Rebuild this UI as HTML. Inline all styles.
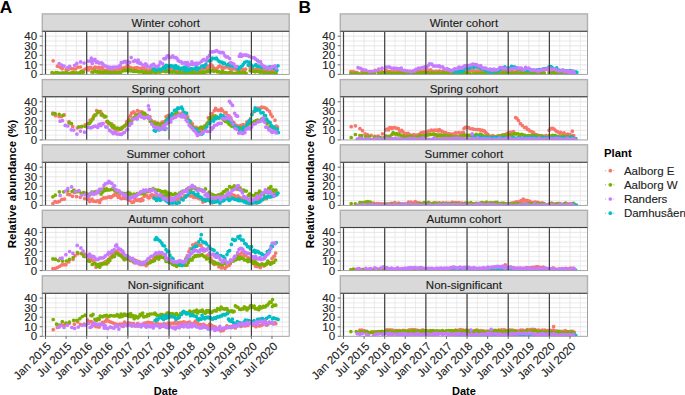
<!DOCTYPE html>
<html><head><meta charset="utf-8"><style>html,body{margin:0;padding:0;background:#fff;overflow:hidden}</style></head>
<body><svg width="685" height="395" viewBox="0 0 685 395" style="display:block">
<rect width="685" height="395" fill="#fff"/>
<line x1="45.50" y1="31.30" x2="45.50" y2="74.40" stroke="#e3e3e3" stroke-width="0.9"/><line x1="55.80" y1="31.30" x2="55.80" y2="74.40" stroke="#e3e3e3" stroke-width="0.7"/><line x1="66.09" y1="31.30" x2="66.09" y2="74.40" stroke="#e3e3e3" stroke-width="0.9"/><line x1="76.38" y1="31.30" x2="76.38" y2="74.40" stroke="#e3e3e3" stroke-width="0.7"/><line x1="86.68" y1="31.30" x2="86.68" y2="74.40" stroke="#e3e3e3" stroke-width="0.9"/><line x1="96.97" y1="31.30" x2="96.97" y2="74.40" stroke="#e3e3e3" stroke-width="0.7"/><line x1="107.27" y1="31.30" x2="107.27" y2="74.40" stroke="#e3e3e3" stroke-width="0.9"/><line x1="117.56" y1="31.30" x2="117.56" y2="74.40" stroke="#e3e3e3" stroke-width="0.7"/><line x1="127.86" y1="31.30" x2="127.86" y2="74.40" stroke="#e3e3e3" stroke-width="0.9"/><line x1="138.16" y1="31.30" x2="138.16" y2="74.40" stroke="#e3e3e3" stroke-width="0.7"/><line x1="148.45" y1="31.30" x2="148.45" y2="74.40" stroke="#e3e3e3" stroke-width="0.9"/><line x1="158.75" y1="31.30" x2="158.75" y2="74.40" stroke="#e3e3e3" stroke-width="0.7"/><line x1="169.04" y1="31.30" x2="169.04" y2="74.40" stroke="#e3e3e3" stroke-width="0.9"/><line x1="179.34" y1="31.30" x2="179.34" y2="74.40" stroke="#e3e3e3" stroke-width="0.7"/><line x1="189.63" y1="31.30" x2="189.63" y2="74.40" stroke="#e3e3e3" stroke-width="0.9"/><line x1="199.93" y1="31.30" x2="199.93" y2="74.40" stroke="#e3e3e3" stroke-width="0.7"/><line x1="210.22" y1="31.30" x2="210.22" y2="74.40" stroke="#e3e3e3" stroke-width="0.9"/><line x1="220.51" y1="31.30" x2="220.51" y2="74.40" stroke="#e3e3e3" stroke-width="0.7"/><line x1="230.81" y1="31.30" x2="230.81" y2="74.40" stroke="#e3e3e3" stroke-width="0.9"/><line x1="241.10" y1="31.30" x2="241.10" y2="74.40" stroke="#e3e3e3" stroke-width="0.7"/><line x1="251.40" y1="31.30" x2="251.40" y2="74.40" stroke="#e3e3e3" stroke-width="0.9"/><line x1="261.69" y1="31.30" x2="261.69" y2="74.40" stroke="#e3e3e3" stroke-width="0.7"/><line x1="271.99" y1="31.30" x2="271.99" y2="74.40" stroke="#e3e3e3" stroke-width="0.9"/><line x1="282.28" y1="31.30" x2="282.28" y2="74.40" stroke="#e3e3e3" stroke-width="0.7"/><line x1="42.30" y1="69.62" x2="289.20" y2="69.62" stroke="#e3e3e3" stroke-width="0.7"/><line x1="42.30" y1="64.85" x2="289.20" y2="64.85" stroke="#e3e3e3" stroke-width="0.9"/><line x1="42.30" y1="60.08" x2="289.20" y2="60.08" stroke="#e3e3e3" stroke-width="0.7"/><line x1="42.30" y1="55.30" x2="289.20" y2="55.30" stroke="#e3e3e3" stroke-width="0.9"/><line x1="42.30" y1="50.53" x2="289.20" y2="50.53" stroke="#e3e3e3" stroke-width="0.7"/><line x1="42.30" y1="45.75" x2="289.20" y2="45.75" stroke="#e3e3e3" stroke-width="0.9"/><line x1="42.30" y1="40.98" x2="289.20" y2="40.98" stroke="#e3e3e3" stroke-width="0.7"/><line x1="42.30" y1="36.20" x2="289.20" y2="36.20" stroke="#e3e3e3" stroke-width="0.9"/><line x1="42.30" y1="31.43" x2="289.20" y2="31.43" stroke="#e3e3e3" stroke-width="0.7"/>
<clipPath id="cp00"><rect x="42.30" y="31.30" width="246.90" height="43.10"/></clipPath><g clip-path="url(#cp00)"><path d="M53.2 60.8h0M57.4 66.2h0M60.1 67.1h0M62.2 68.7h0M66.1 69.6h0M68.2 69.5h0M71.4 68.6h0M73.3 68.9h0M75.6 69.0h0M77.7 67.1h0M80.4 67.0h0M83.1 70.4h0M85.3 69.0h0M87.4 67.6h0M88.4 69.9h0M89.7 67.5h0M90.9 67.4h0M91.9 68.7h0M93.9 68.3h0M95.0 67.1h0M96.1 67.5h0M97.4 67.8h0M98.6 67.3h0M99.9 69.2h0M101.4 67.3h0M102.4 67.2h0M103.4 69.8h0M104.6 70.7h0M106.6 70.0h0M108.0 69.2h0M109.2 71.4h0M110.5 68.3h0M112.0 70.6h0M113.3 71.5h0M114.5 70.6h0M116.0 70.3h0M117.1 69.1h0M119.0 68.9h0M120.0 69.3h0M121.0 68.9h0M122.1 68.0h0M123.2 68.4h0M124.7 67.5h0M126.1 68.4h0M127.2 65.6h0M128.3 65.9h0M129.9 68.9h0M131.0 67.5h0M132.2 68.3h0M133.6 68.8h0M134.7 67.9h0M136.0 69.5h0M137.2 67.7h0M138.4 68.1h0M141.1 68.3h0M142.5 69.1h0M143.6 68.0h0M144.6 68.9h0M145.6 69.0h0M146.7 69.9h0M148.0 70.3h0M149.0 70.4h0M150.0 70.3h0M151.3 69.5h0M152.4 69.6h0M153.5 69.8h0M155.7 70.5h0M156.9 69.6h0M157.9 70.0h0M159.0 69.8h0M160.0 71.8h0M161.0 71.0h0M162.7 69.4h0M163.7 66.9h0M165.0 69.1h0M166.0 68.0h0M167.1 67.7h0M168.4 68.6h0M169.6 68.4h0M170.7 67.4h0M172.0 70.3h0M174.6 68.4h0M175.9 69.0h0M177.0 70.1h0M178.0 69.9h0M179.1 69.4h0M180.4 70.5h0M181.9 69.4h0M183.3 69.5h0M184.4 70.7h0M185.5 70.7h0M186.8 71.9h0M188.9 69.6h0M189.9 69.1h0M191.2 72.0h0M192.5 69.5h0M193.7 71.1h0M194.8 71.9h0M196.2 71.2h0M198.2 69.8h0M199.5 70.0h0M200.5 70.0h0M201.9 69.5h0M203.3 68.5h0M205.3 67.4h0M206.3 68.6h0M207.3 68.4h0M208.5 66.0h0M209.7 67.1h0M210.8 64.1h0M212.4 65.9h0M213.4 67.7h0M214.6 68.5h0M216.1 68.7h0M217.3 68.0h0M218.7 66.5h0M219.9 65.9h0M221.5 67.1h0M222.5 69.3h0M223.6 67.7h0M224.8 67.7h0M225.9 66.8h0M227.1 66.6h0M228.8 68.0h0M229.9 68.4h0M231.1 70.6h0M232.3 69.2h0M233.5 67.1h0M234.7 68.3h0M236.0 69.4h0M237.2 67.1h0M238.5 69.8h0M239.9 70.2h0M241.1 69.2h0M243.4 69.6h0M244.6 69.5h0M245.6 69.1h0M250.2 67.7h0M251.5 68.3h0M252.9 69.0h0M254.2 69.6h0M256.1 69.3h0M257.5 68.8h0M258.7 66.1h0M260.0 69.7h0M261.0 68.6h0M263.0 70.4h0M264.1 69.9h0M265.3 69.8h0M266.5 70.9h0M267.8 70.2h0M269.0 72.8h0M270.6 71.4h0M271.6 70.3h0M273.0 70.8h0M274.0 71.3h0M275.4 71.4h0" fill="none" stroke="#F8766D" stroke-width="3.7" stroke-linecap="round"/>
<path d="M52.0 72.5h0M53.1 73.1h0M54.5 73.4h0M55.9 72.7h0M57.3 72.6h0M60.1 73.1h0M61.2 73.7h0M62.6 72.8h0M63.7 73.1h0M65.2 72.8h0M66.5 72.6h0M68.0 73.4h0M69.2 73.3h0M70.3 73.3h0M71.4 72.9h0M72.6 72.9h0M73.8 72.5h0M75.0 73.5h0M76.3 72.9h0M77.3 73.1h0M78.5 73.4h0M79.8 72.7h0M81.0 71.6h0M82.1 72.8h0M83.5 72.1h0M91.8 72.0h0M92.9 72.2h0M94.1 71.6h0M95.3 70.9h0M96.6 71.9h0M97.8 71.5h0M98.9 72.4h0M99.9 72.2h0M101.2 72.2h0M102.2 72.5h0M103.6 72.7h0M104.7 71.7h0M105.7 72.1h0M106.8 72.8h0M108.0 72.2h0M109.4 73.5h0M110.6 72.4h0M111.7 73.5h0M112.8 72.8h0M114.0 72.4h0M115.2 72.6h0M116.2 72.9h0M117.3 72.8h0M118.3 72.7h0M119.2 72.4h0M120.5 72.8h0M123.0 70.8h0M124.6 70.0h0M125.7 70.6h0M127.0 70.2h0M128.1 70.8h0M129.3 69.7h0M130.6 70.8h0M131.9 70.7h0M133.3 71.4h0M134.5 70.6h0M135.9 71.3h0M137.1 71.1h0M138.1 71.6h0M139.5 72.0h0M140.7 71.4h0M142.0 71.5h0M143.2 72.8h0M144.6 72.1h0M145.8 72.1h0M147.1 72.1h0M148.2 72.7h0M149.5 72.6h0M150.6 72.5h0M151.8 71.2h0M152.9 72.1h0M154.2 71.6h0M155.5 72.4h0M156.6 72.2h0M159.0 71.8h0M159.9 71.8h0M161.0 71.4h0M162.3 71.0h0M163.4 71.0h0M164.6 71.3h0M165.6 71.5h0M166.0 71.6h0M167.4 71.5h0M168.4 70.9h0M169.8 72.0h0M171.0 71.8h0M172.4 72.2h0M173.5 71.7h0M174.7 71.8h0M176.1 72.5h0M178.2 72.8h0M179.5 72.4h0M180.7 73.3h0M181.7 73.0h0M182.9 72.6h0M184.0 73.0h0M185.1 73.1h0M186.5 73.7h0M188.7 73.1h0M190.1 72.9h0M191.2 72.1h0M192.4 71.8h0M193.6 74.1h0M194.8 72.8h0M195.7 73.2h0M196.8 73.3h0M198.2 72.8h0M199.7 72.6h0M200.8 72.7h0M202.2 73.1h0M203.5 71.8h0M204.9 72.6h0M206.2 71.7h0M207.2 71.7h0M208.9 70.6h0M210.0 71.7h0M211.0 70.6h0M212.4 70.1h0M213.8 71.3h0M216.2 70.8h0M217.3 71.8h0M218.3 71.7h0M219.7 72.1h0M221.4 73.4h0M222.5 71.4h0M223.6 72.4h0M224.7 72.6h0M225.7 72.6h0M226.9 73.0h0M228.3 72.8h0M229.5 72.5h0M230.7 72.7h0M232.3 73.3h0M233.7 73.4h0M234.9 73.3h0M236.3 73.0h0M237.4 73.2h0M238.6 71.8h0M239.9 73.1h0M241.3 72.8h0M242.6 72.7h0M244.0 72.0h0M245.0 72.7h0M246.1 73.3h0M250.2 70.7h0M251.6 70.5h0M252.7 71.1h0M253.9 71.2h0M255.2 71.8h0M256.4 71.0h0M257.7 71.3h0M259.0 71.5h0M260.1 72.3h0M261.2 71.5h0M262.2 71.9h0M263.5 72.7h0M264.5 72.7h0M265.8 72.6h0M266.9 72.6h0M268.5 73.2h0M269.7 73.3h0M271.0 72.6h0M272.2 72.9h0M273.7 73.3h0M274.9 73.0h0M276.1 73.2h0" fill="none" stroke="#7CAE00" stroke-width="3.7" stroke-linecap="round"/>
<path d="M153.3 68.9h0M154.5 68.8h0M155.9 70.2h0M157.0 69.5h0M158.1 68.7h0M159.4 69.0h0M160.9 69.8h0M161.9 68.8h0M163.3 67.5h0M164.3 67.7h0M165.5 68.9h0M166.0 65.3h0M167.2 65.7h0M168.4 66.3h0M169.6 66.3h0M170.8 65.7h0M171.8 66.6h0M172.8 66.1h0M174.4 68.2h0M175.7 65.6h0M177.1 68.1h0M178.2 67.2h0M180.0 69.3h0M181.1 68.4h0M182.3 68.0h0M183.2 69.0h0M184.3 67.2h0M185.3 70.8h0M187.0 67.7h0M188.3 70.2h0M189.5 69.7h0M190.6 68.9h0M192.0 68.8h0M194.1 69.1h0M195.3 68.6h0M196.3 66.3h0M197.2 69.7h0M198.3 68.3h0M199.6 68.0h0M201.8 66.0h0M203.1 65.9h0M204.2 67.2h0M205.9 64.4h0M207.1 60.8h0M209.5 60.8h0M210.9 60.4h0M212.4 58.2h0M213.6 58.5h0M215.0 58.7h0M216.4 58.0h0M217.9 60.0h0M219.1 61.6h0M220.4 61.9h0M222.3 62.4h0M223.3 63.7h0M224.4 63.2h0M227.1 65.0h0M228.1 64.6h0M229.1 63.6h0M230.4 65.7h0M231.6 65.0h0M232.9 65.5h0M234.3 66.7h0M235.9 66.9h0M237.1 66.6h0M238.2 69.1h0M239.5 67.9h0M240.7 66.9h0M242.3 65.8h0M243.3 64.3h0M244.7 62.4h0M246.8 61.5h0M248.2 65.2h0M249.2 62.2h0M251.2 65.1h0M252.4 66.8h0M254.9 65.6h0M256.0 64.5h0M257.4 66.3h0M259.6 66.4h0M260.6 66.4h0M261.7 67.5h0M262.8 66.2h0M264.7 66.9h0M265.8 67.7h0M266.9 67.5h0M268.0 68.6h0M269.0 67.1h0M270.3 66.9h0M271.3 67.6h0M272.4 67.6h0M273.5 66.8h0M274.6 68.5h0M275.7 67.6h0M276.9 70.3h0M278.0 65.8h0" fill="none" stroke="#00BFC4" stroke-width="3.7" stroke-linecap="round"/>
<path d="M59.2 63.5h0M61.7 65.2h0M64.1 66.2h0M67.7 67.7h0M69.7 66.3h0M74.6 65.3h0M76.9 63.3h0M80.6 61.9h0M84.1 63.0h0M88.1 61.1h0M90.3 61.1h0M91.3 58.0h0M92.3 63.3h0M93.5 60.2h0M95.0 59.4h0M96.3 62.3h0M97.6 61.8h0M99.3 63.1h0M100.6 63.0h0M101.7 62.9h0M102.9 63.9h0M104.0 65.3h0M105.3 66.1h0M106.7 66.3h0M107.7 67.3h0M108.9 67.2h0M110.2 67.4h0M111.5 68.8h0M112.6 67.3h0M113.8 67.1h0M115.7 67.0h0M117.0 67.4h0M119.2 66.1h0M120.2 65.4h0M121.2 62.7h0M122.9 62.5h0M123.8 61.8h0M125.1 61.4h0M126.5 62.4h0M127.6 61.3h0M129.9 62.3h0M131.2 57.5h0M133.6 61.3h0M135.0 60.4h0M137.2 62.1h0M138.2 60.1h0M139.3 63.2h0M140.8 63.2h0M142.2 64.8h0M144.4 65.5h0M145.5 63.9h0M146.5 64.9h0M147.5 66.3h0M150.2 67.3h0M151.2 65.4h0M152.4 64.8h0M153.7 64.0h0M155.5 66.4h0M156.9 66.9h0M159.0 65.2h0M160.3 62.1h0M162.6 63.6h0M163.9 58.6h0M165.2 58.7h0M166.0 58.1h0M167.1 56.0h0M168.3 55.5h0M169.6 57.4h0M170.6 57.4h0M172.7 55.9h0M174.1 57.4h0M176.1 57.7h0M177.1 58.6h0M178.2 60.7h0M179.9 61.5h0M181.2 61.8h0M182.3 63.2h0M183.4 63.0h0M185.1 62.6h0M186.4 64.5h0M187.5 62.5h0M188.6 65.5h0M190.7 64.3h0M191.9 61.8h0M193.2 64.6h0M194.3 63.8h0M196.1 63.0h0M197.2 64.6h0M198.2 63.4h0M199.4 63.0h0M201.6 61.5h0M202.8 60.1h0M203.9 59.4h0M206.0 60.9h0M207.4 57.6h0M209.5 55.3h0M210.7 51.8h0M212.4 51.9h0M213.5 51.6h0M215.1 51.4h0M216.5 50.5h0M218.7 51.8h0M220.0 52.6h0M222.3 52.4h0M223.4 52.9h0M224.9 55.7h0M226.2 57.0h0M227.6 56.8h0M229.6 58.5h0M230.6 62.7h0M232.4 63.3h0M233.9 64.0h0M235.3 66.7h0M236.4 66.5h0M239.3 56.2h0M240.4 54.0h0M241.6 56.2h0M243.0 55.1h0M244.0 55.1h0M245.7 54.8h0M246.7 55.4h0M248.0 55.5h0M249.4 56.4h0M250.7 56.8h0M252.1 57.7h0M254.3 57.8h0M255.7 59.2h0M257.5 60.4h0M258.9 61.8h0M260.5 61.6h0M261.6 64.4h0M263.9 66.4h0M265.0 66.7h0M266.1 67.8h0M267.8 67.6h0M269.2 68.9h0M271.5 67.4h0M272.6 66.7h0M275.0 65.8h0M276.3 68.3h0" fill="none" stroke="#C77CFF" stroke-width="3.7" stroke-linecap="round"/></g>
<line x1="45.50" y1="31.30" x2="45.50" y2="74.40" stroke="#404040" stroke-width="1.2"/>
<line x1="86.68" y1="31.30" x2="86.68" y2="74.40" stroke="#404040" stroke-width="1.2"/>
<line x1="127.86" y1="31.30" x2="127.86" y2="74.40" stroke="#404040" stroke-width="1.2"/>
<line x1="169.04" y1="31.30" x2="169.04" y2="74.40" stroke="#404040" stroke-width="1.2"/>
<line x1="210.22" y1="31.30" x2="210.22" y2="74.40" stroke="#404040" stroke-width="1.2"/>
<line x1="251.40" y1="31.30" x2="251.40" y2="74.40" stroke="#404040" stroke-width="1.2"/>
<rect x="42.30" y="31.30" width="246.90" height="43.10" fill="none" stroke="#999" stroke-width="0.9"/>
<rect x="42.30" y="13.90" width="246.90" height="17.40" fill="#d9d9d9" stroke="#b0b0b0" stroke-width="1.4"/>
<line x1="42.30" y1="31.30" x2="289.20" y2="31.30" stroke="#444" stroke-width="1"/>
<text x="165.75" y="27.00" text-anchor="middle" font-size="11.5" fill="#1a1a1a" stroke="#1a1a1a" stroke-width="0.12" style="font-family:'Liberation Sans',sans-serif">Winter cohort</text>
<line x1="39.70" y1="74.40" x2="42.30" y2="74.40" stroke="#444" stroke-width="0.8"/>
<text x="37.10" y="78.40" text-anchor="end" font-size="11.5" fill="#222" stroke="#222" stroke-width="0.12" style="font-family:'Liberation Sans',sans-serif">0</text>
<line x1="39.70" y1="64.85" x2="42.30" y2="64.85" stroke="#444" stroke-width="0.8"/>
<text x="37.10" y="68.85" text-anchor="end" font-size="11.5" fill="#222" stroke="#222" stroke-width="0.12" style="font-family:'Liberation Sans',sans-serif">10</text>
<line x1="39.70" y1="55.30" x2="42.30" y2="55.30" stroke="#444" stroke-width="0.8"/>
<text x="37.10" y="59.30" text-anchor="end" font-size="11.5" fill="#222" stroke="#222" stroke-width="0.12" style="font-family:'Liberation Sans',sans-serif">20</text>
<line x1="39.70" y1="45.75" x2="42.30" y2="45.75" stroke="#444" stroke-width="0.8"/>
<text x="37.10" y="49.75" text-anchor="end" font-size="11.5" fill="#222" stroke="#222" stroke-width="0.12" style="font-family:'Liberation Sans',sans-serif">30</text>
<line x1="39.70" y1="36.20" x2="42.30" y2="36.20" stroke="#444" stroke-width="0.8"/>
<text x="37.10" y="40.20" text-anchor="end" font-size="11.5" fill="#222" stroke="#222" stroke-width="0.12" style="font-family:'Liberation Sans',sans-serif">40</text>
<line x1="45.50" y1="96.70" x2="45.50" y2="139.95" stroke="#e3e3e3" stroke-width="0.9"/><line x1="55.80" y1="96.70" x2="55.80" y2="139.95" stroke="#e3e3e3" stroke-width="0.7"/><line x1="66.09" y1="96.70" x2="66.09" y2="139.95" stroke="#e3e3e3" stroke-width="0.9"/><line x1="76.38" y1="96.70" x2="76.38" y2="139.95" stroke="#e3e3e3" stroke-width="0.7"/><line x1="86.68" y1="96.70" x2="86.68" y2="139.95" stroke="#e3e3e3" stroke-width="0.9"/><line x1="96.97" y1="96.70" x2="96.97" y2="139.95" stroke="#e3e3e3" stroke-width="0.7"/><line x1="107.27" y1="96.70" x2="107.27" y2="139.95" stroke="#e3e3e3" stroke-width="0.9"/><line x1="117.56" y1="96.70" x2="117.56" y2="139.95" stroke="#e3e3e3" stroke-width="0.7"/><line x1="127.86" y1="96.70" x2="127.86" y2="139.95" stroke="#e3e3e3" stroke-width="0.9"/><line x1="138.16" y1="96.70" x2="138.16" y2="139.95" stroke="#e3e3e3" stroke-width="0.7"/><line x1="148.45" y1="96.70" x2="148.45" y2="139.95" stroke="#e3e3e3" stroke-width="0.9"/><line x1="158.75" y1="96.70" x2="158.75" y2="139.95" stroke="#e3e3e3" stroke-width="0.7"/><line x1="169.04" y1="96.70" x2="169.04" y2="139.95" stroke="#e3e3e3" stroke-width="0.9"/><line x1="179.34" y1="96.70" x2="179.34" y2="139.95" stroke="#e3e3e3" stroke-width="0.7"/><line x1="189.63" y1="96.70" x2="189.63" y2="139.95" stroke="#e3e3e3" stroke-width="0.9"/><line x1="199.93" y1="96.70" x2="199.93" y2="139.95" stroke="#e3e3e3" stroke-width="0.7"/><line x1="210.22" y1="96.70" x2="210.22" y2="139.95" stroke="#e3e3e3" stroke-width="0.9"/><line x1="220.51" y1="96.70" x2="220.51" y2="139.95" stroke="#e3e3e3" stroke-width="0.7"/><line x1="230.81" y1="96.70" x2="230.81" y2="139.95" stroke="#e3e3e3" stroke-width="0.9"/><line x1="241.10" y1="96.70" x2="241.10" y2="139.95" stroke="#e3e3e3" stroke-width="0.7"/><line x1="251.40" y1="96.70" x2="251.40" y2="139.95" stroke="#e3e3e3" stroke-width="0.9"/><line x1="261.69" y1="96.70" x2="261.69" y2="139.95" stroke="#e3e3e3" stroke-width="0.7"/><line x1="271.99" y1="96.70" x2="271.99" y2="139.95" stroke="#e3e3e3" stroke-width="0.9"/><line x1="282.28" y1="96.70" x2="282.28" y2="139.95" stroke="#e3e3e3" stroke-width="0.7"/><line x1="42.30" y1="135.17" x2="289.20" y2="135.17" stroke="#e3e3e3" stroke-width="0.7"/><line x1="42.30" y1="130.40" x2="289.20" y2="130.40" stroke="#e3e3e3" stroke-width="0.9"/><line x1="42.30" y1="125.62" x2="289.20" y2="125.62" stroke="#e3e3e3" stroke-width="0.7"/><line x1="42.30" y1="120.85" x2="289.20" y2="120.85" stroke="#e3e3e3" stroke-width="0.9"/><line x1="42.30" y1="116.07" x2="289.20" y2="116.07" stroke="#e3e3e3" stroke-width="0.7"/><line x1="42.30" y1="111.30" x2="289.20" y2="111.30" stroke="#e3e3e3" stroke-width="0.9"/><line x1="42.30" y1="106.52" x2="289.20" y2="106.52" stroke="#e3e3e3" stroke-width="0.7"/><line x1="42.30" y1="101.75" x2="289.20" y2="101.75" stroke="#e3e3e3" stroke-width="0.9"/><line x1="42.30" y1="96.97" x2="289.20" y2="96.97" stroke="#e3e3e3" stroke-width="0.7"/>
<clipPath id="cp01"><rect x="42.30" y="96.70" width="246.90" height="43.25"/></clipPath><g clip-path="url(#cp01)"><path d="M52.9 113.1h0M55.5 115.7h0M59.2 116.6h0M61.3 116.7h0M64.2 114.9h0M69.0 121.6h0M72.7 126.4h0M77.3 128.0h0M81.4 126.9h0M85.2 124.8h0M88.0 123.3h0M90.2 120.2h0M91.6 120.2h0M93.2 117.7h0M94.3 115.2h0M96.6 110.6h0M97.7 112.7h0M99.3 112.0h0M100.6 111.4h0M101.7 113.7h0M103.0 115.8h0M104.3 117.1h0M106.6 121.7h0M108.3 123.6h0M109.4 123.3h0M110.5 124.1h0M111.8 123.8h0M112.9 125.9h0M113.9 128.3h0M115.5 129.7h0M116.5 128.4h0M117.9 130.1h0M119.4 129.6h0M120.7 128.1h0M122.7 128.0h0M123.7 126.7h0M124.9 126.2h0M126.6 121.8h0M127.7 120.8h0M128.8 118.0h0M130.3 115.8h0M131.5 113.2h0M133.6 111.8h0M134.9 113.2h0M137.5 110.5h0M138.8 111.3h0M141.0 112.0h0M142.0 111.8h0M143.3 114.8h0M144.5 113.4h0M145.7 115.3h0M147.4 117.2h0M148.6 118.1h0M149.9 116.7h0M150.9 120.3h0M152.1 122.0h0M153.6 123.6h0M154.6 121.8h0M155.9 123.3h0M157.3 124.9h0M158.5 123.5h0M160.7 123.7h0M162.1 122.2h0M163.1 123.2h0M164.4 121.7h0M165.5 122.4h0M166.0 116.7h0M167.3 116.2h0M168.4 115.4h0M171.0 115.3h0M172.2 114.6h0M174.3 115.5h0M175.3 113.8h0M176.6 111.4h0M178.1 113.2h0M179.2 115.1h0M181.8 113.3h0M182.9 112.4h0M185.1 115.5h0M186.5 115.6h0M187.6 116.9h0M188.8 120.0h0M189.7 121.0h0M190.8 122.2h0M192.5 123.9h0M193.8 127.0h0M194.9 129.3h0M196.3 127.4h0M197.7 129.1h0M199.8 128.5h0M200.8 131.3h0M202.1 128.7h0M203.2 127.7h0M204.5 126.1h0M205.7 125.4h0M206.9 123.7h0M208.3 117.8h0M210.8 113.9h0M212.2 113.7h0M214.3 110.7h0M215.6 108.4h0M217.8 110.3h0M218.8 110.2h0M219.8 110.4h0M221.3 108.8h0M222.6 110.7h0M224.9 112.9h0M226.1 112.5h0M227.4 115.3h0M229.0 115.9h0M230.0 117.0h0M230.9 118.1h0M232.5 121.9h0M233.9 122.5h0M236.0 125.1h0M237.3 125.7h0M239.5 127.0h0M240.7 125.4h0M241.9 125.9h0M243.2 124.5h0M244.4 125.0h0M246.8 122.1h0M248.0 121.4h0M250.5 118.7h0M251.9 114.0h0M254.1 111.7h0M255.4 109.8h0M257.9 108.1h0M259.1 109.0h0M260.1 108.3h0M261.5 107.1h0M262.9 107.4h0M264.3 107.5h0M266.0 108.3h0M267.2 109.6h0M269.5 111.3h0M270.8 114.2h0M272.3 116.6h0M275.0 120.2h0M276.3 126.0h0M277.5 127.2h0" fill="none" stroke="#F8766D" stroke-width="3.7" stroke-linecap="round"/>
<path d="M52.9 114.0h0M55.1 113.5h0M59.2 114.3h0M63.0 115.4h0M69.1 122.9h0M71.5 123.6h0M78.7 126.9h0M82.0 126.3h0M85.5 126.4h0M88.7 123.8h0M89.7 123.3h0M90.7 121.8h0M92.9 119.0h0M93.8 116.5h0M95.8 114.9h0M97.6 112.1h0M98.9 111.5h0M101.3 114.9h0M102.7 114.9h0M104.9 116.3h0M105.9 116.7h0M107.6 121.4h0M108.8 122.8h0M110.1 123.7h0M111.4 125.7h0M112.6 127.2h0M113.9 125.9h0M115.2 128.2h0M117.6 128.1h0M118.5 128.7h0M121.1 129.2h0M122.4 127.3h0M124.8 125.5h0M126.0 124.5h0M128.2 122.6h0M129.6 120.8h0M131.8 120.6h0M133.0 118.2h0M134.8 117.0h0M136.1 115.6h0M137.5 114.8h0M138.9 114.8h0M141.0 114.8h0M142.0 112.9h0M143.8 113.3h0M145.2 114.0h0M147.3 115.5h0M148.4 118.1h0M150.1 121.3h0M151.1 120.4h0M153.8 123.0h0M155.1 124.8h0M157.3 123.1h0M158.3 125.1h0M159.4 125.9h0M160.9 126.3h0M162.0 123.9h0M163.0 124.0h0M164.4 124.3h0M165.8 123.2h0M166.0 120.3h0M167.2 119.0h0M168.2 120.2h0M169.2 120.7h0M170.4 118.0h0M172.5 117.1h0M173.9 114.9h0M175.3 116.2h0M176.3 112.0h0M177.9 114.4h0M178.9 114.8h0M180.1 115.4h0M182.8 115.2h0M183.8 116.0h0M184.8 117.1h0M187.0 118.8h0M188.4 121.7h0M190.7 124.6h0M192.1 126.7h0M194.2 128.8h0M195.3 128.6h0M196.7 130.6h0M199.0 128.3h0M200.3 127.6h0M201.3 127.1h0M203.5 129.5h0M204.6 126.4h0M207.1 124.1h0M208.2 122.0h0M209.3 119.0h0M210.3 117.7h0M211.6 118.6h0M212.7 116.6h0M213.7 116.6h0M215.3 115.9h0M216.7 117.2h0M219.0 118.1h0M220.4 117.1h0M221.5 117.5h0M223.3 119.3h0M224.4 120.4h0M225.4 121.5h0M227.1 121.6h0M228.2 122.9h0M229.3 124.2h0M230.5 125.1h0M231.6 126.1h0M234.0 126.9h0M235.4 127.5h0M237.7 127.9h0M238.7 129.1h0M239.8 127.3h0M241.6 131.4h0M242.6 128.3h0M243.6 130.6h0M244.9 127.6h0M246.3 126.0h0M247.4 125.0h0M248.7 124.0h0M249.7 121.1h0M250.8 123.2h0M252.1 122.5h0M253.4 122.9h0M254.5 121.4h0M255.7 120.8h0M257.6 120.2h0M258.9 120.5h0M261.4 119.1h0M262.7 119.9h0M263.8 120.0h0M265.8 121.1h0M267.1 123.6h0M268.1 122.9h0M270.4 126.3h0M271.4 126.0h0M272.8 127.2h0M274.0 129.3h0M275.0 128.7h0M276.2 130.9h0" fill="none" stroke="#7CAE00" stroke-width="3.7" stroke-linecap="round"/>
<path d="M154.2 130.3h0M155.5 131.1h0M156.7 128.5h0M159.0 130.0h0M160.4 129.3h0M162.7 127.9h0M163.9 128.8h0M164.9 129.4h0M165.9 128.4h0M166.0 122.2h0M167.1 120.6h0M168.1 118.8h0M169.4 117.1h0M170.9 115.4h0M172.1 113.5h0M174.5 110.4h0M175.5 110.7h0M176.7 109.5h0M177.9 107.9h0M179.1 108.3h0M181.5 107.2h0M182.6 109.0h0M183.9 112.0h0M185.5 113.0h0M186.7 113.3h0M188.8 120.7h0M189.9 121.1h0M192.7 127.8h0M194.1 129.8h0M196.2 129.3h0M197.6 132.7h0M198.8 132.5h0M200.0 132.9h0M201.6 134.3h0M202.8 133.3h0M205.3 130.2h0M206.8 126.8h0M209.0 123.6h0M210.0 123.2h0M212.3 120.5h0M213.6 121.1h0M214.6 118.1h0M216.0 118.7h0M217.2 117.1h0M218.4 117.7h0M219.7 117.3h0M220.8 114.9h0M221.8 116.1h0M223.1 115.8h0M224.2 117.3h0M225.3 117.7h0M227.0 119.1h0M228.2 119.6h0M229.6 120.6h0M230.9 121.1h0M232.2 122.8h0M233.3 123.9h0M234.6 126.3h0M235.9 127.7h0M237.1 127.3h0M238.3 127.8h0M239.7 131.7h0M240.8 130.9h0M241.9 130.2h0M243.2 127.0h0M244.2 128.4h0M245.3 128.6h0M246.8 124.9h0M247.9 123.2h0M249.3 120.9h0M250.5 119.3h0M251.8 114.8h0M254.2 111.2h0M255.2 107.9h0M256.6 110.3h0M257.8 109.6h0M259.6 110.1h0M260.9 112.8h0M263.1 112.6h0M264.4 115.6h0M265.5 115.6h0M266.7 119.2h0M268.0 121.1h0M270.2 122.5h0M271.3 125.6h0M272.6 127.4h0M274.2 127.2h0M275.6 131.2h0M277.5 129.0h0M278.4 132.6h0" fill="none" stroke="#00BFC4" stroke-width="3.7" stroke-linecap="round"/>
<path d="M60.1 121.2h0M62.5 120.6h0M65.2 125.4h0M67.8 126.0h0M71.3 129.8h0M73.7 130.1h0M76.9 134.1h0M80.4 131.1h0M84.5 132.2h0M87.7 127.4h0M90.2 127.8h0M91.4 127.7h0M92.5 127.0h0M94.0 126.4h0M95.4 126.2h0M97.7 127.3h0M98.8 124.6h0M99.9 124.1h0M101.0 125.6h0M102.0 123.6h0M103.2 123.7h0M105.7 126.8h0M107.1 127.1h0M109.4 130.2h0M110.7 131.1h0M112.1 132.2h0M113.3 133.6h0M114.4 132.3h0M115.6 132.3h0M116.8 134.0h0M119.0 134.2h0M120.0 134.2h0M121.4 134.5h0M123.0 133.1h0M124.3 132.5h0M126.6 130.0h0M127.7 129.4h0M129.4 125.4h0M130.6 123.7h0M131.7 123.3h0M133.1 119.1h0M134.7 118.6h0M136.1 118.0h0M137.2 119.1h0M138.3 116.5h0M140.3 114.7h0M141.3 116.9h0M142.9 117.2h0M144.2 118.2h0M146.5 117.0h0M147.7 117.0h0M148.7 116.7h0M149.8 119.2h0M151.8 124.1h0M153.8 126.7h0M154.9 127.0h0M156.0 128.2h0M157.0 127.4h0M158.1 127.3h0M159.4 129.1h0M160.7 128.7h0M161.9 128.9h0M162.9 126.1h0M164.6 125.3h0M165.7 128.6h0M148.4 105.9h0M149.2 109.5h0M166.0 124.0h0M167.2 122.9h0M168.2 122.8h0M169.5 120.3h0M170.8 121.9h0M171.8 118.7h0M173.2 118.1h0M174.4 117.2h0M175.8 117.1h0M178.1 115.3h0M179.3 115.2h0M180.3 115.9h0M181.8 117.0h0M182.8 114.6h0M184.0 115.4h0M185.1 117.3h0M186.1 120.0h0M187.4 121.4h0M189.1 125.1h0M190.4 126.6h0M192.3 128.4h0M193.6 129.9h0M194.8 131.1h0M196.3 132.9h0M197.4 135.5h0M198.6 134.5h0M200.8 134.2h0M202.1 133.0h0M203.1 132.0h0M205.1 130.8h0M206.2 131.0h0M207.5 131.3h0M209.8 131.4h0M210.9 127.7h0M212.1 129.1h0M213.5 127.3h0M214.5 125.3h0M217.0 124.8h0M218.0 123.7h0M219.4 123.3h0M221.3 123.3h0M222.6 118.6h0M225.0 119.0h0M226.0 118.5h0M227.4 116.4h0M228.9 118.7h0M230.0 118.0h0M231.6 120.3h0M233.0 124.0h0M235.2 128.4h0M236.6 129.3h0M238.7 133.1h0M239.9 132.8h0M241.2 132.4h0M242.3 133.5h0M243.4 133.3h0M244.9 132.4h0M246.0 129.2h0M247.4 129.0h0M248.5 127.6h0M250.5 128.9h0M251.6 126.9h0M253.9 124.1h0M255.2 123.7h0M257.9 122.0h0M258.9 121.4h0M259.9 121.4h0M261.2 120.3h0M262.4 120.7h0M263.4 118.2h0M264.8 122.3h0M265.8 127.1h0M267.5 127.2h0M268.8 129.9h0M269.8 129.8h0M271.3 131.3h0M272.2 132.5h0M273.6 131.2h0M275.0 131.4h0M276.1 132.9h0M229.4 101.3h0M230.7 103.0h0M232.6 105.4h0M234.7 113.3h0M236.1 115.7h0M237.6 116.2h0" fill="none" stroke="#C77CFF" stroke-width="3.7" stroke-linecap="round"/></g>
<line x1="45.50" y1="96.70" x2="45.50" y2="139.95" stroke="#404040" stroke-width="1.2"/>
<line x1="86.68" y1="96.70" x2="86.68" y2="139.95" stroke="#404040" stroke-width="1.2"/>
<line x1="127.86" y1="96.70" x2="127.86" y2="139.95" stroke="#404040" stroke-width="1.2"/>
<line x1="169.04" y1="96.70" x2="169.04" y2="139.95" stroke="#404040" stroke-width="1.2"/>
<line x1="210.22" y1="96.70" x2="210.22" y2="139.95" stroke="#404040" stroke-width="1.2"/>
<line x1="251.40" y1="96.70" x2="251.40" y2="139.95" stroke="#404040" stroke-width="1.2"/>
<rect x="42.30" y="96.70" width="246.90" height="43.25" fill="none" stroke="#999" stroke-width="0.9"/>
<rect x="42.30" y="79.60" width="246.90" height="17.10" fill="#d9d9d9" stroke="#b0b0b0" stroke-width="1.4"/>
<line x1="42.30" y1="96.70" x2="289.20" y2="96.70" stroke="#444" stroke-width="1"/>
<text x="165.75" y="92.70" text-anchor="middle" font-size="11.5" fill="#1a1a1a" stroke="#1a1a1a" stroke-width="0.12" style="font-family:'Liberation Sans',sans-serif">Spring cohort</text>
<line x1="39.70" y1="139.95" x2="42.30" y2="139.95" stroke="#444" stroke-width="0.8"/>
<text x="37.10" y="143.95" text-anchor="end" font-size="11.5" fill="#222" stroke="#222" stroke-width="0.12" style="font-family:'Liberation Sans',sans-serif">0</text>
<line x1="39.70" y1="130.40" x2="42.30" y2="130.40" stroke="#444" stroke-width="0.8"/>
<text x="37.10" y="134.40" text-anchor="end" font-size="11.5" fill="#222" stroke="#222" stroke-width="0.12" style="font-family:'Liberation Sans',sans-serif">10</text>
<line x1="39.70" y1="120.85" x2="42.30" y2="120.85" stroke="#444" stroke-width="0.8"/>
<text x="37.10" y="124.85" text-anchor="end" font-size="11.5" fill="#222" stroke="#222" stroke-width="0.12" style="font-family:'Liberation Sans',sans-serif">20</text>
<line x1="39.70" y1="111.30" x2="42.30" y2="111.30" stroke="#444" stroke-width="0.8"/>
<text x="37.10" y="115.30" text-anchor="end" font-size="11.5" fill="#222" stroke="#222" stroke-width="0.12" style="font-family:'Liberation Sans',sans-serif">30</text>
<line x1="39.70" y1="101.75" x2="42.30" y2="101.75" stroke="#444" stroke-width="0.8"/>
<text x="37.10" y="105.75" text-anchor="end" font-size="11.5" fill="#222" stroke="#222" stroke-width="0.12" style="font-family:'Liberation Sans',sans-serif">40</text>
<line x1="45.50" y1="162.30" x2="45.50" y2="205.40" stroke="#e3e3e3" stroke-width="0.9"/><line x1="55.80" y1="162.30" x2="55.80" y2="205.40" stroke="#e3e3e3" stroke-width="0.7"/><line x1="66.09" y1="162.30" x2="66.09" y2="205.40" stroke="#e3e3e3" stroke-width="0.9"/><line x1="76.38" y1="162.30" x2="76.38" y2="205.40" stroke="#e3e3e3" stroke-width="0.7"/><line x1="86.68" y1="162.30" x2="86.68" y2="205.40" stroke="#e3e3e3" stroke-width="0.9"/><line x1="96.97" y1="162.30" x2="96.97" y2="205.40" stroke="#e3e3e3" stroke-width="0.7"/><line x1="107.27" y1="162.30" x2="107.27" y2="205.40" stroke="#e3e3e3" stroke-width="0.9"/><line x1="117.56" y1="162.30" x2="117.56" y2="205.40" stroke="#e3e3e3" stroke-width="0.7"/><line x1="127.86" y1="162.30" x2="127.86" y2="205.40" stroke="#e3e3e3" stroke-width="0.9"/><line x1="138.16" y1="162.30" x2="138.16" y2="205.40" stroke="#e3e3e3" stroke-width="0.7"/><line x1="148.45" y1="162.30" x2="148.45" y2="205.40" stroke="#e3e3e3" stroke-width="0.9"/><line x1="158.75" y1="162.30" x2="158.75" y2="205.40" stroke="#e3e3e3" stroke-width="0.7"/><line x1="169.04" y1="162.30" x2="169.04" y2="205.40" stroke="#e3e3e3" stroke-width="0.9"/><line x1="179.34" y1="162.30" x2="179.34" y2="205.40" stroke="#e3e3e3" stroke-width="0.7"/><line x1="189.63" y1="162.30" x2="189.63" y2="205.40" stroke="#e3e3e3" stroke-width="0.9"/><line x1="199.93" y1="162.30" x2="199.93" y2="205.40" stroke="#e3e3e3" stroke-width="0.7"/><line x1="210.22" y1="162.30" x2="210.22" y2="205.40" stroke="#e3e3e3" stroke-width="0.9"/><line x1="220.51" y1="162.30" x2="220.51" y2="205.40" stroke="#e3e3e3" stroke-width="0.7"/><line x1="230.81" y1="162.30" x2="230.81" y2="205.40" stroke="#e3e3e3" stroke-width="0.9"/><line x1="241.10" y1="162.30" x2="241.10" y2="205.40" stroke="#e3e3e3" stroke-width="0.7"/><line x1="251.40" y1="162.30" x2="251.40" y2="205.40" stroke="#e3e3e3" stroke-width="0.9"/><line x1="261.69" y1="162.30" x2="261.69" y2="205.40" stroke="#e3e3e3" stroke-width="0.7"/><line x1="271.99" y1="162.30" x2="271.99" y2="205.40" stroke="#e3e3e3" stroke-width="0.9"/><line x1="282.28" y1="162.30" x2="282.28" y2="205.40" stroke="#e3e3e3" stroke-width="0.7"/><line x1="42.30" y1="200.62" x2="289.20" y2="200.62" stroke="#e3e3e3" stroke-width="0.7"/><line x1="42.30" y1="195.85" x2="289.20" y2="195.85" stroke="#e3e3e3" stroke-width="0.9"/><line x1="42.30" y1="191.08" x2="289.20" y2="191.08" stroke="#e3e3e3" stroke-width="0.7"/><line x1="42.30" y1="186.30" x2="289.20" y2="186.30" stroke="#e3e3e3" stroke-width="0.9"/><line x1="42.30" y1="181.53" x2="289.20" y2="181.53" stroke="#e3e3e3" stroke-width="0.7"/><line x1="42.30" y1="176.75" x2="289.20" y2="176.75" stroke="#e3e3e3" stroke-width="0.9"/><line x1="42.30" y1="171.98" x2="289.20" y2="171.98" stroke="#e3e3e3" stroke-width="0.7"/><line x1="42.30" y1="167.20" x2="289.20" y2="167.20" stroke="#e3e3e3" stroke-width="0.9"/><line x1="42.30" y1="162.43" x2="289.20" y2="162.43" stroke="#e3e3e3" stroke-width="0.7"/>
<clipPath id="cp02"><rect x="42.30" y="162.30" width="246.90" height="43.10"/></clipPath><g clip-path="url(#cp02)"><path d="M52.9 203.5h0M55.0 201.6h0M57.2 202.2h0M59.4 201.4h0M61.9 199.4h0M64.4 199.1h0M67.8 194.3h0M69.8 194.7h0M72.5 196.3h0M74.5 192.6h0M76.5 196.6h0M80.2 197.3h0M84.5 198.6h0M88.6 199.4h0M89.8 201.6h0M92.0 199.2h0M93.4 201.2h0M94.7 201.1h0M95.9 201.5h0M97.4 200.8h0M98.5 200.8h0M99.7 202.4h0M101.1 199.6h0M103.2 198.1h0M104.1 197.9h0M105.4 198.0h0M106.7 197.7h0M108.4 197.2h0M109.5 196.7h0M110.9 197.5h0M112.2 196.6h0M113.6 195.4h0M114.8 194.7h0M116.0 193.8h0M117.2 195.4h0M118.3 197.2h0M119.3 196.1h0M120.9 198.5h0M122.0 198.5h0M123.2 197.4h0M124.4 198.2h0M126.5 198.6h0M127.6 199.0h0M128.6 197.6h0M129.9 200.5h0M132.0 202.4h0M133.3 202.2h0M134.3 200.8h0M135.4 199.5h0M137.4 200.4h0M138.7 199.6h0M139.7 200.1h0M140.6 200.9h0M141.7 198.8h0M142.9 200.1h0M144.3 196.3h0M146.6 195.6h0M148.0 197.6h0M149.1 198.0h0M150.4 195.5h0M151.8 194.5h0M153.1 197.7h0M154.0 195.6h0M155.3 197.0h0M157.1 196.7h0M158.5 195.8h0M159.5 195.5h0M160.7 196.9h0M162.4 195.3h0M163.5 196.7h0M164.7 196.1h0M165.8 196.4h0M166.0 198.1h0M167.4 197.4h0M168.6 197.9h0M170.0 197.1h0M171.0 198.6h0M172.8 199.6h0M174.2 199.8h0M175.5 199.4h0M176.8 198.5h0M178.2 199.5h0M179.4 199.3h0M180.4 197.0h0M181.5 198.0h0M183.3 198.9h0M184.3 195.8h0M185.6 197.0h0M186.7 195.7h0M188.8 195.5h0M189.8 192.6h0M190.8 196.1h0M192.6 195.9h0M193.8 197.4h0M194.9 196.1h0M196.4 197.4h0M197.4 196.8h0M198.8 198.5h0M200.1 198.8h0M201.5 199.1h0M202.8 202.1h0M204.1 199.1h0M205.2 201.2h0M207.1 199.4h0M208.2 199.9h0M209.2 200.4h0M210.3 199.3h0M212.4 202.8h0M213.5 200.0h0M214.5 200.5h0M215.5 200.1h0M216.6 198.2h0M217.8 198.8h0M218.9 198.6h0M220.0 197.7h0M221.4 196.2h0M223.5 196.4h0M224.6 196.2h0M225.8 196.9h0M227.1 195.5h0M228.9 196.2h0M230.3 195.4h0M231.4 194.7h0M232.4 194.8h0M234.3 195.3h0M235.3 196.7h0M236.6 197.2h0M237.9 195.9h0M239.3 197.3h0M240.7 198.1h0M243.2 199.8h0M244.4 200.3h0M245.8 198.8h0M246.8 198.9h0M248.8 200.3h0M250.1 200.2h0M251.2 202.0h0M252.2 201.5h0M254.0 199.7h0M255.1 200.9h0M256.3 203.0h0M257.5 200.8h0M259.3 199.0h0M260.4 198.8h0M261.4 199.9h0M262.8 199.7h0M265.1 197.5h0M266.3 198.7h0M267.6 197.0h0M268.7 196.2h0M270.3 196.4h0M271.6 194.8h0M272.7 196.4h0M273.9 192.9h0M275.8 195.1h0M276.8 193.8h0" fill="none" stroke="#F8766D" stroke-width="3.7" stroke-linecap="round"/>
<path d="M52.9 196.8h0M55.3 195.2h0M59.4 191.8h0M63.8 191.8h0M67.8 191.0h0M72.1 191.5h0M74.0 190.0h0M77.1 191.7h0M79.0 191.4h0M81.2 193.4h0M83.6 192.5h0M86.2 193.1h0M88.3 194.4h0M89.6 195.0h0M90.7 193.8h0M91.9 192.1h0M93.3 192.3h0M94.7 192.0h0M95.8 191.7h0M97.5 191.9h0M98.8 192.2h0M100.1 190.3h0M101.1 194.1h0M102.8 191.9h0M103.9 188.8h0M105.2 190.4h0M106.6 188.9h0M107.9 189.9h0M109.2 190.0h0M111.1 189.5h0M112.5 189.1h0M114.8 190.9h0M116.2 190.6h0M117.7 191.6h0M119.5 192.6h0M120.4 193.2h0M121.7 193.0h0M123.6 193.6h0M124.7 193.6h0M126.1 193.9h0M128.1 192.6h0M129.1 195.1h0M130.1 193.3h0M131.3 195.0h0M132.3 196.1h0M133.9 194.0h0M135.0 196.5h0M137.2 193.6h0M138.4 194.1h0M139.5 193.5h0M140.5 192.1h0M141.9 193.7h0M142.9 192.2h0M144.3 193.5h0M146.2 190.7h0M147.3 191.7h0M148.5 191.1h0M149.7 189.7h0M151.9 189.7h0M153.2 188.6h0M155.7 189.8h0M157.0 190.5h0M158.2 190.2h0M160.2 190.8h0M161.3 192.3h0M162.4 191.9h0M163.8 191.9h0M164.9 191.3h0M165.9 191.5h0M166.0 194.5h0M167.0 195.5h0M168.4 193.0h0M169.4 194.2h0M170.7 193.7h0M172.5 194.6h0M173.9 194.7h0M175.2 193.5h0M176.7 194.9h0M178.1 194.5h0M179.4 193.0h0M181.7 191.8h0M182.8 191.4h0M184.1 191.1h0M185.2 191.2h0M186.6 189.4h0M187.8 190.8h0M189.0 190.2h0M190.7 189.9h0M192.0 186.9h0M193.0 187.9h0M194.5 187.0h0M195.9 189.0h0M197.3 189.2h0M199.0 189.1h0M200.4 190.0h0M201.5 190.2h0M203.3 190.9h0M204.5 190.0h0M205.5 188.9h0M207.0 194.6h0M208.2 193.7h0M209.2 192.2h0M211.5 194.0h0M212.6 194.8h0M213.7 195.0h0M214.8 195.5h0M215.9 195.9h0M217.0 196.4h0M218.1 194.9h0M219.1 196.4h0M220.8 194.0h0M222.1 193.9h0M223.4 191.9h0M225.1 191.1h0M226.4 189.5h0M227.6 189.8h0M229.6 186.5h0M231.0 187.5h0M232.0 187.6h0M234.3 185.8h0M235.4 188.2h0M236.5 187.9h0M237.8 189.2h0M238.8 187.4h0M240.0 187.9h0M241.4 189.9h0M242.6 191.1h0M243.8 190.1h0M245.2 191.0h0M246.3 191.1h0M248.4 195.4h0M249.7 193.8h0M251.0 194.8h0M252.0 195.5h0M253.9 195.6h0M254.9 195.1h0M255.9 193.6h0M257.2 194.4h0M258.2 193.4h0M259.5 191.2h0M260.8 192.3h0M262.2 194.4h0M263.4 194.4h0M265.2 192.4h0M266.3 192.4h0M268.7 188.4h0M269.9 187.9h0M270.9 186.7h0M272.4 190.5h0M273.4 189.8h0M274.8 191.0h0M276.0 190.2h0" fill="none" stroke="#7CAE00" stroke-width="3.7" stroke-linecap="round"/>
<path d="M154.2 198.1h0M155.6 198.9h0M156.6 200.4h0M157.6 199.2h0M159.1 198.7h0M160.2 200.3h0M161.3 199.6h0M162.8 198.5h0M164.1 196.9h0M165.2 199.7h0M166.0 200.8h0M167.0 199.8h0M168.0 202.1h0M169.3 203.2h0M170.4 202.9h0M172.7 203.1h0M173.9 201.7h0M175.2 202.7h0M176.6 203.6h0M178.3 202.6h0M179.3 202.6h0M181.9 199.1h0M183.0 200.0h0M185.4 197.0h0M186.7 195.8h0M187.7 195.0h0M189.9 192.6h0M191.0 192.5h0M193.4 192.7h0M194.7 194.3h0M197.0 195.7h0M198.0 193.8h0M199.1 196.5h0M200.3 197.2h0M201.6 197.8h0M202.8 199.6h0M203.9 200.1h0M205.5 200.6h0M206.6 199.4h0M207.7 200.2h0M209.1 199.5h0M210.6 201.9h0M211.9 200.2h0M212.9 201.9h0M214.2 202.2h0M215.9 201.9h0M217.2 201.4h0M218.6 200.0h0M219.9 203.2h0M221.4 200.2h0M222.7 200.9h0M223.8 200.6h0M224.8 199.3h0M226.7 198.1h0M228.0 199.0h0M229.2 200.5h0M230.2 199.4h0M232.2 198.2h0M233.3 198.6h0M234.6 199.3h0M236.0 199.5h0M238.0 200.4h0M239.0 199.2h0M240.0 200.7h0M241.2 200.5h0M243.0 200.9h0M244.3 201.9h0M245.5 201.7h0M246.6 202.9h0M248.5 202.9h0M249.7 204.9h0M251.1 205.4h0M252.3 203.3h0M254.1 202.7h0M255.4 202.1h0M256.5 202.6h0M257.6 202.6h0M259.4 202.1h0M260.7 201.0h0M261.7 199.3h0M263.0 199.2h0M264.8 197.1h0M265.8 197.2h0M267.1 197.6h0M268.2 196.0h0M270.4 196.9h0M271.8 196.3h0M272.9 195.6h0M274.0 195.8h0M275.9 195.0h0M276.9 194.4h0M278.0 193.0h0" fill="none" stroke="#00BFC4" stroke-width="3.7" stroke-linecap="round"/>
<path d="M60.1 195.4h0M65.4 191.0h0M67.8 188.6h0M71.6 186.9h0M75.2 191.6h0M78.9 190.7h0M82.0 195.1h0M85.6 194.7h0M88.7 196.4h0M90.0 193.8h0M92.1 192.3h0M93.5 194.3h0M95.6 193.7h0M97.0 191.3h0M98.0 192.7h0M99.5 189.4h0M100.6 189.3h0M101.6 189.1h0M104.0 185.6h0M105.2 183.9h0M107.6 183.0h0M109.0 181.3h0M110.9 182.9h0M112.0 183.4h0M113.3 187.0h0M114.7 185.8h0M115.7 189.5h0M116.8 190.2h0M119.2 190.8h0M120.3 192.9h0M122.9 194.2h0M124.0 195.4h0M125.3 194.4h0M127.2 197.0h0M128.5 198.6h0M129.5 197.5h0M130.6 198.1h0M132.1 196.7h0M133.3 197.5h0M134.5 195.8h0M136.4 196.0h0M137.8 194.3h0M138.8 193.6h0M140.3 192.5h0M141.4 191.9h0M143.5 190.2h0M144.7 191.6h0M145.8 190.0h0M147.5 190.5h0M148.7 190.2h0M149.9 191.3h0M151.9 190.3h0M153.0 189.2h0M155.4 191.9h0M156.6 193.5h0M159.1 195.4h0M160.4 194.8h0M162.8 198.0h0M164.1 198.6h0M165.1 198.1h0M166.0 199.0h0M167.4 199.9h0M168.6 200.2h0M169.6 198.0h0M170.9 200.4h0M172.8 198.7h0M173.9 200.0h0M175.3 197.4h0M176.6 196.7h0M178.3 196.7h0M179.4 194.7h0M180.4 193.8h0M181.6 193.4h0M182.6 191.2h0M183.7 192.0h0M185.1 190.8h0M186.2 190.4h0M187.4 191.6h0M188.4 187.8h0M190.0 187.4h0M191.2 187.0h0M192.2 185.4h0M193.7 187.1h0M194.8 187.3h0M197.2 190.4h0M198.5 189.5h0M199.5 189.3h0M201.6 190.1h0M202.9 191.6h0M204.0 191.2h0M205.1 195.0h0M206.4 194.0h0M207.4 196.4h0M209.8 194.6h0M210.9 198.4h0M211.9 198.2h0M213.4 198.0h0M214.6 197.9h0M215.7 197.5h0M218.1 197.1h0M219.4 197.0h0M220.6 199.6h0M222.4 197.0h0M223.7 196.7h0M225.1 197.1h0M226.9 194.3h0M228.0 192.7h0M229.1 194.7h0M230.7 193.0h0M232.0 190.7h0M234.1 189.3h0M235.4 188.9h0M237.0 186.1h0M238.3 185.7h0M239.7 189.7h0M241.1 190.5h0M242.4 192.7h0M243.7 196.4h0M245.1 197.0h0M246.4 197.8h0M248.5 199.0h0M249.7 200.3h0M250.9 198.4h0M252.2 200.6h0M253.9 199.5h0M255.1 198.8h0M256.1 198.6h0M257.3 195.8h0M258.3 196.6h0M259.3 196.7h0M260.5 197.0h0M261.6 194.1h0M263.0 193.1h0M264.4 192.5h0M265.3 189.9h0M266.5 190.3h0M267.5 191.8h0M268.8 192.3h0M270.4 191.7h0M271.6 193.6h0M274.1 196.0h0" fill="none" stroke="#C77CFF" stroke-width="3.7" stroke-linecap="round"/></g>
<line x1="45.50" y1="162.30" x2="45.50" y2="205.40" stroke="#404040" stroke-width="1.2"/>
<line x1="86.68" y1="162.30" x2="86.68" y2="205.40" stroke="#404040" stroke-width="1.2"/>
<line x1="127.86" y1="162.30" x2="127.86" y2="205.40" stroke="#404040" stroke-width="1.2"/>
<line x1="169.04" y1="162.30" x2="169.04" y2="205.40" stroke="#404040" stroke-width="1.2"/>
<line x1="210.22" y1="162.30" x2="210.22" y2="205.40" stroke="#404040" stroke-width="1.2"/>
<line x1="251.40" y1="162.30" x2="251.40" y2="205.40" stroke="#404040" stroke-width="1.2"/>
<rect x="42.30" y="162.30" width="246.90" height="43.10" fill="none" stroke="#999" stroke-width="0.9"/>
<rect x="42.30" y="144.80" width="246.90" height="17.50" fill="#d9d9d9" stroke="#b0b0b0" stroke-width="1.4"/>
<line x1="42.30" y1="162.30" x2="289.20" y2="162.30" stroke="#444" stroke-width="1"/>
<text x="165.75" y="157.90" text-anchor="middle" font-size="11.5" fill="#1a1a1a" stroke="#1a1a1a" stroke-width="0.12" style="font-family:'Liberation Sans',sans-serif">Summer cohort</text>
<line x1="39.70" y1="205.40" x2="42.30" y2="205.40" stroke="#444" stroke-width="0.8"/>
<text x="37.10" y="209.40" text-anchor="end" font-size="11.5" fill="#222" stroke="#222" stroke-width="0.12" style="font-family:'Liberation Sans',sans-serif">0</text>
<line x1="39.70" y1="195.85" x2="42.30" y2="195.85" stroke="#444" stroke-width="0.8"/>
<text x="37.10" y="199.85" text-anchor="end" font-size="11.5" fill="#222" stroke="#222" stroke-width="0.12" style="font-family:'Liberation Sans',sans-serif">10</text>
<line x1="39.70" y1="186.30" x2="42.30" y2="186.30" stroke="#444" stroke-width="0.8"/>
<text x="37.10" y="190.30" text-anchor="end" font-size="11.5" fill="#222" stroke="#222" stroke-width="0.12" style="font-family:'Liberation Sans',sans-serif">20</text>
<line x1="39.70" y1="176.75" x2="42.30" y2="176.75" stroke="#444" stroke-width="0.8"/>
<text x="37.10" y="180.75" text-anchor="end" font-size="11.5" fill="#222" stroke="#222" stroke-width="0.12" style="font-family:'Liberation Sans',sans-serif">30</text>
<line x1="39.70" y1="167.20" x2="42.30" y2="167.20" stroke="#444" stroke-width="0.8"/>
<text x="37.10" y="171.20" text-anchor="end" font-size="11.5" fill="#222" stroke="#222" stroke-width="0.12" style="font-family:'Liberation Sans',sans-serif">40</text>
<line x1="45.50" y1="227.50" x2="45.50" y2="270.60" stroke="#e3e3e3" stroke-width="0.9"/><line x1="55.80" y1="227.50" x2="55.80" y2="270.60" stroke="#e3e3e3" stroke-width="0.7"/><line x1="66.09" y1="227.50" x2="66.09" y2="270.60" stroke="#e3e3e3" stroke-width="0.9"/><line x1="76.38" y1="227.50" x2="76.38" y2="270.60" stroke="#e3e3e3" stroke-width="0.7"/><line x1="86.68" y1="227.50" x2="86.68" y2="270.60" stroke="#e3e3e3" stroke-width="0.9"/><line x1="96.97" y1="227.50" x2="96.97" y2="270.60" stroke="#e3e3e3" stroke-width="0.7"/><line x1="107.27" y1="227.50" x2="107.27" y2="270.60" stroke="#e3e3e3" stroke-width="0.9"/><line x1="117.56" y1="227.50" x2="117.56" y2="270.60" stroke="#e3e3e3" stroke-width="0.7"/><line x1="127.86" y1="227.50" x2="127.86" y2="270.60" stroke="#e3e3e3" stroke-width="0.9"/><line x1="138.16" y1="227.50" x2="138.16" y2="270.60" stroke="#e3e3e3" stroke-width="0.7"/><line x1="148.45" y1="227.50" x2="148.45" y2="270.60" stroke="#e3e3e3" stroke-width="0.9"/><line x1="158.75" y1="227.50" x2="158.75" y2="270.60" stroke="#e3e3e3" stroke-width="0.7"/><line x1="169.04" y1="227.50" x2="169.04" y2="270.60" stroke="#e3e3e3" stroke-width="0.9"/><line x1="179.34" y1="227.50" x2="179.34" y2="270.60" stroke="#e3e3e3" stroke-width="0.7"/><line x1="189.63" y1="227.50" x2="189.63" y2="270.60" stroke="#e3e3e3" stroke-width="0.9"/><line x1="199.93" y1="227.50" x2="199.93" y2="270.60" stroke="#e3e3e3" stroke-width="0.7"/><line x1="210.22" y1="227.50" x2="210.22" y2="270.60" stroke="#e3e3e3" stroke-width="0.9"/><line x1="220.51" y1="227.50" x2="220.51" y2="270.60" stroke="#e3e3e3" stroke-width="0.7"/><line x1="230.81" y1="227.50" x2="230.81" y2="270.60" stroke="#e3e3e3" stroke-width="0.9"/><line x1="241.10" y1="227.50" x2="241.10" y2="270.60" stroke="#e3e3e3" stroke-width="0.7"/><line x1="251.40" y1="227.50" x2="251.40" y2="270.60" stroke="#e3e3e3" stroke-width="0.9"/><line x1="261.69" y1="227.50" x2="261.69" y2="270.60" stroke="#e3e3e3" stroke-width="0.7"/><line x1="271.99" y1="227.50" x2="271.99" y2="270.60" stroke="#e3e3e3" stroke-width="0.9"/><line x1="282.28" y1="227.50" x2="282.28" y2="270.60" stroke="#e3e3e3" stroke-width="0.7"/><line x1="42.30" y1="265.83" x2="289.20" y2="265.83" stroke="#e3e3e3" stroke-width="0.7"/><line x1="42.30" y1="261.05" x2="289.20" y2="261.05" stroke="#e3e3e3" stroke-width="0.9"/><line x1="42.30" y1="256.28" x2="289.20" y2="256.28" stroke="#e3e3e3" stroke-width="0.7"/><line x1="42.30" y1="251.50" x2="289.20" y2="251.50" stroke="#e3e3e3" stroke-width="0.9"/><line x1="42.30" y1="246.73" x2="289.20" y2="246.73" stroke="#e3e3e3" stroke-width="0.7"/><line x1="42.30" y1="241.95" x2="289.20" y2="241.95" stroke="#e3e3e3" stroke-width="0.9"/><line x1="42.30" y1="237.18" x2="289.20" y2="237.18" stroke="#e3e3e3" stroke-width="0.7"/><line x1="42.30" y1="232.40" x2="289.20" y2="232.40" stroke="#e3e3e3" stroke-width="0.9"/><line x1="42.30" y1="227.63" x2="289.20" y2="227.63" stroke="#e3e3e3" stroke-width="0.7"/>
<clipPath id="cp03"><rect x="42.30" y="227.50" width="246.90" height="43.10"/></clipPath><g clip-path="url(#cp03)"><path d="M52.9 268.5h0M55.0 268.5h0M57.3 267.6h0M59.6 266.3h0M61.9 264.8h0M63.9 264.6h0M65.9 264.7h0M68.8 262.0h0M73.0 259.5h0M75.1 255.7h0M78.0 253.7h0M81.8 253.6h0M84.8 254.0h0M89.0 259.2h0M91.1 259.9h0M92.1 259.9h0M93.2 260.6h0M94.6 262.8h0M96.0 267.2h0M97.3 265.9h0M98.6 265.2h0M99.8 266.6h0M101.1 263.7h0M102.5 263.5h0M103.7 262.9h0M105.5 261.6h0M106.9 260.9h0M108.2 262.6h0M110.3 257.2h0M111.4 257.8h0M112.5 254.2h0M113.4 255.3h0M114.5 255.0h0M115.8 252.1h0M117.6 250.9h0M118.8 253.4h0M121.2 254.6h0M122.4 254.7h0M124.9 256.0h0M126.0 258.2h0M127.0 258.5h0M128.3 256.9h0M129.6 257.9h0M130.7 260.6h0M132.8 260.9h0M133.9 260.2h0M135.0 260.1h0M137.4 262.2h0M138.8 263.4h0M140.1 264.5h0M141.7 264.3h0M142.9 264.5h0M144.1 262.2h0M146.2 265.7h0M147.5 264.1h0M148.5 262.7h0M150.8 260.7h0M152.1 260.7h0M153.5 257.7h0M155.3 258.7h0M156.3 256.6h0M157.7 255.4h0M159.8 254.6h0M161.0 256.9h0M163.8 257.3h0M164.7 257.2h0M166.0 259.5h0M167.2 259.1h0M168.5 259.2h0M169.5 260.2h0M170.8 261.5h0M171.8 263.0h0M173.1 264.3h0M174.5 263.2h0M176.1 262.9h0M177.2 262.9h0M178.2 264.9h0M179.4 263.6h0M180.4 263.8h0M181.5 261.3h0M182.6 261.9h0M183.7 263.2h0M185.5 259.2h0M186.5 257.5h0M187.5 255.7h0M188.9 251.7h0M190.1 248.9h0M192.7 244.9h0M194.0 246.5h0M195.9 243.4h0M197.2 245.3h0M199.6 244.9h0M201.0 245.4h0M202.1 248.2h0M203.3 248.9h0M204.5 251.0h0M207.1 255.4h0M208.5 254.8h0M210.8 258.3h0M211.9 260.6h0M212.9 261.3h0M214.2 264.5h0M215.5 264.1h0M217.9 263.6h0M218.9 266.8h0M220.2 266.4h0M221.5 268.0h0M222.7 267.4h0M225.1 268.3h0M226.5 266.6h0M229.0 265.5h0M230.1 263.9h0M232.1 260.9h0M233.6 260.8h0M234.6 256.5h0M236.1 257.3h0M237.4 255.7h0M238.4 255.7h0M239.5 254.3h0M240.7 256.4h0M242.0 252.4h0M243.1 252.9h0M244.1 254.9h0M245.3 255.6h0M246.7 254.0h0M248.0 257.7h0M249.0 258.5h0M250.4 258.8h0M251.5 259.9h0M252.8 260.3h0M254.3 262.1h0M255.3 266.1h0M256.7 266.4h0M258.0 264.3h0M259.3 266.5h0M260.3 267.6h0M261.6 264.2h0M263.0 264.4h0M264.0 265.9h0M265.3 264.5h0M266.5 264.3h0M268.7 263.0h0M269.8 262.5h0M272.0 258.6h0M273.4 256.8h0M274.6 256.0h0M275.7 253.0h0" fill="none" stroke="#F8766D" stroke-width="3.7" stroke-linecap="round"/>
<path d="M52.9 258.9h0M55.4 259.2h0M58.5 260.6h0M62.5 261.1h0M66.4 261.0h0M69.4 259.4h0M73.2 257.6h0M77.4 252.6h0M81.4 253.6h0M83.8 256.3h0M85.7 256.4h0M88.7 260.9h0M89.7 261.3h0M92.3 264.4h0M93.7 263.6h0M95.1 263.5h0M96.5 265.2h0M97.5 266.2h0M98.5 264.4h0M99.7 267.1h0M100.9 263.8h0M102.0 264.5h0M103.3 263.5h0M104.7 263.7h0M106.4 263.9h0M107.6 261.7h0M108.6 259.3h0M109.8 260.5h0M112.0 256.9h0M113.0 255.9h0M114.4 256.6h0M115.7 252.8h0M117.6 253.9h0M118.9 255.0h0M120.8 255.7h0M122.0 256.8h0M123.0 257.9h0M124.3 259.7h0M125.5 258.5h0M126.9 258.8h0M128.0 258.1h0M130.1 260.1h0M131.5 259.9h0M132.9 260.3h0M133.9 262.3h0M135.7 261.5h0M136.9 261.0h0M138.1 262.4h0M139.1 261.7h0M140.7 262.8h0M142.0 262.6h0M143.2 264.0h0M145.3 262.9h0M146.7 263.1h0M147.8 263.2h0M150.2 262.6h0M151.2 261.3h0M152.4 261.4h0M154.5 260.6h0M155.9 257.4h0M157.3 257.0h0M158.8 259.1h0M160.2 256.9h0M161.3 256.9h0M163.8 257.8h0M165.0 256.7h0M166.0 261.3h0M167.3 261.3h0M168.4 261.5h0M169.4 262.3h0M170.8 262.6h0M172.9 264.4h0M174.2 264.9h0M175.5 265.3h0M176.6 266.3h0M178.0 263.7h0M179.0 265.2h0M180.3 264.9h0M181.6 265.2h0M183.3 264.1h0M184.6 265.1h0M185.8 265.1h0M187.0 265.2h0M188.2 262.4h0M189.3 260.4h0M190.9 259.5h0M192.1 260.0h0M193.3 257.4h0M195.1 255.7h0M196.2 256.3h0M197.4 255.3h0M198.5 255.8h0M199.8 255.6h0M201.0 255.0h0M202.0 254.5h0M204.1 256.4h0M205.2 257.0h0M206.6 258.9h0M208.9 258.4h0M210.2 261.7h0M211.5 261.7h0M213.2 263.2h0M214.6 262.0h0M216.0 263.2h0M217.9 263.7h0M219.2 264.0h0M220.2 264.4h0M222.5 264.5h0M223.6 263.6h0M224.9 263.5h0M227.1 262.7h0M228.6 262.9h0M230.5 262.5h0M231.6 260.5h0M232.6 261.0h0M233.6 260.7h0M235.2 260.0h0M236.3 259.4h0M237.4 256.7h0M239.5 259.1h0M240.4 257.6h0M241.5 258.1h0M243.1 258.2h0M244.4 259.9h0M246.7 260.2h0M248.0 261.6h0M249.1 259.6h0M250.5 261.1h0M251.6 261.7h0M252.8 263.3h0M254.0 263.5h0M255.1 261.4h0M256.1 262.9h0M257.4 263.9h0M259.6 265.0h0M260.9 265.0h0M262.0 264.2h0M263.3 264.8h0M265.1 265.1h0M266.4 263.5h0M267.8 261.1h0M268.9 262.6h0M270.4 264.2h0M271.4 263.5h0M272.5 262.4h0M273.9 262.3h0M275.6 260.0h0" fill="none" stroke="#7CAE00" stroke-width="3.7" stroke-linecap="round"/>
<path d="M155.1 239.6h0M156.3 237.7h0M157.6 239.2h0M158.9 240.0h0M160.1 241.1h0M161.9 243.2h0M163.0 245.5h0M164.6 246.0h0M166.0 249.5h0M167.4 251.7h0M168.8 251.7h0M169.9 255.2h0M172.0 258.1h0M173.1 258.9h0M175.2 262.6h0M176.6 262.6h0M177.7 263.4h0M180.1 264.0h0M181.1 263.3h0M182.1 265.6h0M183.3 263.4h0M184.6 262.1h0M185.7 260.6h0M187.0 259.0h0M188.1 255.9h0M189.1 256.6h0M190.8 253.3h0M192.0 248.8h0M193.5 247.8h0M195.4 246.2h0M196.7 246.2h0M198.7 241.9h0M200.6 239.2h0M202.7 241.8h0M203.8 242.6h0M205.3 242.3h0M206.5 243.9h0M209.0 246.4h0M210.2 248.4h0M212.6 249.6h0M214.1 250.3h0M216.0 254.8h0M217.1 253.3h0M218.2 255.4h0M219.6 256.4h0M220.8 255.6h0M223.4 256.5h0M224.8 258.4h0M227.0 254.6h0M228.1 251.6h0M229.6 250.6h0M231.4 244.4h0M232.7 239.3h0M234.4 240.5h0M235.4 239.9h0M237.9 236.8h0M238.9 238.1h0M240.0 236.0h0M241.6 239.9h0M243.2 240.2h0M244.8 243.4h0M246.2 244.2h0M247.5 246.6h0M248.6 246.8h0M250.4 248.8h0M251.5 246.7h0M252.8 251.2h0M254.2 250.4h0M255.3 252.6h0M256.3 251.2h0M257.9 251.4h0M259.0 252.7h0M261.4 253.7h0M262.5 254.7h0M265.0 255.3h0M266.0 255.1h0M267.3 251.7h0M268.4 252.1h0M269.6 250.2h0M271.2 246.0h0M272.5 246.5h0M275.1 243.6h0M276.3 242.6h0M201.3 234.7h0" fill="none" stroke="#00BFC4" stroke-width="3.7" stroke-linecap="round"/>
<path d="M60.1 258.6h0M62.1 258.1h0M65.9 254.7h0M69.6 251.5h0M72.9 253.3h0M77.2 245.4h0M80.9 247.9h0M83.1 251.2h0M86.6 255.8h0M88.0 255.9h0M89.6 254.1h0M90.8 256.8h0M91.8 256.1h0M93.9 256.6h0M95.0 258.0h0M96.2 259.4h0M98.2 259.3h0M99.5 258.2h0M100.8 257.9h0M102.8 258.0h0M104.0 257.3h0M105.3 255.9h0M107.6 254.4h0M108.7 252.4h0M110.0 253.1h0M112.0 250.9h0M113.0 251.7h0M114.2 249.5h0M115.6 245.8h0M116.7 244.9h0M118.2 248.2h0M119.4 249.3h0M120.6 249.3h0M121.7 251.1h0M122.8 251.1h0M123.8 253.7h0M125.5 255.5h0M126.9 255.5h0M129.0 257.4h0M130.1 258.6h0M131.1 259.1h0M132.7 258.4h0M133.9 260.4h0M135.0 263.0h0M136.1 263.0h0M137.5 261.5h0M138.8 261.9h0M140.2 264.1h0M141.8 262.5h0M143.1 263.8h0M144.4 262.9h0M146.6 260.9h0M147.9 258.8h0M149.0 258.3h0M150.9 256.5h0M151.9 256.1h0M154.7 254.3h0M155.9 252.9h0M158.1 253.3h0M159.3 252.3h0M161.8 252.6h0M163.0 253.9h0M165.5 254.7h0M166.0 257.7h0M167.1 259.5h0M168.5 258.8h0M171.0 260.7h0M172.0 261.1h0M173.1 261.3h0M174.1 262.1h0M176.0 261.8h0M177.1 262.4h0M178.5 261.2h0M179.9 260.9h0M181.9 261.7h0M183.1 262.4h0M185.2 261.4h0M186.3 259.8h0M187.5 255.9h0M188.7 256.5h0M189.7 255.4h0M191.0 253.8h0M192.0 253.0h0M193.5 251.4h0M194.6 249.9h0M196.1 250.7h0M197.8 251.3h0M199.3 251.9h0M200.3 249.9h0M202.3 248.6h0M203.3 250.8h0M204.5 249.4h0M206.3 250.0h0M207.5 248.9h0M209.7 252.8h0M210.8 254.9h0M213.4 254.1h0M214.4 255.9h0M215.7 257.1h0M216.7 257.3h0M217.6 255.7h0M219.0 256.9h0M220.2 259.7h0M222.4 262.4h0M223.8 259.9h0M225.0 260.6h0M227.1 262.5h0M228.5 262.4h0M230.6 259.8h0M231.8 261.0h0M234.0 258.1h0M235.4 256.0h0M237.6 252.7h0M239.0 249.4h0M240.5 248.5h0M241.9 248.6h0M243.0 249.7h0M244.4 251.9h0M245.4 252.5h0M246.8 253.0h0M248.1 253.3h0M250.3 253.9h0M251.3 256.1h0M252.6 256.5h0M254.3 258.2h0M255.7 256.5h0M257.1 258.7h0M258.6 258.9h0M260.0 257.5h0M261.2 259.4h0M263.2 258.8h0M264.2 258.6h0M265.5 256.7h0M266.8 254.5h0M268.2 253.8h0M269.5 252.0h0M270.9 248.2h0M272.2 243.3h0M273.5 243.0h0M275.1 243.2h0" fill="none" stroke="#C77CFF" stroke-width="3.7" stroke-linecap="round"/></g>
<line x1="45.50" y1="227.50" x2="45.50" y2="270.60" stroke="#404040" stroke-width="1.2"/>
<line x1="86.68" y1="227.50" x2="86.68" y2="270.60" stroke="#404040" stroke-width="1.2"/>
<line x1="127.86" y1="227.50" x2="127.86" y2="270.60" stroke="#404040" stroke-width="1.2"/>
<line x1="169.04" y1="227.50" x2="169.04" y2="270.60" stroke="#404040" stroke-width="1.2"/>
<line x1="210.22" y1="227.50" x2="210.22" y2="270.60" stroke="#404040" stroke-width="1.2"/>
<line x1="251.40" y1="227.50" x2="251.40" y2="270.60" stroke="#404040" stroke-width="1.2"/>
<rect x="42.30" y="227.50" width="246.90" height="43.10" fill="none" stroke="#999" stroke-width="0.9"/>
<rect x="42.30" y="210.30" width="246.90" height="17.20" fill="#d9d9d9" stroke="#b0b0b0" stroke-width="1.4"/>
<line x1="42.30" y1="227.50" x2="289.20" y2="227.50" stroke="#444" stroke-width="1"/>
<text x="165.75" y="223.40" text-anchor="middle" font-size="11.5" fill="#1a1a1a" stroke="#1a1a1a" stroke-width="0.12" style="font-family:'Liberation Sans',sans-serif">Autumn cohort</text>
<line x1="39.70" y1="270.60" x2="42.30" y2="270.60" stroke="#444" stroke-width="0.8"/>
<text x="37.10" y="274.60" text-anchor="end" font-size="11.5" fill="#222" stroke="#222" stroke-width="0.12" style="font-family:'Liberation Sans',sans-serif">0</text>
<line x1="39.70" y1="261.05" x2="42.30" y2="261.05" stroke="#444" stroke-width="0.8"/>
<text x="37.10" y="265.05" text-anchor="end" font-size="11.5" fill="#222" stroke="#222" stroke-width="0.12" style="font-family:'Liberation Sans',sans-serif">10</text>
<line x1="39.70" y1="251.50" x2="42.30" y2="251.50" stroke="#444" stroke-width="0.8"/>
<text x="37.10" y="255.50" text-anchor="end" font-size="11.5" fill="#222" stroke="#222" stroke-width="0.12" style="font-family:'Liberation Sans',sans-serif">20</text>
<line x1="39.70" y1="241.95" x2="42.30" y2="241.95" stroke="#444" stroke-width="0.8"/>
<text x="37.10" y="245.95" text-anchor="end" font-size="11.5" fill="#222" stroke="#222" stroke-width="0.12" style="font-family:'Liberation Sans',sans-serif">30</text>
<line x1="39.70" y1="232.40" x2="42.30" y2="232.40" stroke="#444" stroke-width="0.8"/>
<text x="37.10" y="236.40" text-anchor="end" font-size="11.5" fill="#222" stroke="#222" stroke-width="0.12" style="font-family:'Liberation Sans',sans-serif">40</text>
<line x1="45.50" y1="293.30" x2="45.50" y2="336.30" stroke="#e3e3e3" stroke-width="0.9"/><line x1="55.80" y1="293.30" x2="55.80" y2="336.30" stroke="#e3e3e3" stroke-width="0.7"/><line x1="66.09" y1="293.30" x2="66.09" y2="336.30" stroke="#e3e3e3" stroke-width="0.9"/><line x1="76.38" y1="293.30" x2="76.38" y2="336.30" stroke="#e3e3e3" stroke-width="0.7"/><line x1="86.68" y1="293.30" x2="86.68" y2="336.30" stroke="#e3e3e3" stroke-width="0.9"/><line x1="96.97" y1="293.30" x2="96.97" y2="336.30" stroke="#e3e3e3" stroke-width="0.7"/><line x1="107.27" y1="293.30" x2="107.27" y2="336.30" stroke="#e3e3e3" stroke-width="0.9"/><line x1="117.56" y1="293.30" x2="117.56" y2="336.30" stroke="#e3e3e3" stroke-width="0.7"/><line x1="127.86" y1="293.30" x2="127.86" y2="336.30" stroke="#e3e3e3" stroke-width="0.9"/><line x1="138.16" y1="293.30" x2="138.16" y2="336.30" stroke="#e3e3e3" stroke-width="0.7"/><line x1="148.45" y1="293.30" x2="148.45" y2="336.30" stroke="#e3e3e3" stroke-width="0.9"/><line x1="158.75" y1="293.30" x2="158.75" y2="336.30" stroke="#e3e3e3" stroke-width="0.7"/><line x1="169.04" y1="293.30" x2="169.04" y2="336.30" stroke="#e3e3e3" stroke-width="0.9"/><line x1="179.34" y1="293.30" x2="179.34" y2="336.30" stroke="#e3e3e3" stroke-width="0.7"/><line x1="189.63" y1="293.30" x2="189.63" y2="336.30" stroke="#e3e3e3" stroke-width="0.9"/><line x1="199.93" y1="293.30" x2="199.93" y2="336.30" stroke="#e3e3e3" stroke-width="0.7"/><line x1="210.22" y1="293.30" x2="210.22" y2="336.30" stroke="#e3e3e3" stroke-width="0.9"/><line x1="220.51" y1="293.30" x2="220.51" y2="336.30" stroke="#e3e3e3" stroke-width="0.7"/><line x1="230.81" y1="293.30" x2="230.81" y2="336.30" stroke="#e3e3e3" stroke-width="0.9"/><line x1="241.10" y1="293.30" x2="241.10" y2="336.30" stroke="#e3e3e3" stroke-width="0.7"/><line x1="251.40" y1="293.30" x2="251.40" y2="336.30" stroke="#e3e3e3" stroke-width="0.9"/><line x1="261.69" y1="293.30" x2="261.69" y2="336.30" stroke="#e3e3e3" stroke-width="0.7"/><line x1="271.99" y1="293.30" x2="271.99" y2="336.30" stroke="#e3e3e3" stroke-width="0.9"/><line x1="282.28" y1="293.30" x2="282.28" y2="336.30" stroke="#e3e3e3" stroke-width="0.7"/><line x1="42.30" y1="331.53" x2="289.20" y2="331.53" stroke="#e3e3e3" stroke-width="0.7"/><line x1="42.30" y1="326.75" x2="289.20" y2="326.75" stroke="#e3e3e3" stroke-width="0.9"/><line x1="42.30" y1="321.98" x2="289.20" y2="321.98" stroke="#e3e3e3" stroke-width="0.7"/><line x1="42.30" y1="317.20" x2="289.20" y2="317.20" stroke="#e3e3e3" stroke-width="0.9"/><line x1="42.30" y1="312.43" x2="289.20" y2="312.43" stroke="#e3e3e3" stroke-width="0.7"/><line x1="42.30" y1="307.65" x2="289.20" y2="307.65" stroke="#e3e3e3" stroke-width="0.9"/><line x1="42.30" y1="302.88" x2="289.20" y2="302.88" stroke="#e3e3e3" stroke-width="0.7"/><line x1="42.30" y1="298.10" x2="289.20" y2="298.10" stroke="#e3e3e3" stroke-width="0.9"/><line x1="42.30" y1="293.32" x2="289.20" y2="293.32" stroke="#e3e3e3" stroke-width="0.7"/>
<clipPath id="cp04"><rect x="42.30" y="293.30" width="246.90" height="43.00"/></clipPath><g clip-path="url(#cp04)"><path d="M53.2 329.7h0M57.4 327.3h0M59.3 327.0h0M61.3 324.8h0M64.6 324.9h0M66.9 324.5h0M69.4 323.2h0M74.3 324.2h0M77.8 322.0h0M80.5 324.7h0M84.3 324.2h0M87.5 320.1h0M88.9 321.8h0M90.1 321.5h0M91.3 321.6h0M92.3 324.2h0M93.8 325.6h0M94.9 324.3h0M96.2 326.6h0M97.7 324.6h0M99.1 327.1h0M101.2 324.6h0M102.4 322.4h0M103.5 322.4h0M105.5 321.4h0M106.8 319.3h0M109.2 321.4h0M110.6 322.1h0M112.0 322.5h0M113.7 323.3h0M115.2 323.8h0M117.6 324.7h0M118.9 324.6h0M119.9 324.1h0M122.0 324.2h0M123.3 326.5h0M124.6 322.0h0M126.2 324.1h0M127.7 323.5h0M128.8 323.0h0M130.3 323.3h0M131.5 323.6h0M133.6 323.7h0M134.9 325.9h0M136.0 325.6h0M137.4 323.6h0M139.1 324.4h0M140.4 326.1h0M141.8 325.1h0M142.8 324.2h0M144.5 323.1h0M145.8 326.6h0M147.2 322.3h0M148.5 322.5h0M150.0 322.5h0M151.2 323.8h0M152.2 322.9h0M153.2 324.3h0M155.3 324.9h0M156.5 322.8h0M157.6 323.4h0M158.9 324.5h0M160.7 324.3h0M162.1 324.5h0M163.1 326.3h0M164.1 323.5h0M165.3 324.7h0M166.0 325.5h0M167.1 324.2h0M168.2 323.1h0M169.4 325.5h0M170.5 323.4h0M172.4 323.3h0M173.7 323.7h0M174.9 322.7h0M176.3 324.0h0M177.9 322.5h0M179.3 323.7h0M180.6 322.4h0M181.6 323.3h0M182.6 323.9h0M183.6 321.9h0M185.1 322.3h0M186.1 323.2h0M187.4 323.1h0M188.5 322.3h0M189.7 322.2h0M190.7 324.2h0M192.3 323.9h0M193.4 324.8h0M194.4 322.7h0M195.5 321.0h0M196.6 323.7h0M197.7 323.5h0M199.8 324.5h0M201.0 324.7h0M202.4 324.8h0M203.6 324.3h0M204.8 325.0h0M207.2 326.2h0M208.3 326.6h0M209.5 324.3h0M210.5 324.6h0M211.8 325.4h0M214.3 326.6h0M215.6 327.1h0M217.0 328.7h0M217.9 329.3h0M219.8 328.5h0M220.9 331.0h0M223.2 330.5h0M224.2 328.8h0M225.2 328.2h0M226.8 325.9h0M228.2 327.3h0M229.3 326.5h0M230.6 326.9h0M232.5 326.2h0M234.0 325.1h0M235.3 327.9h0M236.7 323.5h0M238.0 324.2h0M239.6 325.7h0M240.8 326.3h0M242.0 324.2h0M243.2 325.7h0M244.3 324.6h0M245.5 325.8h0M246.9 324.9h0M248.0 325.3h0M249.4 323.5h0M250.6 322.1h0M252.5 323.8h0M253.6 325.5h0M256.0 326.7h0M257.3 324.9h0M258.4 324.9h0M259.5 325.9h0M261.5 325.2h0M262.5 324.4h0M263.9 324.0h0M265.1 323.4h0M266.7 325.2h0M267.6 324.4h0M269.1 322.2h0M270.5 323.0h0M272.1 323.0h0M273.4 323.8h0M274.7 322.6h0M275.8 323.7h0" fill="none" stroke="#F8766D" stroke-width="3.7" stroke-linecap="round"/>
<path d="M53.2 319.5h0M56.5 324.2h0M59.0 325.0h0M62.3 321.7h0M65.9 323.2h0M69.4 322.0h0M73.6 320.3h0M76.8 320.4h0M79.9 318.7h0M82.3 316.5h0M85.1 315.2h0M90.9 315.5h0M92.0 315.7h0M93.0 314.4h0M94.9 319.3h0M96.5 320.3h0M97.7 318.6h0M99.2 319.3h0M100.2 316.0h0M101.5 316.6h0M102.9 316.7h0M104.1 315.8h0M105.1 315.8h0M106.5 315.4h0M107.9 316.5h0M108.9 316.6h0M110.1 315.7h0M111.3 315.5h0M113.9 315.9h0M115.0 316.0h0M117.2 314.7h0M118.3 315.9h0M119.7 316.9h0M121.1 314.0h0M122.1 316.5h0M123.2 315.2h0M124.5 314.1h0M125.6 315.2h0M126.7 315.2h0M128.2 314.5h0M129.3 316.4h0M130.6 313.6h0M131.9 316.5h0M133.1 315.7h0M134.2 318.7h0M135.5 316.1h0M136.7 317.3h0M137.8 317.8h0M139.0 316.7h0M140.2 314.4h0M141.3 315.0h0M142.7 313.2h0M143.8 316.9h0M145.0 316.6h0M146.4 316.4h0M147.5 314.7h0M148.7 315.5h0M149.9 314.0h0M151.0 314.0h0M153.7 313.8h0M154.9 313.0h0M156.0 314.4h0M157.1 315.4h0M158.4 315.6h0M159.4 316.1h0M160.8 314.5h0M162.0 314.7h0M163.2 315.2h0M164.5 315.5h0M165.8 315.4h0M166.0 314.6h0M167.2 313.2h0M168.5 312.8h0M169.7 313.6h0M170.8 316.0h0M172.4 313.7h0M173.7 316.2h0M175.1 314.3h0M176.4 313.5h0M178.2 315.6h0M179.4 315.6h0M180.6 313.7h0M182.0 312.9h0M183.3 311.9h0M184.7 312.6h0M185.9 312.6h0M186.9 313.4h0M188.8 312.4h0M189.9 311.2h0M191.3 313.5h0M192.6 312.2h0M194.2 311.1h0M195.7 312.0h0M196.7 310.1h0M197.7 312.9h0M200.0 311.1h0M201.0 311.2h0M202.3 310.2h0M203.5 311.9h0M205.3 313.2h0M206.7 310.6h0M207.8 311.9h0M208.9 310.7h0M210.6 312.7h0M211.9 312.2h0M213.2 311.0h0M214.5 310.5h0M216.2 310.9h0M217.5 308.7h0M219.9 309.7h0M221.1 307.1h0M223.4 308.8h0M224.6 309.2h0M225.6 308.8h0M226.9 308.6h0M228.0 310.7h0M229.2 311.8h0M230.7 311.1h0M231.9 310.9h0M233.0 312.0h0M234.1 311.4h0M235.4 305.9h0M236.9 306.9h0M237.9 307.3h0M239.6 309.2h0M240.6 309.5h0M242.0 308.8h0M243.3 308.9h0M244.3 306.8h0M245.5 307.7h0M247.0 309.9h0M248.1 308.0h0M249.0 308.0h0M250.3 305.9h0M251.7 305.8h0M252.7 307.2h0M254.2 306.1h0M255.2 308.7h0M256.4 308.9h0M257.8 308.3h0M258.8 309.7h0M259.8 306.7h0M261.1 307.8h0M262.3 307.6h0M263.4 306.3h0M265.1 306.9h0M266.4 305.7h0M267.4 305.1h0M268.4 303.8h0M269.8 302.2h0M271.1 302.5h0M272.5 299.6h0M273.9 305.1h0M275.8 305.2h0M272.4 306.5h0" fill="none" stroke="#7CAE00" stroke-width="3.7" stroke-linecap="round"/>
<path d="M155.1 320.6h0M156.5 319.4h0M157.7 319.7h0M159.0 318.1h0M160.2 317.0h0M161.4 317.4h0M162.5 318.6h0M163.6 319.4h0M164.6 315.5h0M165.8 316.0h0M166.0 318.2h0M167.0 316.7h0M168.1 317.5h0M169.2 316.1h0M170.5 316.7h0M171.4 316.1h0M172.5 316.7h0M173.6 317.0h0M174.8 317.2h0M176.0 319.4h0M178.2 318.1h0M179.2 317.4h0M181.5 314.4h0M182.5 312.6h0M183.6 311.3h0M185.3 312.5h0M186.4 314.0h0M187.6 313.5h0M189.1 313.5h0M190.5 315.7h0M192.7 314.9h0M193.6 315.7h0M194.8 316.0h0M196.3 316.4h0M197.4 318.6h0M198.5 320.1h0M200.0 318.6h0M201.1 319.2h0M202.1 315.3h0M203.4 317.8h0M204.7 318.8h0M205.8 317.3h0M207.1 317.7h0M208.1 317.1h0M209.3 317.9h0M210.4 317.6h0M211.4 318.3h0M212.5 319.2h0M214.2 317.9h0M215.6 318.4h0M216.6 317.3h0M217.8 316.6h0M219.1 317.0h0M220.1 316.1h0M221.5 315.9h0M222.7 314.8h0M223.8 314.5h0M225.0 315.0h0M226.1 314.0h0M227.5 313.4h0M228.5 319.2h0M229.5 320.6h0M230.7 321.2h0M232.3 319.2h0M233.4 322.5h0M236.2 324.3h0M237.3 321.7h0M239.7 322.7h0M240.9 324.8h0M243.3 322.8h0M244.3 321.8h0M245.4 320.2h0M247.0 320.3h0M248.0 320.6h0M249.1 320.6h0M250.6 321.9h0M252.0 321.8h0M254.1 320.5h0M255.4 322.3h0M257.7 319.3h0M258.7 319.4h0M260.1 320.8h0M261.3 318.5h0M262.7 318.6h0M265.2 319.7h0M266.5 318.4h0M268.6 317.0h0M269.7 316.3h0M272.4 318.8h0M273.6 317.9h0M275.7 318.6h0M276.8 319.0h0M278.1 319.4h0" fill="none" stroke="#00BFC4" stroke-width="3.7" stroke-linecap="round"/>
<path d="M58.3 326.8h0M60.9 325.3h0M64.0 327.4h0M67.4 325.2h0M71.8 327.5h0M74.6 328.3h0M78.3 327.1h0M82.5 325.2h0M85.7 325.2h0M88.5 323.5h0M90.1 327.5h0M91.5 326.7h0M92.8 325.1h0M94.1 322.9h0M95.7 324.1h0M96.8 324.3h0M98.1 325.3h0M99.5 324.2h0M100.9 324.4h0M103.0 324.7h0M104.1 328.1h0M105.1 325.6h0M106.6 328.1h0M107.9 328.6h0M110.2 326.8h0M111.5 327.5h0M113.9 328.2h0M115.0 326.9h0M116.0 325.7h0M117.4 326.1h0M118.9 329.1h0M121.2 325.9h0M122.6 325.3h0M124.5 325.1h0M125.6 325.0h0M126.8 325.6h0M128.4 324.4h0M129.7 324.9h0M131.9 326.1h0M133.1 324.8h0M135.8 326.0h0M136.8 326.0h0M137.8 326.2h0M138.8 324.3h0M141.2 326.8h0M142.5 324.6h0M143.5 325.0h0M144.6 325.4h0M146.4 327.1h0M147.5 324.9h0M148.6 326.1h0M149.9 326.7h0M151.9 325.0h0M153.2 327.9h0M154.2 326.0h0M155.6 325.7h0M157.4 325.4h0M158.8 326.2h0M159.9 327.6h0M161.0 326.5h0M162.7 325.1h0M164.1 324.6h0M165.3 325.8h0M166.0 327.3h0M167.0 326.2h0M168.3 327.8h0M169.7 326.9h0M171.0 327.0h0M172.7 327.8h0M173.8 327.4h0M175.2 328.9h0M176.2 327.7h0M178.2 326.9h0M179.3 327.7h0M180.6 325.2h0M181.7 326.2h0M183.7 326.8h0M184.8 324.0h0M186.0 325.7h0M187.3 327.0h0M189.0 326.8h0M189.9 324.2h0M191.0 324.3h0M192.0 326.8h0M194.3 324.5h0M195.3 325.9h0M196.4 326.8h0M197.5 326.9h0M199.8 327.9h0M201.0 328.0h0M202.1 327.8h0M203.1 325.5h0M205.4 327.4h0M206.7 327.6h0M208.1 329.1h0M209.4 328.8h0M210.8 329.0h0M212.2 328.4h0M213.6 328.2h0M214.9 330.5h0M216.1 328.7h0M217.3 329.2h0M218.4 329.6h0M219.8 326.4h0M221.1 329.0h0M222.4 328.8h0M223.5 328.0h0M225.1 327.8h0M226.5 327.6h0M227.6 327.7h0M229.0 327.5h0M230.4 327.5h0M231.6 327.6h0M232.9 327.1h0M234.3 325.6h0M235.9 326.7h0M237.0 326.2h0M238.3 323.9h0M239.5 325.0h0M241.3 324.2h0M242.4 324.4h0M243.5 323.5h0M244.6 324.9h0M246.8 322.4h0M248.2 324.3h0M249.4 322.6h0M250.8 322.8h0M252.3 323.7h0M253.6 323.8h0M255.0 324.3h0M256.2 322.2h0M257.7 324.6h0M258.7 321.8h0M260.1 321.2h0M261.2 321.4h0M262.4 322.0h0M263.6 323.7h0M264.9 320.6h0M266.4 322.9h0M268.8 323.5h0M269.9 322.3h0M272.3 322.9h0M273.5 323.6h0" fill="none" stroke="#C77CFF" stroke-width="3.7" stroke-linecap="round"/></g>
<line x1="45.50" y1="293.30" x2="45.50" y2="336.30" stroke="#404040" stroke-width="1.2"/>
<line x1="86.68" y1="293.30" x2="86.68" y2="336.30" stroke="#404040" stroke-width="1.2"/>
<line x1="127.86" y1="293.30" x2="127.86" y2="336.30" stroke="#404040" stroke-width="1.2"/>
<line x1="169.04" y1="293.30" x2="169.04" y2="336.30" stroke="#404040" stroke-width="1.2"/>
<line x1="210.22" y1="293.30" x2="210.22" y2="336.30" stroke="#404040" stroke-width="1.2"/>
<line x1="251.40" y1="293.30" x2="251.40" y2="336.30" stroke="#404040" stroke-width="1.2"/>
<rect x="42.30" y="293.30" width="246.90" height="43.00" fill="none" stroke="#999" stroke-width="0.9"/>
<rect x="42.30" y="275.80" width="246.90" height="17.50" fill="#d9d9d9" stroke="#b0b0b0" stroke-width="1.4"/>
<line x1="42.30" y1="293.30" x2="289.20" y2="293.30" stroke="#444" stroke-width="1"/>
<text x="165.75" y="288.90" text-anchor="middle" font-size="11.5" fill="#1a1a1a" stroke="#1a1a1a" stroke-width="0.12" style="font-family:'Liberation Sans',sans-serif">Non-significant</text>
<line x1="39.70" y1="336.30" x2="42.30" y2="336.30" stroke="#444" stroke-width="0.8"/>
<text x="37.10" y="340.30" text-anchor="end" font-size="11.5" fill="#222" stroke="#222" stroke-width="0.12" style="font-family:'Liberation Sans',sans-serif">0</text>
<line x1="39.70" y1="326.75" x2="42.30" y2="326.75" stroke="#444" stroke-width="0.8"/>
<text x="37.10" y="330.75" text-anchor="end" font-size="11.5" fill="#222" stroke="#222" stroke-width="0.12" style="font-family:'Liberation Sans',sans-serif">10</text>
<line x1="39.70" y1="317.20" x2="42.30" y2="317.20" stroke="#444" stroke-width="0.8"/>
<text x="37.10" y="321.20" text-anchor="end" font-size="11.5" fill="#222" stroke="#222" stroke-width="0.12" style="font-family:'Liberation Sans',sans-serif">20</text>
<line x1="39.70" y1="307.65" x2="42.30" y2="307.65" stroke="#444" stroke-width="0.8"/>
<text x="37.10" y="311.65" text-anchor="end" font-size="11.5" fill="#222" stroke="#222" stroke-width="0.12" style="font-family:'Liberation Sans',sans-serif">30</text>
<line x1="39.70" y1="298.10" x2="42.30" y2="298.10" stroke="#444" stroke-width="0.8"/>
<text x="37.10" y="302.10" text-anchor="end" font-size="11.5" fill="#222" stroke="#222" stroke-width="0.12" style="font-family:'Liberation Sans',sans-serif">40</text>
<line x1="45.50" y1="336.30" x2="45.50" y2="338.90" stroke="#444" stroke-width="0.8"/>
<text transform="translate(46.10,341.30) rotate(-45)" x="0" y="8" text-anchor="end" font-size="11.5" fill="#222" stroke="#222" stroke-width="0.12" style="font-family:'Liberation Sans',sans-serif">Jan 2015</text>
<line x1="66.09" y1="336.30" x2="66.09" y2="338.90" stroke="#444" stroke-width="0.8"/>
<text transform="translate(66.69,341.30) rotate(-45)" x="0" y="8" text-anchor="end" font-size="11.5" fill="#222" stroke="#222" stroke-width="0.12" style="font-family:'Liberation Sans',sans-serif">Jul 2015</text>
<line x1="86.68" y1="336.30" x2="86.68" y2="338.90" stroke="#444" stroke-width="0.8"/>
<text transform="translate(87.28,341.30) rotate(-45)" x="0" y="8" text-anchor="end" font-size="11.5" fill="#222" stroke="#222" stroke-width="0.12" style="font-family:'Liberation Sans',sans-serif">Jan 2016</text>
<line x1="107.27" y1="336.30" x2="107.27" y2="338.90" stroke="#444" stroke-width="0.8"/>
<text transform="translate(107.87,341.30) rotate(-45)" x="0" y="8" text-anchor="end" font-size="11.5" fill="#222" stroke="#222" stroke-width="0.12" style="font-family:'Liberation Sans',sans-serif">Jul 2016</text>
<line x1="127.86" y1="336.30" x2="127.86" y2="338.90" stroke="#444" stroke-width="0.8"/>
<text transform="translate(128.46,341.30) rotate(-45)" x="0" y="8" text-anchor="end" font-size="11.5" fill="#222" stroke="#222" stroke-width="0.12" style="font-family:'Liberation Sans',sans-serif">Jan 2017</text>
<line x1="148.45" y1="336.30" x2="148.45" y2="338.90" stroke="#444" stroke-width="0.8"/>
<text transform="translate(149.05,341.30) rotate(-45)" x="0" y="8" text-anchor="end" font-size="11.5" fill="#222" stroke="#222" stroke-width="0.12" style="font-family:'Liberation Sans',sans-serif">Jul 2017</text>
<line x1="169.04" y1="336.30" x2="169.04" y2="338.90" stroke="#444" stroke-width="0.8"/>
<text transform="translate(169.64,341.30) rotate(-45)" x="0" y="8" text-anchor="end" font-size="11.5" fill="#222" stroke="#222" stroke-width="0.12" style="font-family:'Liberation Sans',sans-serif">Jan 2018</text>
<line x1="189.63" y1="336.30" x2="189.63" y2="338.90" stroke="#444" stroke-width="0.8"/>
<text transform="translate(190.23,341.30) rotate(-45)" x="0" y="8" text-anchor="end" font-size="11.5" fill="#222" stroke="#222" stroke-width="0.12" style="font-family:'Liberation Sans',sans-serif">Jul 2018</text>
<line x1="210.22" y1="336.30" x2="210.22" y2="338.90" stroke="#444" stroke-width="0.8"/>
<text transform="translate(210.82,341.30) rotate(-45)" x="0" y="8" text-anchor="end" font-size="11.5" fill="#222" stroke="#222" stroke-width="0.12" style="font-family:'Liberation Sans',sans-serif">Jan 2019</text>
<line x1="230.81" y1="336.30" x2="230.81" y2="338.90" stroke="#444" stroke-width="0.8"/>
<text transform="translate(231.41,341.30) rotate(-45)" x="0" y="8" text-anchor="end" font-size="11.5" fill="#222" stroke="#222" stroke-width="0.12" style="font-family:'Liberation Sans',sans-serif">Jul 2019</text>
<line x1="251.40" y1="336.30" x2="251.40" y2="338.90" stroke="#444" stroke-width="0.8"/>
<text transform="translate(252.00,341.30) rotate(-45)" x="0" y="8" text-anchor="end" font-size="11.5" fill="#222" stroke="#222" stroke-width="0.12" style="font-family:'Liberation Sans',sans-serif">Jan 2020</text>
<line x1="271.99" y1="336.30" x2="271.99" y2="338.90" stroke="#444" stroke-width="0.8"/>
<text transform="translate(272.59,341.30) rotate(-45)" x="0" y="8" text-anchor="end" font-size="11.5" fill="#222" stroke="#222" stroke-width="0.12" style="font-family:'Liberation Sans',sans-serif">Jul 2020</text>
<text x="165.75" y="395.0" text-anchor="middle" font-size="11" font-weight="bold" fill="#000" style="font-family:'Liberation Sans',sans-serif">Date</text>
<text transform="translate(16.20,184.00) rotate(-90)" x="0" y="0" text-anchor="middle" font-size="11.45" font-weight="bold" fill="#000" style="font-family:'Liberation Sans',sans-serif">Relative abundance (%)</text>
<line x1="343.50" y1="31.30" x2="343.50" y2="74.40" stroke="#e3e3e3" stroke-width="0.9"/><line x1="353.80" y1="31.30" x2="353.80" y2="74.40" stroke="#e3e3e3" stroke-width="0.7"/><line x1="364.09" y1="31.30" x2="364.09" y2="74.40" stroke="#e3e3e3" stroke-width="0.9"/><line x1="374.38" y1="31.30" x2="374.38" y2="74.40" stroke="#e3e3e3" stroke-width="0.7"/><line x1="384.68" y1="31.30" x2="384.68" y2="74.40" stroke="#e3e3e3" stroke-width="0.9"/><line x1="394.98" y1="31.30" x2="394.98" y2="74.40" stroke="#e3e3e3" stroke-width="0.7"/><line x1="405.27" y1="31.30" x2="405.27" y2="74.40" stroke="#e3e3e3" stroke-width="0.9"/><line x1="415.56" y1="31.30" x2="415.56" y2="74.40" stroke="#e3e3e3" stroke-width="0.7"/><line x1="425.86" y1="31.30" x2="425.86" y2="74.40" stroke="#e3e3e3" stroke-width="0.9"/><line x1="436.15" y1="31.30" x2="436.15" y2="74.40" stroke="#e3e3e3" stroke-width="0.7"/><line x1="446.45" y1="31.30" x2="446.45" y2="74.40" stroke="#e3e3e3" stroke-width="0.9"/><line x1="456.75" y1="31.30" x2="456.75" y2="74.40" stroke="#e3e3e3" stroke-width="0.7"/><line x1="467.04" y1="31.30" x2="467.04" y2="74.40" stroke="#e3e3e3" stroke-width="0.9"/><line x1="477.34" y1="31.30" x2="477.34" y2="74.40" stroke="#e3e3e3" stroke-width="0.7"/><line x1="487.63" y1="31.30" x2="487.63" y2="74.40" stroke="#e3e3e3" stroke-width="0.9"/><line x1="497.93" y1="31.30" x2="497.93" y2="74.40" stroke="#e3e3e3" stroke-width="0.7"/><line x1="508.22" y1="31.30" x2="508.22" y2="74.40" stroke="#e3e3e3" stroke-width="0.9"/><line x1="518.51" y1="31.30" x2="518.51" y2="74.40" stroke="#e3e3e3" stroke-width="0.7"/><line x1="528.81" y1="31.30" x2="528.81" y2="74.40" stroke="#e3e3e3" stroke-width="0.9"/><line x1="539.11" y1="31.30" x2="539.11" y2="74.40" stroke="#e3e3e3" stroke-width="0.7"/><line x1="549.40" y1="31.30" x2="549.40" y2="74.40" stroke="#e3e3e3" stroke-width="0.9"/><line x1="559.69" y1="31.30" x2="559.69" y2="74.40" stroke="#e3e3e3" stroke-width="0.7"/><line x1="569.99" y1="31.30" x2="569.99" y2="74.40" stroke="#e3e3e3" stroke-width="0.9"/><line x1="580.28" y1="31.30" x2="580.28" y2="74.40" stroke="#e3e3e3" stroke-width="0.7"/><line x1="340.30" y1="69.62" x2="587.50" y2="69.62" stroke="#e3e3e3" stroke-width="0.7"/><line x1="340.30" y1="64.85" x2="587.50" y2="64.85" stroke="#e3e3e3" stroke-width="0.9"/><line x1="340.30" y1="60.08" x2="587.50" y2="60.08" stroke="#e3e3e3" stroke-width="0.7"/><line x1="340.30" y1="55.30" x2="587.50" y2="55.30" stroke="#e3e3e3" stroke-width="0.9"/><line x1="340.30" y1="50.53" x2="587.50" y2="50.53" stroke="#e3e3e3" stroke-width="0.7"/><line x1="340.30" y1="45.75" x2="587.50" y2="45.75" stroke="#e3e3e3" stroke-width="0.9"/><line x1="340.30" y1="40.98" x2="587.50" y2="40.98" stroke="#e3e3e3" stroke-width="0.7"/><line x1="340.30" y1="36.20" x2="587.50" y2="36.20" stroke="#e3e3e3" stroke-width="0.9"/><line x1="340.30" y1="31.43" x2="587.50" y2="31.43" stroke="#e3e3e3" stroke-width="0.7"/>
<clipPath id="cp10"><rect x="340.30" y="31.30" width="247.20" height="43.10"/></clipPath><g clip-path="url(#cp10)"><path d="M350.9 71.6h0M353.1 71.5h0M355.4 72.3h0M357.3 72.7h0M362.0 71.4h0M364.3 72.3h0M368.1 71.8h0M370.9 71.6h0M375.0 70.4h0M378.4 71.8h0M381.8 71.4h0M385.7 70.6h0M386.8 70.8h0M388.5 71.8h0M389.7 71.5h0M391.8 71.9h0M393.1 72.0h0M394.5 71.6h0M395.7 71.3h0M396.6 71.8h0M397.6 71.6h0M399.3 71.4h0M400.7 72.0h0M401.9 72.3h0M403.2 72.2h0M404.4 72.3h0M406.5 71.8h0M407.7 71.8h0M408.7 72.1h0M410.1 72.2h0M411.3 71.8h0M413.7 71.2h0M414.9 71.1h0M416.0 71.9h0M417.4 71.0h0M418.7 70.6h0M420.8 71.2h0M421.7 71.9h0M422.9 71.5h0M424.2 70.2h0M425.3 70.9h0M426.4 71.5h0M428.0 70.8h0M429.4 70.2h0M430.8 69.9h0M431.8 72.0h0M433.1 71.7h0M435.5 71.3h0M436.6 71.4h0M437.8 72.1h0M439.1 71.2h0M440.4 71.4h0M442.6 71.9h0M443.8 71.6h0M445.2 71.3h0M446.5 71.3h0M447.8 71.9h0M449.9 72.4h0M451.0 71.6h0M452.0 72.2h0M453.1 71.6h0M454.2 71.0h0M455.5 72.3h0M456.9 72.2h0M457.9 71.2h0M459.3 71.5h0M460.7 71.4h0M462.0 72.3h0M463.3 71.4h0M464.0 70.7h0M465.0 71.9h0M466.1 70.4h0M467.3 70.7h0M468.6 71.2h0M470.4 70.4h0M471.8 70.4h0M472.8 70.9h0M473.9 70.9h0M476.1 71.1h0M477.3 70.8h0M478.6 71.7h0M479.9 70.6h0M481.5 72.3h0M482.7 71.4h0M484.1 71.9h0M485.3 72.7h0M486.7 72.5h0M488.0 72.0h0M489.4 72.6h0M490.5 71.3h0M491.5 72.1h0M492.8 70.9h0M494.3 72.8h0M495.2 72.0h0M496.3 72.3h0M497.5 72.4h0M498.5 72.7h0M499.8 72.0h0M501.5 71.6h0M502.7 72.1h0M503.9 71.4h0M505.3 70.8h0M506.7 72.6h0M508.7 71.7h0M510.0 71.3h0M511.4 71.4h0M512.4 70.7h0M513.8 72.0h0M515.8 71.9h0M517.1 70.7h0M518.1 71.9h0M519.5 70.8h0M520.7 72.2h0M523.0 71.6h0M524.2 71.7h0M525.2 72.2h0M526.4 71.2h0M527.8 73.0h0M528.8 71.4h0M530.5 71.7h0M531.9 71.8h0M533.1 71.1h0M534.1 71.3h0M535.1 72.2h0M536.1 71.6h0M537.8 71.7h0M538.9 71.4h0M540.3 71.3h0M541.3 71.0h0M542.4 71.6h0M543.6 71.4h0M549.1 71.3h0M550.5 72.3h0M551.9 72.2h0M553.2 72.2h0M554.4 71.7h0M555.6 72.0h0M557.3 72.1h0M558.7 71.4h0M559.8 72.0h0M561.0 71.4h0M562.4 71.4h0M563.6 70.4h0M564.6 71.8h0M566.5 71.9h0M567.7 72.3h0M568.6 72.6h0M570.0 71.9h0M571.3 72.1h0M572.4 71.4h0M573.7 72.5h0" fill="none" stroke="#F8766D" stroke-width="3.7" stroke-linecap="round"/>
<path d="M350.9 73.6h0M353.4 74.2h0M355.4 73.0h0M359.0 73.9h0M361.9 73.8h0M364.5 73.8h0M366.9 73.5h0M369.8 72.7h0M372.3 72.9h0M374.6 72.6h0M378.6 73.4h0M380.8 73.5h0M383.0 72.6h0M385.2 72.9h0M386.4 73.3h0M387.4 73.1h0M388.7 72.8h0M389.9 73.6h0M391.0 73.3h0M392.4 73.5h0M393.8 73.3h0M395.3 74.0h0M396.7 73.6h0M397.8 73.1h0M399.1 73.6h0M400.2 72.9h0M401.3 73.7h0M402.7 72.5h0M404.6 74.2h0M405.8 73.4h0M406.8 74.2h0M407.8 73.7h0M409.2 73.2h0M410.5 73.0h0M411.9 73.3h0M413.6 73.2h0M414.7 74.1h0M415.7 73.0h0M416.7 72.9h0M417.9 73.8h0M419.0 73.3h0M420.3 72.8h0M421.5 74.2h0M422.7 72.7h0M423.7 72.5h0M425.0 73.5h0M426.1 73.3h0M427.3 73.1h0M428.4 72.8h0M429.8 73.7h0M431.6 72.8h0M432.9 73.0h0M434.0 73.2h0M435.4 73.8h0M436.4 73.4h0M437.5 73.6h0M438.6 72.7h0M440.8 74.0h0M441.9 73.6h0M443.1 72.4h0M444.5 73.4h0M445.7 74.8h0M447.0 73.2h0M448.0 73.7h0M449.7 73.2h0M451.0 72.8h0M452.0 73.5h0M453.3 73.7h0M454.5 74.0h0M455.7 73.2h0M456.7 73.1h0M458.9 73.4h0M460.0 73.1h0M461.1 73.5h0M462.2 73.3h0M463.5 72.2h0M464.0 73.4h0M465.3 73.6h0M466.3 73.5h0M467.4 72.5h0M468.6 73.3h0M469.8 73.5h0M471.1 74.9h0M472.2 74.8h0M473.3 73.8h0M474.7 74.0h0M475.8 73.9h0M477.2 73.4h0M478.3 73.7h0M479.6 74.2h0M480.9 73.3h0M482.0 73.4h0M483.1 73.7h0M484.3 73.3h0M485.5 73.7h0M486.9 73.4h0M488.2 73.7h0M489.5 73.1h0M490.8 73.4h0M491.8 73.6h0M493.0 73.8h0M494.2 72.7h0M495.6 73.2h0M496.8 74.4h0M497.8 73.7h0M498.9 73.9h0M501.2 74.0h0M502.3 73.9h0M503.3 72.8h0M504.6 73.6h0M505.7 73.0h0M506.9 73.3h0M508.0 73.7h0M509.1 73.8h0M510.4 73.8h0M511.6 72.7h0M512.6 74.0h0M513.7 74.4h0M515.1 73.0h0M516.4 72.6h0M517.7 73.2h0M519.4 74.3h0M520.5 74.0h0M521.7 73.2h0M523.0 73.4h0M524.3 73.7h0M525.4 72.5h0M526.4 73.5h0M527.6 72.7h0M528.7 74.0h0M529.9 74.2h0M531.2 73.2h0M532.4 73.8h0M533.8 73.8h0M535.1 73.1h0M536.2 74.0h0M537.5 72.8h0M538.6 74.1h0M539.7 72.9h0M540.7 73.9h0M541.7 74.7h0M543.1 72.8h0M544.3 73.3h0M549.1 73.1h0M550.3 74.1h0M551.3 73.7h0M552.3 72.8h0M553.7 72.6h0M555.0 73.4h0M555.9 73.2h0M557.0 73.4h0M558.2 73.1h0M559.6 73.7h0M561.0 73.9h0M562.9 73.0h0M564.3 73.5h0M565.7 73.3h0M567.0 73.1h0M568.2 73.6h0M569.5 73.0h0M570.8 72.8h0M572.2 73.6h0M573.4 73.5h0" fill="none" stroke="#7CAE00" stroke-width="3.7" stroke-linecap="round"/>
<path d="M454.0 72.0h0M455.3 71.7h0M456.5 71.7h0M457.7 71.0h0M459.0 70.0h0M460.3 72.0h0M461.3 70.9h0M462.4 71.1h0M463.5 71.0h0M464.0 68.0h0M465.4 67.9h0M466.6 67.2h0M467.8 67.5h0M469.0 68.4h0M470.8 66.7h0M471.8 67.0h0M472.8 66.9h0M474.0 67.3h0M475.9 66.4h0M477.0 67.1h0M478.0 67.0h0M479.6 67.4h0M480.8 67.7h0M481.9 68.8h0M483.3 68.6h0M484.5 69.7h0M485.7 70.2h0M486.9 70.9h0M488.9 71.9h0M490.3 70.9h0M491.3 71.4h0M492.7 71.8h0M494.1 71.4h0M495.2 71.1h0M496.6 70.9h0M497.7 71.2h0M499.4 70.0h0M500.9 68.9h0M501.9 68.7h0M503.1 68.5h0M504.8 66.9h0M506.0 68.9h0M507.4 68.1h0M508.5 69.3h0M510.5 67.9h0M511.6 66.4h0M514.3 66.9h0M515.3 67.7h0M516.5 67.9h0M517.9 68.3h0M519.4 69.1h0M520.7 68.9h0M522.1 69.2h0M523.1 69.5h0M524.7 69.5h0M526.2 70.2h0M527.5 69.5h0M528.9 70.7h0M530.4 70.2h0M531.8 70.6h0M533.2 70.2h0M534.3 70.3h0M536.0 70.6h0M536.9 70.0h0M538.0 70.2h0M539.4 69.7h0M541.3 69.6h0M542.4 69.4h0M543.7 68.8h0M544.8 68.5h0M546.8 68.7h0M547.9 68.2h0M549.1 66.9h0M551.0 66.6h0M552.2 67.6h0M554.7 69.1h0M555.7 69.2h0M556.7 67.9h0M557.9 70.3h0M559.3 70.3h0M560.6 70.7h0M561.7 70.5h0M562.7 70.3h0M564.7 71.1h0M566.1 70.9h0M567.3 70.9h0M568.6 71.4h0M570.2 70.7h0M571.4 71.7h0M572.6 72.0h0M573.8 72.4h0M575.9 71.9h0M576.9 72.3h0" fill="none" stroke="#00BFC4" stroke-width="3.7" stroke-linecap="round"/>
<path d="M358.1 67.7h0M360.6 68.3h0M363.0 69.6h0M365.8 70.2h0M369.3 71.5h0M372.7 71.5h0M375.9 70.8h0M378.7 69.2h0M382.1 68.2h0M385.8 67.2h0M388.2 67.0h0M389.6 67.1h0M391.8 68.3h0M393.1 68.3h0M394.2 68.0h0M395.5 68.5h0M396.8 68.4h0M398.9 68.8h0M400.2 68.6h0M401.3 68.0h0M402.9 70.5h0M404.3 70.3h0M406.5 70.8h0M407.8 71.1h0M410.2 71.2h0M411.4 71.8h0M413.4 70.9h0M414.8 71.1h0M415.8 69.4h0M417.0 69.3h0M418.4 68.0h0M420.7 68.2h0M422.0 67.6h0M424.5 66.9h0M425.5 67.5h0M426.6 67.7h0M428.2 65.7h0M429.6 63.8h0M431.9 64.2h0M433.3 65.9h0M435.2 66.0h0M436.4 66.0h0M437.5 66.1h0M439.2 65.8h0M440.4 66.9h0M442.5 66.8h0M443.8 68.4h0M446.1 69.3h0M447.3 68.6h0M448.5 69.6h0M449.7 69.9h0M450.7 70.8h0M452.1 70.4h0M453.3 69.8h0M454.5 68.8h0M455.6 69.0h0M456.9 68.9h0M458.3 67.7h0M459.3 67.2h0M460.7 68.2h0M461.9 67.7h0M463.1 67.8h0M464.0 66.2h0M465.2 65.6h0M466.6 65.8h0M468.0 65.5h0M469.3 65.5h0M470.7 65.0h0M471.7 65.1h0M472.7 64.2h0M474.2 64.3h0M475.3 64.6h0M476.4 64.6h0M477.5 65.5h0M479.5 66.2h0M480.6 65.7h0M481.6 67.0h0M483.2 68.5h0M484.5 68.1h0M485.7 68.2h0M486.9 69.0h0M488.8 69.5h0M490.1 69.2h0M491.1 69.4h0M492.0 70.5h0M494.0 69.1h0M495.3 69.9h0M496.3 69.8h0M497.7 69.5h0M499.8 67.7h0M500.9 67.6h0M502.0 67.7h0M503.0 68.4h0M504.0 68.3h0M505.1 68.4h0M506.4 68.6h0M508.8 69.4h0M509.8 69.7h0M510.9 69.1h0M512.5 68.8h0M513.7 68.8h0M515.0 68.5h0M516.2 68.3h0M517.7 68.3h0M518.7 68.4h0M520.0 68.2h0M521.2 68.2h0M523.1 69.8h0M524.3 69.5h0M525.6 67.3h0M526.9 68.3h0M528.8 68.2h0M530.1 69.4h0M531.3 70.3h0M532.4 70.1h0M534.0 70.1h0M535.1 70.4h0M536.6 70.2h0M538.0 71.4h0M539.4 70.5h0M540.8 70.0h0M541.8 70.2h0M543.0 69.3h0M544.8 69.1h0M545.8 69.3h0M547.0 69.3h0M548.2 68.1h0M550.0 68.5h0M551.3 69.2h0M552.4 69.0h0M553.5 69.2h0M555.5 69.1h0M556.5 70.1h0M557.6 70.7h0M558.8 71.0h0M561.4 70.8h0M562.6 70.2h0M563.8 70.6h0M564.7 71.8h0M566.4 71.2h0M567.7 71.1h0M568.8 72.2h0M570.2 71.6h0M571.9 72.5h0M573.0 70.9h0M574.0 72.6h0" fill="none" stroke="#C77CFF" stroke-width="3.7" stroke-linecap="round"/></g>
<line x1="343.50" y1="31.30" x2="343.50" y2="74.40" stroke="#404040" stroke-width="1.2"/>
<line x1="384.68" y1="31.30" x2="384.68" y2="74.40" stroke="#404040" stroke-width="1.2"/>
<line x1="425.86" y1="31.30" x2="425.86" y2="74.40" stroke="#404040" stroke-width="1.2"/>
<line x1="467.04" y1="31.30" x2="467.04" y2="74.40" stroke="#404040" stroke-width="1.2"/>
<line x1="508.22" y1="31.30" x2="508.22" y2="74.40" stroke="#404040" stroke-width="1.2"/>
<line x1="549.40" y1="31.30" x2="549.40" y2="74.40" stroke="#404040" stroke-width="1.2"/>
<rect x="340.30" y="31.30" width="247.20" height="43.10" fill="none" stroke="#999" stroke-width="0.9"/>
<rect x="340.30" y="13.90" width="247.20" height="17.40" fill="#d9d9d9" stroke="#b0b0b0" stroke-width="1.4"/>
<line x1="340.30" y1="31.30" x2="587.50" y2="31.30" stroke="#444" stroke-width="1"/>
<text x="463.90" y="27.00" text-anchor="middle" font-size="11.5" fill="#1a1a1a" stroke="#1a1a1a" stroke-width="0.12" style="font-family:'Liberation Sans',sans-serif">Winter cohort</text>
<line x1="337.70" y1="74.40" x2="340.30" y2="74.40" stroke="#444" stroke-width="0.8"/>
<text x="335.10" y="78.40" text-anchor="end" font-size="11.5" fill="#222" stroke="#222" stroke-width="0.12" style="font-family:'Liberation Sans',sans-serif">0</text>
<line x1="337.70" y1="64.85" x2="340.30" y2="64.85" stroke="#444" stroke-width="0.8"/>
<text x="335.10" y="68.85" text-anchor="end" font-size="11.5" fill="#222" stroke="#222" stroke-width="0.12" style="font-family:'Liberation Sans',sans-serif">10</text>
<line x1="337.70" y1="55.30" x2="340.30" y2="55.30" stroke="#444" stroke-width="0.8"/>
<text x="335.10" y="59.30" text-anchor="end" font-size="11.5" fill="#222" stroke="#222" stroke-width="0.12" style="font-family:'Liberation Sans',sans-serif">20</text>
<line x1="337.70" y1="45.75" x2="340.30" y2="45.75" stroke="#444" stroke-width="0.8"/>
<text x="335.10" y="49.75" text-anchor="end" font-size="11.5" fill="#222" stroke="#222" stroke-width="0.12" style="font-family:'Liberation Sans',sans-serif">30</text>
<line x1="337.70" y1="36.20" x2="340.30" y2="36.20" stroke="#444" stroke-width="0.8"/>
<text x="335.10" y="40.20" text-anchor="end" font-size="11.5" fill="#222" stroke="#222" stroke-width="0.12" style="font-family:'Liberation Sans',sans-serif">40</text>
<line x1="343.50" y1="96.70" x2="343.50" y2="139.95" stroke="#e3e3e3" stroke-width="0.9"/><line x1="353.80" y1="96.70" x2="353.80" y2="139.95" stroke="#e3e3e3" stroke-width="0.7"/><line x1="364.09" y1="96.70" x2="364.09" y2="139.95" stroke="#e3e3e3" stroke-width="0.9"/><line x1="374.38" y1="96.70" x2="374.38" y2="139.95" stroke="#e3e3e3" stroke-width="0.7"/><line x1="384.68" y1="96.70" x2="384.68" y2="139.95" stroke="#e3e3e3" stroke-width="0.9"/><line x1="394.98" y1="96.70" x2="394.98" y2="139.95" stroke="#e3e3e3" stroke-width="0.7"/><line x1="405.27" y1="96.70" x2="405.27" y2="139.95" stroke="#e3e3e3" stroke-width="0.9"/><line x1="415.56" y1="96.70" x2="415.56" y2="139.95" stroke="#e3e3e3" stroke-width="0.7"/><line x1="425.86" y1="96.70" x2="425.86" y2="139.95" stroke="#e3e3e3" stroke-width="0.9"/><line x1="436.15" y1="96.70" x2="436.15" y2="139.95" stroke="#e3e3e3" stroke-width="0.7"/><line x1="446.45" y1="96.70" x2="446.45" y2="139.95" stroke="#e3e3e3" stroke-width="0.9"/><line x1="456.75" y1="96.70" x2="456.75" y2="139.95" stroke="#e3e3e3" stroke-width="0.7"/><line x1="467.04" y1="96.70" x2="467.04" y2="139.95" stroke="#e3e3e3" stroke-width="0.9"/><line x1="477.34" y1="96.70" x2="477.34" y2="139.95" stroke="#e3e3e3" stroke-width="0.7"/><line x1="487.63" y1="96.70" x2="487.63" y2="139.95" stroke="#e3e3e3" stroke-width="0.9"/><line x1="497.93" y1="96.70" x2="497.93" y2="139.95" stroke="#e3e3e3" stroke-width="0.7"/><line x1="508.22" y1="96.70" x2="508.22" y2="139.95" stroke="#e3e3e3" stroke-width="0.9"/><line x1="518.51" y1="96.70" x2="518.51" y2="139.95" stroke="#e3e3e3" stroke-width="0.7"/><line x1="528.81" y1="96.70" x2="528.81" y2="139.95" stroke="#e3e3e3" stroke-width="0.9"/><line x1="539.11" y1="96.70" x2="539.11" y2="139.95" stroke="#e3e3e3" stroke-width="0.7"/><line x1="549.40" y1="96.70" x2="549.40" y2="139.95" stroke="#e3e3e3" stroke-width="0.9"/><line x1="559.69" y1="96.70" x2="559.69" y2="139.95" stroke="#e3e3e3" stroke-width="0.7"/><line x1="569.99" y1="96.70" x2="569.99" y2="139.95" stroke="#e3e3e3" stroke-width="0.9"/><line x1="580.28" y1="96.70" x2="580.28" y2="139.95" stroke="#e3e3e3" stroke-width="0.7"/><line x1="340.30" y1="135.17" x2="587.50" y2="135.17" stroke="#e3e3e3" stroke-width="0.7"/><line x1="340.30" y1="130.40" x2="587.50" y2="130.40" stroke="#e3e3e3" stroke-width="0.9"/><line x1="340.30" y1="125.62" x2="587.50" y2="125.62" stroke="#e3e3e3" stroke-width="0.7"/><line x1="340.30" y1="120.85" x2="587.50" y2="120.85" stroke="#e3e3e3" stroke-width="0.9"/><line x1="340.30" y1="116.07" x2="587.50" y2="116.07" stroke="#e3e3e3" stroke-width="0.7"/><line x1="340.30" y1="111.30" x2="587.50" y2="111.30" stroke="#e3e3e3" stroke-width="0.9"/><line x1="340.30" y1="106.52" x2="587.50" y2="106.52" stroke="#e3e3e3" stroke-width="0.7"/><line x1="340.30" y1="101.75" x2="587.50" y2="101.75" stroke="#e3e3e3" stroke-width="0.9"/><line x1="340.30" y1="96.97" x2="587.50" y2="96.97" stroke="#e3e3e3" stroke-width="0.7"/>
<clipPath id="cp11"><rect x="340.30" y="96.70" width="247.20" height="43.25"/></clipPath><g clip-path="url(#cp11)"><path d="M351.2 126.7h0M355.4 125.8h0M359.9 128.5h0M362.5 130.7h0M365.1 133.9h0M367.3 134.6h0M371.2 135.3h0M374.9 136.3h0M378.1 136.0h0M382.5 133.8h0M385.7 129.8h0M387.2 129.0h0M388.5 129.9h0M389.7 127.7h0M391.0 127.7h0M392.0 128.4h0M393.1 127.8h0M394.6 127.6h0M395.8 128.0h0M396.8 128.3h0M398.4 128.6h0M399.8 131.2h0M401.8 130.4h0M403.0 131.8h0M404.4 133.4h0M405.6 134.3h0M406.8 133.6h0M408.2 133.4h0M409.2 134.6h0M410.3 135.1h0M411.6 135.4h0M413.7 134.5h0M414.8 135.9h0M416.2 135.1h0M417.2 135.1h0M419.0 134.7h0M420.3 133.5h0M421.3 132.5h0M422.7 132.6h0M423.9 132.0h0M426.1 132.6h0M427.1 131.8h0M428.4 131.1h0M430.1 130.8h0M431.5 130.2h0M433.5 130.8h0M434.5 130.0h0M435.6 130.3h0M437.3 130.1h0M438.3 130.9h0M439.4 129.5h0M440.9 130.8h0M442.3 131.3h0M444.4 132.5h0M445.7 132.5h0M448.0 133.6h0M449.3 133.9h0M450.3 134.2h0M451.6 134.2h0M452.8 134.6h0M453.9 133.8h0M455.4 132.9h0M456.7 133.0h0M458.9 132.7h0M460.0 133.3h0M461.2 133.0h0M462.4 132.5h0M463.6 132.5h0M464.0 128.5h0M465.1 127.7h0M466.2 127.3h0M467.2 127.6h0M468.8 127.6h0M470.2 128.5h0M472.7 128.8h0M473.9 129.3h0M476.2 129.5h0M477.4 129.6h0M479.5 129.6h0M480.8 130.6h0M482.0 130.0h0M483.1 130.8h0M484.3 130.8h0M485.6 132.4h0M486.9 133.5h0M488.1 134.7h0M490.5 136.4h0M491.6 136.1h0M492.9 135.7h0M494.3 136.5h0M495.8 137.2h0M497.0 136.4h0M498.3 135.9h0M499.5 135.9h0M501.5 135.6h0M502.8 134.9h0M504.1 134.8h0M505.5 134.6h0M506.9 133.6h0M508.1 132.9h0M509.4 132.5h0M510.8 132.4h0M512.0 132.4h0M513.4 131.6h0M515.6 117.6h0M517.0 118.6h0M518.5 120.5h0M520.4 123.7h0M522.4 125.6h0M524.7 127.6h0M526.1 127.4h0M527.3 129.2h0M528.8 129.9h0M530.0 131.0h0M532.3 131.8h0M533.6 132.7h0M535.9 134.5h0M537.0 135.1h0M539.2 135.8h0M540.3 135.8h0M541.6 135.5h0M542.7 136.1h0M545.0 136.0h0M546.0 135.5h0M549.1 130.3h0M550.4 128.7h0M551.6 128.7h0M552.6 128.4h0M554.1 129.1h0M555.7 130.6h0M556.9 131.4h0M558.0 132.0h0M559.6 133.1h0M560.6 132.3h0M562.8 133.5h0M564.1 132.9h0M566.5 134.5h0M567.8 134.0h0M570.1 134.7h0M571.1 135.6h0M572.5 135.5h0M573.7 135.5h0M572.3 131.2h0" fill="none" stroke="#F8766D" stroke-width="3.7" stroke-linecap="round"/>
<path d="M351.2 137.5h0M355.4 134.5h0M359.9 135.7h0M361.8 135.5h0M365.8 136.5h0M369.2 136.3h0M374.3 137.1h0M378.3 137.3h0M380.5 137.5h0M383.9 137.7h0M386.1 136.1h0M387.6 137.0h0M388.9 136.3h0M389.9 136.5h0M391.9 134.5h0M393.1 132.6h0M394.5 133.5h0M395.5 134.1h0M396.8 133.7h0M398.0 134.9h0M399.2 134.4h0M400.6 135.1h0M401.9 135.9h0M403.2 136.1h0M404.6 136.8h0M406.5 137.2h0M407.7 136.4h0M409.1 137.0h0M410.4 136.3h0M411.7 136.5h0M413.1 137.9h0M414.2 137.2h0M415.1 137.0h0M417.0 137.3h0M418.2 136.6h0M419.5 135.8h0M420.7 136.2h0M422.9 135.8h0M424.1 136.2h0M425.1 135.7h0M426.4 135.4h0M427.9 135.0h0M429.3 134.6h0M430.2 134.4h0M431.3 134.3h0M433.6 134.2h0M434.8 135.0h0M436.0 134.7h0M437.1 136.3h0M439.0 134.8h0M440.0 136.0h0M441.2 134.8h0M442.3 136.5h0M444.3 135.4h0M445.6 135.9h0M446.7 136.0h0M447.9 135.8h0M449.9 136.1h0M450.9 136.0h0M451.9 136.7h0M453.0 136.8h0M455.2 136.9h0M456.2 136.3h0M457.3 136.9h0M458.5 136.9h0M460.8 136.0h0M462.1 135.8h0M463.4 136.1h0M464.0 135.2h0M465.4 135.4h0M466.6 135.3h0M467.9 135.4h0M469.3 135.4h0M470.5 135.8h0M471.6 135.8h0M472.8 135.5h0M474.2 135.6h0M476.2 134.3h0M477.2 135.6h0M478.6 135.7h0M479.8 134.4h0M481.3 134.7h0M482.5 135.4h0M483.9 136.0h0M485.2 136.4h0M486.8 136.1h0M488.2 136.7h0M489.4 137.3h0M490.5 137.3h0M491.7 137.2h0M494.0 137.1h0M495.4 137.1h0M496.4 136.6h0M497.4 136.5h0M498.7 136.2h0M499.9 136.3h0M501.4 135.6h0M502.6 135.7h0M503.5 136.3h0M504.7 135.2h0M505.8 135.9h0M507.1 136.3h0M508.7 134.7h0M509.7 134.8h0M511.0 135.1h0M512.0 135.1h0M513.9 134.0h0M515.4 133.6h0M516.6 134.0h0M518.0 133.9h0M519.7 135.1h0M520.9 134.6h0M521.9 134.4h0M523.2 134.8h0M525.0 135.4h0M526.3 135.9h0M527.6 135.9h0M528.9 135.6h0M530.6 136.2h0M531.8 135.2h0M532.9 137.1h0M534.3 135.4h0M535.4 136.5h0M537.8 135.6h0M538.9 135.7h0M540.2 137.0h0M541.4 136.6h0M542.4 136.4h0M543.6 137.3h0M544.6 137.2h0M549.1 135.7h0M550.1 136.4h0M551.4 136.5h0M552.6 135.4h0M554.0 135.7h0M555.2 135.6h0M556.4 136.0h0M557.7 136.8h0M559.5 136.9h0M560.7 136.4h0M561.7 136.8h0M562.9 137.5h0M563.9 136.2h0M565.3 137.2h0M566.4 136.5h0M567.5 136.3h0M568.7 137.1h0M569.8 137.6h0M571.0 137.0h0M572.1 136.6h0M573.2 137.5h0" fill="none" stroke="#7CAE00" stroke-width="3.7" stroke-linecap="round"/>
<path d="M473.1 137.0h0M474.2 138.2h0M475.3 136.9h0M476.6 137.0h0M477.7 136.7h0M478.8 137.3h0M479.7 136.7h0M480.8 137.0h0M481.9 137.5h0M483.3 137.7h0M484.3 138.3h0M485.5 137.6h0M486.7 137.6h0M487.8 137.9h0M489.2 137.3h0M490.5 138.2h0M492.5 138.4h0M493.5 137.7h0M494.7 138.3h0M496.1 137.3h0M497.4 137.8h0M498.5 137.7h0M499.7 137.8h0M500.9 137.9h0M502.2 137.8h0M503.3 137.7h0M504.7 139.0h0M505.8 138.2h0M507.3 138.0h0M508.3 138.9h0M510.6 138.3h0M511.5 138.4h0M512.5 138.4h0M513.7 137.6h0M514.9 138.8h0M516.3 138.3h0M517.7 137.8h0M519.1 137.5h0M520.2 137.8h0M521.3 138.1h0M522.5 138.4h0M523.7 138.2h0M525.0 137.4h0M526.0 138.4h0M527.3 137.6h0M528.7 137.4h0M529.9 138.5h0M530.9 137.8h0M531.9 138.9h0M533.2 137.3h0M534.3 137.9h0M535.5 137.3h0M536.5 138.2h0M537.7 138.0h0M538.7 138.7h0M539.8 138.2h0M540.9 139.1h0M542.3 138.0h0M543.5 137.7h0M544.5 138.7h0M546.7 137.8h0M547.9 137.9h0M549.3 137.7h0M550.5 138.9h0M551.9 138.5h0M553.0 137.8h0M554.4 137.1h0M555.4 138.3h0M556.7 137.8h0M558.0 137.0h0M559.4 138.3h0M560.8 138.7h0M562.1 137.9h0M563.4 137.6h0M564.6 138.4h0M566.5 138.7h0M567.8 137.4h0M569.0 137.6h0M570.3 138.2h0M571.3 137.0h0M572.3 138.8h0M573.5 138.7h0M574.9 138.6h0M575.9 138.7h0" fill="none" stroke="#00BFC4" stroke-width="3.7" stroke-linecap="round"/>
<path d="M357.2 139.0h0M359.3 138.1h0M362.0 138.6h0M364.7 139.4h0M367.0 138.9h0M368.9 138.8h0M371.0 139.7h0M373.0 139.6h0M375.7 138.8h0M378.2 138.7h0M380.4 138.8h0M383.0 139.0h0M385.5 138.3h0M386.7 138.6h0M387.7 138.6h0M388.9 139.7h0M389.9 139.0h0M390.9 139.6h0M391.9 138.7h0M393.3 139.1h0M394.3 139.0h0M395.4 138.1h0M396.6 139.7h0M397.8 139.0h0M399.2 138.9h0M400.3 140.2h0M401.5 138.7h0M402.9 139.7h0M404.1 139.6h0M405.5 140.4h0M406.7 139.1h0M407.9 138.8h0M409.2 139.1h0M410.2 138.3h0M411.4 138.9h0M412.6 139.7h0M413.8 138.3h0M415.1 138.8h0M416.2 138.9h0M417.2 139.3h0M418.6 139.2h0M419.7 138.9h0M421.1 139.9h0M422.6 137.9h0M423.7 139.3h0M424.9 139.1h0M425.9 139.0h0M427.1 139.6h0M428.2 139.3h0M429.2 139.3h0M430.2 139.7h0M431.6 139.5h0M432.6 139.3h0M433.8 138.1h0M434.9 139.1h0M435.9 138.8h0M437.3 139.2h0M438.7 140.1h0M439.6 139.6h0M440.7 139.4h0M442.0 138.8h0M443.1 138.7h0M444.2 139.5h0M445.5 138.5h0M446.8 140.0h0M448.1 139.4h0M449.3 138.5h0M450.6 138.7h0M451.8 138.9h0M452.9 139.6h0M453.9 138.0h0M455.2 138.9h0M456.2 138.3h0M457.5 139.0h0M458.6 138.2h0M460.0 138.9h0M461.2 139.1h0M462.2 138.3h0M463.3 138.8h0M464.0 139.0h0M465.1 139.4h0M466.5 138.9h0M467.8 138.5h0M469.2 139.4h0M470.7 139.6h0M471.8 139.6h0M472.9 138.4h0M473.9 139.2h0M475.1 138.5h0M476.3 138.8h0M477.7 137.9h0M479.0 139.2h0M479.9 139.4h0M481.0 138.8h0M482.2 139.3h0M483.2 138.7h0M484.3 138.6h0M485.6 138.9h0M486.9 139.1h0M488.3 139.3h0M489.4 138.7h0M490.6 139.8h0M491.9 140.0h0M493.1 139.4h0M494.3 139.1h0M495.7 139.4h0M496.7 139.5h0M498.2 139.0h0M499.5 138.1h0M500.5 139.0h0M501.8 139.1h0M502.8 139.1h0M504.2 139.3h0M505.5 138.7h0M506.5 140.3h0M507.6 138.3h0M508.6 139.6h0M509.9 138.1h0M511.0 138.7h0M512.0 139.6h0M513.2 139.5h0M514.5 139.1h0M515.6 139.4h0M517.0 138.9h0M518.3 138.7h0M519.2 138.6h0M520.6 139.1h0M521.9 138.9h0M522.9 138.7h0M524.1 139.0h0M525.5 138.9h0M526.9 138.6h0M528.2 139.5h0M529.6 138.6h0M530.9 138.5h0M532.1 139.6h0M533.2 139.1h0M534.4 138.7h0M535.5 139.2h0M536.8 139.4h0M538.2 138.6h0M539.2 138.2h0M540.5 138.9h0M541.7 139.6h0M542.9 140.1h0M544.2 138.8h0M545.4 139.2h0M546.6 139.6h0M547.9 138.5h0M549.1 139.0h0M550.6 138.7h0M551.8 138.7h0M552.8 138.8h0M554.1 138.9h0M555.2 138.3h0M556.4 139.1h0M557.8 138.3h0M558.8 139.0h0M560.0 138.9h0M561.3 139.5h0M562.5 139.2h0M563.9 139.5h0M565.3 139.3h0M566.3 139.9h0M567.4 138.2h0M568.5 139.2h0M569.6 139.3h0M570.9 139.6h0M572.3 138.7h0M573.5 139.0h0M574.7 139.0h0M575.6 139.6h0M472.1 133.9h0" fill="none" stroke="#C77CFF" stroke-width="3.7" stroke-linecap="round"/></g>
<line x1="343.50" y1="96.70" x2="343.50" y2="139.95" stroke="#404040" stroke-width="1.2"/>
<line x1="384.68" y1="96.70" x2="384.68" y2="139.95" stroke="#404040" stroke-width="1.2"/>
<line x1="425.86" y1="96.70" x2="425.86" y2="139.95" stroke="#404040" stroke-width="1.2"/>
<line x1="467.04" y1="96.70" x2="467.04" y2="139.95" stroke="#404040" stroke-width="1.2"/>
<line x1="508.22" y1="96.70" x2="508.22" y2="139.95" stroke="#404040" stroke-width="1.2"/>
<line x1="549.40" y1="96.70" x2="549.40" y2="139.95" stroke="#404040" stroke-width="1.2"/>
<rect x="340.30" y="96.70" width="247.20" height="43.25" fill="none" stroke="#999" stroke-width="0.9"/>
<rect x="340.30" y="79.60" width="247.20" height="17.10" fill="#d9d9d9" stroke="#b0b0b0" stroke-width="1.4"/>
<line x1="340.30" y1="96.70" x2="587.50" y2="96.70" stroke="#444" stroke-width="1"/>
<text x="463.90" y="92.70" text-anchor="middle" font-size="11.5" fill="#1a1a1a" stroke="#1a1a1a" stroke-width="0.12" style="font-family:'Liberation Sans',sans-serif">Spring cohort</text>
<line x1="337.70" y1="139.95" x2="340.30" y2="139.95" stroke="#444" stroke-width="0.8"/>
<text x="335.10" y="143.95" text-anchor="end" font-size="11.5" fill="#222" stroke="#222" stroke-width="0.12" style="font-family:'Liberation Sans',sans-serif">0</text>
<line x1="337.70" y1="130.40" x2="340.30" y2="130.40" stroke="#444" stroke-width="0.8"/>
<text x="335.10" y="134.40" text-anchor="end" font-size="11.5" fill="#222" stroke="#222" stroke-width="0.12" style="font-family:'Liberation Sans',sans-serif">10</text>
<line x1="337.70" y1="120.85" x2="340.30" y2="120.85" stroke="#444" stroke-width="0.8"/>
<text x="335.10" y="124.85" text-anchor="end" font-size="11.5" fill="#222" stroke="#222" stroke-width="0.12" style="font-family:'Liberation Sans',sans-serif">20</text>
<line x1="337.70" y1="111.30" x2="340.30" y2="111.30" stroke="#444" stroke-width="0.8"/>
<text x="335.10" y="115.30" text-anchor="end" font-size="11.5" fill="#222" stroke="#222" stroke-width="0.12" style="font-family:'Liberation Sans',sans-serif">30</text>
<line x1="337.70" y1="101.75" x2="340.30" y2="101.75" stroke="#444" stroke-width="0.8"/>
<text x="335.10" y="105.75" text-anchor="end" font-size="11.5" fill="#222" stroke="#222" stroke-width="0.12" style="font-family:'Liberation Sans',sans-serif">40</text>
<line x1="343.50" y1="162.30" x2="343.50" y2="205.40" stroke="#e3e3e3" stroke-width="0.9"/><line x1="353.80" y1="162.30" x2="353.80" y2="205.40" stroke="#e3e3e3" stroke-width="0.7"/><line x1="364.09" y1="162.30" x2="364.09" y2="205.40" stroke="#e3e3e3" stroke-width="0.9"/><line x1="374.38" y1="162.30" x2="374.38" y2="205.40" stroke="#e3e3e3" stroke-width="0.7"/><line x1="384.68" y1="162.30" x2="384.68" y2="205.40" stroke="#e3e3e3" stroke-width="0.9"/><line x1="394.98" y1="162.30" x2="394.98" y2="205.40" stroke="#e3e3e3" stroke-width="0.7"/><line x1="405.27" y1="162.30" x2="405.27" y2="205.40" stroke="#e3e3e3" stroke-width="0.9"/><line x1="415.56" y1="162.30" x2="415.56" y2="205.40" stroke="#e3e3e3" stroke-width="0.7"/><line x1="425.86" y1="162.30" x2="425.86" y2="205.40" stroke="#e3e3e3" stroke-width="0.9"/><line x1="436.15" y1="162.30" x2="436.15" y2="205.40" stroke="#e3e3e3" stroke-width="0.7"/><line x1="446.45" y1="162.30" x2="446.45" y2="205.40" stroke="#e3e3e3" stroke-width="0.9"/><line x1="456.75" y1="162.30" x2="456.75" y2="205.40" stroke="#e3e3e3" stroke-width="0.7"/><line x1="467.04" y1="162.30" x2="467.04" y2="205.40" stroke="#e3e3e3" stroke-width="0.9"/><line x1="477.34" y1="162.30" x2="477.34" y2="205.40" stroke="#e3e3e3" stroke-width="0.7"/><line x1="487.63" y1="162.30" x2="487.63" y2="205.40" stroke="#e3e3e3" stroke-width="0.9"/><line x1="497.93" y1="162.30" x2="497.93" y2="205.40" stroke="#e3e3e3" stroke-width="0.7"/><line x1="508.22" y1="162.30" x2="508.22" y2="205.40" stroke="#e3e3e3" stroke-width="0.9"/><line x1="518.51" y1="162.30" x2="518.51" y2="205.40" stroke="#e3e3e3" stroke-width="0.7"/><line x1="528.81" y1="162.30" x2="528.81" y2="205.40" stroke="#e3e3e3" stroke-width="0.9"/><line x1="539.11" y1="162.30" x2="539.11" y2="205.40" stroke="#e3e3e3" stroke-width="0.7"/><line x1="549.40" y1="162.30" x2="549.40" y2="205.40" stroke="#e3e3e3" stroke-width="0.9"/><line x1="559.69" y1="162.30" x2="559.69" y2="205.40" stroke="#e3e3e3" stroke-width="0.7"/><line x1="569.99" y1="162.30" x2="569.99" y2="205.40" stroke="#e3e3e3" stroke-width="0.9"/><line x1="580.28" y1="162.30" x2="580.28" y2="205.40" stroke="#e3e3e3" stroke-width="0.7"/><line x1="340.30" y1="200.62" x2="587.50" y2="200.62" stroke="#e3e3e3" stroke-width="0.7"/><line x1="340.30" y1="195.85" x2="587.50" y2="195.85" stroke="#e3e3e3" stroke-width="0.9"/><line x1="340.30" y1="191.08" x2="587.50" y2="191.08" stroke="#e3e3e3" stroke-width="0.7"/><line x1="340.30" y1="186.30" x2="587.50" y2="186.30" stroke="#e3e3e3" stroke-width="0.9"/><line x1="340.30" y1="181.53" x2="587.50" y2="181.53" stroke="#e3e3e3" stroke-width="0.7"/><line x1="340.30" y1="176.75" x2="587.50" y2="176.75" stroke="#e3e3e3" stroke-width="0.9"/><line x1="340.30" y1="171.98" x2="587.50" y2="171.98" stroke="#e3e3e3" stroke-width="0.7"/><line x1="340.30" y1="167.20" x2="587.50" y2="167.20" stroke="#e3e3e3" stroke-width="0.9"/><line x1="340.30" y1="162.43" x2="587.50" y2="162.43" stroke="#e3e3e3" stroke-width="0.7"/>
<clipPath id="cp12"><rect x="340.30" y="162.30" width="247.20" height="43.10"/></clipPath><g clip-path="url(#cp12)"><path d="M367.2 204.2h0M369.3 204.5h0M371.6 203.4h0M373.5 203.2h0M376.6 203.7h0M378.8 203.7h0M381.5 203.9h0M384.0 203.9h0M386.7 204.1h0M387.9 203.9h0M390.3 203.9h0M391.4 203.4h0M392.6 203.5h0M393.8 203.8h0M394.8 202.6h0M395.9 204.5h0M397.4 204.1h0M398.6 203.0h0M399.9 203.9h0M400.9 204.3h0M401.9 203.9h0M403.2 204.0h0M404.7 204.5h0M406.2 204.0h0M407.4 203.9h0M408.6 202.1h0M409.8 203.2h0M411.1 202.2h0M412.1 203.4h0M413.4 203.1h0M415.3 201.6h0M416.3 202.3h0M417.7 203.7h0M418.9 202.9h0M420.8 203.4h0M421.9 203.5h0M423.0 203.9h0M424.4 203.4h0M426.5 204.4h0M427.6 203.3h0M428.7 203.4h0M430.1 203.6h0M431.1 203.5h0M432.2 203.5h0M433.4 205.4h0M435.6 203.6h0M437.0 203.1h0M438.0 203.5h0M439.4 202.8h0M440.8 203.6h0M442.0 203.3h0M443.0 202.9h0M444.2 204.0h0M445.3 204.6h0M446.3 203.2h0M447.6 203.3h0M448.7 203.4h0M450.1 203.9h0M451.0 203.0h0M452.2 202.4h0M453.2 202.7h0M454.3 203.6h0M455.8 202.6h0M457.1 203.9h0M458.4 202.5h0M459.8 203.1h0M460.8 203.1h0M462.0 203.2h0M463.2 204.2h0M464.0 203.6h0M465.2 203.3h0M466.2 203.7h0M467.2 203.1h0M468.6 204.0h0M469.8 203.8h0M471.3 204.0h0M472.6 204.1h0M473.7 203.9h0M474.8 203.8h0M476.2 204.4h0M477.6 204.2h0M479.0 203.8h0M480.2 203.6h0M481.3 204.0h0M482.6 203.9h0M483.8 203.9h0M484.8 203.9h0M487.0 202.4h0M488.5 203.9h0M489.5 203.7h0M490.8 204.0h0M492.0 202.9h0M493.3 203.7h0M494.4 203.2h0M495.3 202.7h0M496.5 204.3h0M497.9 204.4h0M499.2 204.4h0M500.5 203.6h0M501.9 204.0h0M502.9 203.4h0M504.3 204.9h0M505.7 204.3h0M507.0 204.5h0M508.7 203.5h0M509.8 204.3h0M510.9 203.9h0M512.0 203.0h0M513.0 203.1h0M514.4 202.5h0M515.9 202.1h0M517.0 201.8h0M519.7 201.5h0M520.8 200.9h0M521.8 200.3h0M523.3 199.2h0M524.6 200.9h0M526.0 200.3h0M527.4 200.6h0M529.4 201.0h0M530.6 202.0h0M531.7 202.3h0M534.1 202.3h0M535.2 202.2h0M536.3 202.3h0M537.6 202.3h0M538.8 202.8h0M539.8 204.3h0M541.0 203.5h0M542.3 202.8h0M543.7 203.6h0M549.1 204.0h0M550.5 203.5h0M551.5 203.0h0M552.9 203.6h0M554.2 205.1h0M555.6 204.1h0M556.8 203.6h0M558.2 204.7h0M559.4 204.4h0M560.7 203.8h0M562.9 204.7h0M564.2 204.6h0M565.4 203.9h0M566.6 204.4h0M567.7 203.8h0M568.8 204.0h0M570.3 203.9h0M571.5 204.1h0M572.4 203.7h0M573.6 204.0h0" fill="none" stroke="#F8766D" stroke-width="3.7" stroke-linecap="round"/>
<path d="M351.2 203.6h0M355.4 203.8h0M359.9 202.7h0M362.3 202.6h0M365.4 202.0h0M367.8 201.5h0M370.3 202.2h0M374.0 204.3h0M378.6 204.9h0M380.9 204.7h0M383.4 204.9h0M386.3 204.4h0M387.6 205.5h0M388.8 204.6h0M390.0 204.1h0M391.0 204.5h0M392.3 204.4h0M393.4 204.4h0M395.4 204.3h0M396.5 205.1h0M398.0 204.7h0M399.0 204.4h0M400.1 204.0h0M401.3 204.5h0M402.7 204.5h0M403.7 204.4h0M404.9 204.7h0M406.0 204.7h0M407.3 205.6h0M408.5 204.0h0M409.7 204.7h0M411.1 204.7h0M413.4 204.7h0M414.7 205.0h0M416.1 204.7h0M417.0 204.3h0M418.3 204.1h0M419.3 203.6h0M420.6 204.7h0M421.8 203.9h0M422.9 204.4h0M424.0 202.7h0M425.1 204.4h0M426.2 203.8h0M427.4 203.6h0M428.5 202.4h0M429.9 203.3h0M431.3 204.0h0M432.7 203.7h0M434.0 202.8h0M435.5 203.2h0M436.5 203.6h0M437.7 203.8h0M439.2 203.8h0M440.3 203.9h0M441.4 203.9h0M442.7 203.6h0M443.9 203.3h0M444.9 204.4h0M446.1 203.3h0M447.4 204.3h0M448.5 203.6h0M449.9 204.1h0M451.3 203.7h0M452.4 203.9h0M453.8 203.7h0M455.2 204.3h0M456.3 203.7h0M457.5 204.1h0M458.7 204.1h0M460.1 205.1h0M461.4 204.6h0M462.8 204.0h0M464.0 204.2h0M465.2 203.4h0M466.2 204.8h0M467.5 203.3h0M468.5 203.5h0M469.7 204.1h0M470.9 202.7h0M472.1 204.4h0M473.6 204.2h0M474.9 203.8h0M476.0 203.4h0M477.4 203.5h0M478.5 203.7h0M479.8 203.4h0M481.0 202.8h0M482.1 202.5h0M483.5 203.0h0M484.9 203.5h0M486.2 202.4h0M487.4 204.4h0M488.7 203.5h0M489.9 202.8h0M491.0 202.8h0M492.1 203.6h0M493.6 203.3h0M494.8 202.6h0M495.9 203.4h0M497.1 202.3h0M498.3 203.4h0M499.7 203.8h0M501.4 203.3h0M502.3 203.4h0M503.5 203.4h0M504.7 203.7h0M505.8 203.8h0M506.9 204.8h0M508.3 204.1h0M509.2 203.7h0M510.5 203.5h0M511.7 203.8h0M513.1 205.5h0M514.4 204.2h0M515.5 205.1h0M516.8 203.6h0M517.7 203.8h0M519.7 203.8h0M520.7 204.4h0M521.8 203.8h0M522.7 204.5h0M524.0 204.4h0M525.4 204.4h0M526.5 204.5h0M527.8 203.7h0M528.8 204.8h0M529.8 203.5h0M530.8 203.8h0M531.8 204.1h0M533.2 204.0h0M534.5 204.4h0M535.5 204.6h0M536.5 203.6h0M537.9 205.0h0M539.2 203.7h0M540.4 203.7h0M541.7 203.7h0M543.0 204.2h0M544.1 203.5h0M549.1 204.2h0M550.2 204.6h0M551.4 203.9h0M552.5 204.4h0M553.8 204.4h0M554.9 204.7h0M556.2 204.2h0M557.4 203.9h0M558.4 203.7h0M559.5 203.6h0M560.6 204.0h0M561.9 204.6h0M563.3 204.3h0M564.5 203.7h0M565.6 203.0h0M566.6 204.5h0M567.7 204.5h0M568.8 205.1h0M570.0 204.9h0M571.2 204.4h0M572.6 204.0h0M573.7 203.4h0" fill="none" stroke="#7CAE00" stroke-width="3.7" stroke-linecap="round"/>
<path d="M572.6 204.2h0M573.9 205.5h0M575.2 204.9h0M576.5 205.2h0" fill="none" stroke="#00BFC4" stroke-width="3.7" stroke-linecap="round"/>
<path d="M357.2 205.2h0M359.1 205.5h0M361.1 204.9h0M363.6 204.6h0M365.9 206.2h0M368.0 205.0h0M370.3 204.7h0M372.9 204.9h0M375.4 205.3h0M377.7 204.8h0M380.1 205.1h0M382.6 205.1h0M384.9 205.7h0M386.1 206.0h0M387.4 205.1h0M388.8 204.4h0M389.8 205.0h0M391.1 205.4h0M392.2 205.4h0M393.2 205.2h0M394.4 204.6h0M395.4 205.3h0M396.6 205.1h0M397.6 205.4h0M398.6 204.9h0M399.8 205.3h0M400.8 205.0h0M402.0 204.1h0M402.9 205.3h0M404.2 205.1h0M405.5 204.1h0M406.6 205.2h0M407.9 206.0h0M409.2 204.5h0M410.4 204.2h0M411.6 205.0h0M412.6 205.5h0M413.7 205.2h0M415.1 204.9h0M416.5 205.6h0M417.8 204.9h0M418.9 205.2h0M420.0 205.6h0M421.5 204.9h0M422.5 206.1h0M423.5 205.4h0M424.9 204.8h0M426.2 204.9h0M427.4 205.7h0M428.8 205.0h0M430.2 204.6h0M431.5 205.6h0M432.8 205.9h0M434.1 205.2h0M435.2 205.3h0M436.4 205.2h0M437.4 205.4h0M438.9 204.7h0M440.2 204.8h0M441.3 205.2h0M442.6 205.8h0M443.7 204.3h0M444.7 204.7h0M445.9 204.4h0M447.3 205.4h0M448.6 204.4h0M449.7 205.8h0M450.7 204.8h0M451.7 204.8h0M453.1 204.8h0M454.2 204.5h0M455.6 205.1h0M456.7 205.7h0M458.0 204.6h0M459.4 205.7h0M460.6 204.5h0M461.6 205.2h0M462.6 205.8h0M463.9 204.8h0M464.0 205.1h0M465.4 205.5h0M466.7 204.5h0M468.1 205.3h0M469.5 204.9h0M470.9 205.0h0M471.9 205.6h0M472.9 205.6h0M474.3 205.0h0M475.7 204.8h0M477.1 204.3h0M478.5 203.9h0M479.6 205.6h0M480.9 204.0h0M481.9 204.5h0M483.1 205.7h0M484.1 204.8h0M485.3 205.2h0M486.3 205.0h0M487.7 204.8h0M488.7 204.6h0M489.8 204.6h0M491.0 204.4h0M492.1 204.9h0M493.3 205.5h0M494.4 204.5h0M495.5 205.2h0M496.7 205.0h0M497.9 205.1h0M498.9 205.1h0M500.2 204.7h0M501.4 205.2h0M502.4 205.9h0M503.7 205.6h0M504.8 205.0h0M505.9 205.3h0M507.1 205.1h0M508.5 204.5h0M509.9 205.0h0M510.9 205.1h0M512.2 205.8h0M513.2 205.9h0M514.2 205.6h0M515.4 205.1h0M516.7 205.5h0M517.8 205.4h0M519.1 205.3h0M520.2 204.4h0M521.3 205.4h0M522.5 205.0h0M523.7 205.2h0M525.0 205.1h0M526.2 204.2h0M527.2 205.0h0M528.5 204.8h0M529.8 205.9h0M530.9 205.6h0M532.2 205.8h0M533.4 205.1h0M534.5 203.9h0M535.8 205.3h0M537.2 204.8h0M538.3 205.8h0M539.7 205.0h0M541.1 205.2h0M542.3 204.7h0M543.6 205.3h0M544.9 204.7h0M546.0 204.9h0M547.0 205.1h0M548.1 205.8h0M549.4 205.3h0M550.6 205.3h0M551.8 204.5h0M552.8 205.1h0M553.9 205.2h0M555.3 205.6h0M556.4 205.7h0M557.7 205.8h0M559.1 204.5h0M560.5 204.0h0M561.8 206.0h0M562.9 204.9h0M564.3 205.7h0M565.3 205.7h0M566.6 204.7h0M567.7 204.8h0M569.0 205.5h0M570.2 204.9h0M571.2 204.2h0M572.2 205.5h0M573.5 205.0h0" fill="none" stroke="#C77CFF" stroke-width="3.7" stroke-linecap="round"/></g>
<line x1="343.50" y1="162.30" x2="343.50" y2="205.40" stroke="#404040" stroke-width="1.2"/>
<line x1="384.68" y1="162.30" x2="384.68" y2="205.40" stroke="#404040" stroke-width="1.2"/>
<line x1="425.86" y1="162.30" x2="425.86" y2="205.40" stroke="#404040" stroke-width="1.2"/>
<line x1="467.04" y1="162.30" x2="467.04" y2="205.40" stroke="#404040" stroke-width="1.2"/>
<line x1="508.22" y1="162.30" x2="508.22" y2="205.40" stroke="#404040" stroke-width="1.2"/>
<line x1="549.40" y1="162.30" x2="549.40" y2="205.40" stroke="#404040" stroke-width="1.2"/>
<rect x="340.30" y="162.30" width="247.20" height="43.10" fill="none" stroke="#999" stroke-width="0.9"/>
<rect x="340.30" y="144.80" width="247.20" height="17.50" fill="#d9d9d9" stroke="#b0b0b0" stroke-width="1.4"/>
<line x1="340.30" y1="162.30" x2="587.50" y2="162.30" stroke="#444" stroke-width="1"/>
<text x="463.90" y="157.90" text-anchor="middle" font-size="11.5" fill="#1a1a1a" stroke="#1a1a1a" stroke-width="0.12" style="font-family:'Liberation Sans',sans-serif">Summer cohort</text>
<line x1="337.70" y1="205.40" x2="340.30" y2="205.40" stroke="#444" stroke-width="0.8"/>
<text x="335.10" y="209.40" text-anchor="end" font-size="11.5" fill="#222" stroke="#222" stroke-width="0.12" style="font-family:'Liberation Sans',sans-serif">0</text>
<line x1="337.70" y1="195.85" x2="340.30" y2="195.85" stroke="#444" stroke-width="0.8"/>
<text x="335.10" y="199.85" text-anchor="end" font-size="11.5" fill="#222" stroke="#222" stroke-width="0.12" style="font-family:'Liberation Sans',sans-serif">10</text>
<line x1="337.70" y1="186.30" x2="340.30" y2="186.30" stroke="#444" stroke-width="0.8"/>
<text x="335.10" y="190.30" text-anchor="end" font-size="11.5" fill="#222" stroke="#222" stroke-width="0.12" style="font-family:'Liberation Sans',sans-serif">20</text>
<line x1="337.70" y1="176.75" x2="340.30" y2="176.75" stroke="#444" stroke-width="0.8"/>
<text x="335.10" y="180.75" text-anchor="end" font-size="11.5" fill="#222" stroke="#222" stroke-width="0.12" style="font-family:'Liberation Sans',sans-serif">30</text>
<line x1="337.70" y1="167.20" x2="340.30" y2="167.20" stroke="#444" stroke-width="0.8"/>
<text x="335.10" y="171.20" text-anchor="end" font-size="11.5" fill="#222" stroke="#222" stroke-width="0.12" style="font-family:'Liberation Sans',sans-serif">40</text>
<line x1="343.50" y1="227.50" x2="343.50" y2="270.60" stroke="#e3e3e3" stroke-width="0.9"/><line x1="353.80" y1="227.50" x2="353.80" y2="270.60" stroke="#e3e3e3" stroke-width="0.7"/><line x1="364.09" y1="227.50" x2="364.09" y2="270.60" stroke="#e3e3e3" stroke-width="0.9"/><line x1="374.38" y1="227.50" x2="374.38" y2="270.60" stroke="#e3e3e3" stroke-width="0.7"/><line x1="384.68" y1="227.50" x2="384.68" y2="270.60" stroke="#e3e3e3" stroke-width="0.9"/><line x1="394.98" y1="227.50" x2="394.98" y2="270.60" stroke="#e3e3e3" stroke-width="0.7"/><line x1="405.27" y1="227.50" x2="405.27" y2="270.60" stroke="#e3e3e3" stroke-width="0.9"/><line x1="415.56" y1="227.50" x2="415.56" y2="270.60" stroke="#e3e3e3" stroke-width="0.7"/><line x1="425.86" y1="227.50" x2="425.86" y2="270.60" stroke="#e3e3e3" stroke-width="0.9"/><line x1="436.15" y1="227.50" x2="436.15" y2="270.60" stroke="#e3e3e3" stroke-width="0.7"/><line x1="446.45" y1="227.50" x2="446.45" y2="270.60" stroke="#e3e3e3" stroke-width="0.9"/><line x1="456.75" y1="227.50" x2="456.75" y2="270.60" stroke="#e3e3e3" stroke-width="0.7"/><line x1="467.04" y1="227.50" x2="467.04" y2="270.60" stroke="#e3e3e3" stroke-width="0.9"/><line x1="477.34" y1="227.50" x2="477.34" y2="270.60" stroke="#e3e3e3" stroke-width="0.7"/><line x1="487.63" y1="227.50" x2="487.63" y2="270.60" stroke="#e3e3e3" stroke-width="0.9"/><line x1="497.93" y1="227.50" x2="497.93" y2="270.60" stroke="#e3e3e3" stroke-width="0.7"/><line x1="508.22" y1="227.50" x2="508.22" y2="270.60" stroke="#e3e3e3" stroke-width="0.9"/><line x1="518.51" y1="227.50" x2="518.51" y2="270.60" stroke="#e3e3e3" stroke-width="0.7"/><line x1="528.81" y1="227.50" x2="528.81" y2="270.60" stroke="#e3e3e3" stroke-width="0.9"/><line x1="539.11" y1="227.50" x2="539.11" y2="270.60" stroke="#e3e3e3" stroke-width="0.7"/><line x1="549.40" y1="227.50" x2="549.40" y2="270.60" stroke="#e3e3e3" stroke-width="0.9"/><line x1="559.69" y1="227.50" x2="559.69" y2="270.60" stroke="#e3e3e3" stroke-width="0.7"/><line x1="569.99" y1="227.50" x2="569.99" y2="270.60" stroke="#e3e3e3" stroke-width="0.9"/><line x1="580.28" y1="227.50" x2="580.28" y2="270.60" stroke="#e3e3e3" stroke-width="0.7"/><line x1="340.30" y1="265.83" x2="587.50" y2="265.83" stroke="#e3e3e3" stroke-width="0.7"/><line x1="340.30" y1="261.05" x2="587.50" y2="261.05" stroke="#e3e3e3" stroke-width="0.9"/><line x1="340.30" y1="256.28" x2="587.50" y2="256.28" stroke="#e3e3e3" stroke-width="0.7"/><line x1="340.30" y1="251.50" x2="587.50" y2="251.50" stroke="#e3e3e3" stroke-width="0.9"/><line x1="340.30" y1="246.73" x2="587.50" y2="246.73" stroke="#e3e3e3" stroke-width="0.7"/><line x1="340.30" y1="241.95" x2="587.50" y2="241.95" stroke="#e3e3e3" stroke-width="0.9"/><line x1="340.30" y1="237.18" x2="587.50" y2="237.18" stroke="#e3e3e3" stroke-width="0.7"/><line x1="340.30" y1="232.40" x2="587.50" y2="232.40" stroke="#e3e3e3" stroke-width="0.9"/><line x1="340.30" y1="227.63" x2="587.50" y2="227.63" stroke="#e3e3e3" stroke-width="0.7"/>
<clipPath id="cp13"><rect x="340.30" y="227.50" width="247.20" height="43.10"/></clipPath><g clip-path="url(#cp13)"><path d="M350.9 269.9h0M352.9 270.4h0M355.3 269.9h0M357.2 270.3h0M360.6 269.8h0M362.7 269.3h0M365.2 269.9h0M369.3 269.2h0M371.6 269.5h0M374.1 269.4h0M378.6 269.6h0M380.6 269.2h0M382.8 270.2h0M384.8 270.0h0M386.3 269.8h0M387.5 269.4h0M388.7 269.8h0M390.1 269.9h0M391.2 270.2h0M392.6 269.4h0M393.7 269.6h0M395.6 269.1h0M396.6 269.6h0M397.8 269.6h0M398.9 269.0h0M400.3 270.6h0M401.4 270.5h0M402.7 269.9h0M403.8 270.3h0M405.1 269.7h0M406.2 268.9h0M407.2 270.1h0M408.5 269.6h0M409.7 269.8h0M410.8 270.0h0M412.1 268.9h0M413.6 270.2h0M415.1 270.4h0M416.3 269.9h0M417.3 270.1h0M418.5 269.7h0M419.6 269.5h0M420.7 270.3h0M421.7 269.5h0M422.7 269.3h0M424.2 270.2h0M425.2 270.1h0M426.4 268.8h0M427.4 270.0h0M428.6 269.6h0M429.8 269.6h0M431.9 270.0h0M432.9 269.3h0M434.0 270.1h0M435.2 269.4h0M436.4 270.6h0M437.7 270.1h0M438.7 269.0h0M439.8 270.4h0M441.0 269.5h0M442.2 270.4h0M443.3 270.6h0M444.8 269.5h0M445.9 269.4h0M447.2 270.0h0M448.4 269.8h0M449.7 269.6h0M451.1 269.0h0M452.3 270.7h0M453.5 268.7h0M454.7 269.4h0M456.1 269.1h0M457.1 269.4h0M458.5 269.2h0M459.6 269.1h0M460.9 269.2h0M462.4 269.5h0M463.7 269.1h0M464.0 269.5h0M465.1 268.7h0M466.6 270.2h0M467.7 269.1h0M468.9 270.5h0M470.3 269.8h0M471.5 268.7h0M472.5 269.7h0M473.7 269.5h0M474.8 270.2h0M476.0 269.9h0M477.1 269.2h0M478.0 269.8h0M479.2 269.0h0M480.2 269.5h0M481.6 269.5h0M483.2 268.9h0M484.3 269.6h0M485.6 268.5h0M486.6 268.3h0M487.7 269.8h0M488.7 269.6h0M489.7 269.5h0M491.0 269.0h0M492.4 269.4h0M493.6 269.2h0M495.0 268.8h0M496.1 268.7h0M497.5 268.8h0M498.7 269.1h0M499.9 269.5h0M501.5 269.9h0M502.4 268.5h0M503.5 269.6h0M504.7 268.9h0M505.8 268.6h0M506.8 269.1h0M508.0 268.9h0M509.2 269.1h0M510.6 268.9h0M512.4 269.4h0M513.6 269.8h0M514.9 268.8h0M516.3 268.4h0M517.5 268.1h0M518.5 269.0h0M519.9 268.2h0M520.9 269.6h0M523.2 268.6h0M524.2 269.0h0M525.5 268.3h0M526.6 267.5h0M527.5 268.0h0M528.8 267.9h0M530.1 268.8h0M531.3 267.5h0M532.7 267.3h0M534.1 267.5h0M535.4 267.0h0M536.5 266.8h0M537.9 266.8h0M539.5 267.4h0M540.9 267.9h0M542.0 267.5h0M543.2 267.2h0M544.7 268.1h0M546.2 268.6h0M548.3 269.2h0M549.7 268.8h0M550.8 269.4h0M551.9 269.5h0M553.3 267.9h0M554.4 269.6h0M555.7 269.2h0M556.9 270.6h0M559.2 268.8h0M560.4 269.7h0M561.7 269.4h0M562.8 269.5h0M564.2 269.9h0M565.5 269.7h0M566.5 269.7h0M567.9 268.9h0M569.3 269.7h0M570.4 268.1h0M571.5 269.9h0M572.7 269.2h0M574.0 269.2h0M505.3 264.8h0" fill="none" stroke="#F8766D" stroke-width="3.7" stroke-linecap="round"/>
<path d="M350.9 269.9h0M353.5 269.1h0M357.9 269.8h0M361.9 269.9h0M363.7 270.5h0M366.3 269.6h0M368.8 270.0h0M370.7 270.6h0M373.4 270.6h0M375.7 270.9h0M378.4 269.7h0M380.6 270.1h0M383.1 269.5h0M385.9 270.1h0M387.2 269.5h0M388.4 269.7h0M389.8 269.9h0M391.2 269.6h0M392.2 270.0h0M393.5 270.6h0M395.4 270.1h0M396.7 270.1h0M398.0 270.9h0M399.0 270.6h0M400.1 269.7h0M401.2 269.5h0M402.2 270.0h0M403.2 270.3h0M404.4 271.0h0M405.7 270.2h0M406.9 269.8h0M408.0 269.7h0M409.0 269.8h0M410.3 271.1h0M411.6 271.3h0M413.7 270.4h0M414.9 271.0h0M416.1 270.0h0M417.4 269.5h0M418.4 271.3h0M419.6 270.0h0M421.0 270.7h0M422.1 270.2h0M423.1 270.0h0M424.2 270.3h0M425.5 270.9h0M426.7 270.3h0M428.0 270.2h0M429.0 270.8h0M430.0 270.6h0M431.9 269.9h0M433.1 270.0h0M434.2 270.2h0M435.6 270.7h0M437.0 269.4h0M438.1 270.5h0M439.3 270.3h0M440.6 269.7h0M441.6 270.8h0M442.9 270.0h0M444.2 270.4h0M445.3 270.5h0M446.4 269.5h0M447.6 270.3h0M448.9 270.5h0M450.0 269.8h0M451.1 270.1h0M452.2 270.3h0M453.2 269.7h0M454.6 270.5h0M455.6 270.6h0M456.8 270.3h0M458.2 270.1h0M459.5 270.5h0M460.7 269.8h0M461.7 270.2h0M462.8 271.3h0M464.0 270.6h0M465.4 270.9h0M466.5 270.5h0M467.9 270.5h0M468.9 271.0h0M470.1 270.3h0M471.2 270.5h0M472.4 271.0h0M473.8 271.4h0M475.0 271.1h0M476.1 271.1h0M477.1 270.5h0M478.2 270.0h0M479.2 270.4h0M480.4 269.5h0M481.6 270.7h0M482.8 271.2h0M484.0 270.1h0M484.9 270.2h0M486.0 270.4h0M487.2 270.8h0M488.4 269.9h0M489.7 269.9h0M491.0 271.4h0M492.4 271.3h0M493.7 270.9h0M494.8 270.1h0M495.9 269.8h0M497.2 270.7h0M498.6 269.4h0M499.7 270.5h0M500.7 270.1h0M502.0 270.9h0M503.1 271.4h0M504.1 270.7h0M505.5 270.4h0M506.7 270.5h0M508.1 270.8h0M509.0 271.9h0M510.1 270.0h0M511.3 270.2h0M512.7 270.7h0M513.9 270.8h0M515.1 270.2h0M516.5 270.9h0M517.6 270.4h0M518.7 270.0h0M520.1 270.6h0M521.1 271.0h0M522.4 270.5h0M523.4 270.2h0M524.7 270.3h0M525.9 271.2h0M526.9 271.5h0M528.3 270.9h0M529.3 270.7h0M530.6 271.1h0M531.7 270.8h0M533.1 270.6h0M534.1 269.5h0M535.4 269.8h0M536.8 269.9h0M538.2 271.6h0M539.3 270.8h0M540.4 269.5h0M541.5 270.7h0M542.9 270.0h0M544.1 270.3h0M545.2 270.7h0M546.6 270.5h0M547.9 271.7h0M549.1 270.6h0M550.2 270.6h0M551.5 271.9h0M552.6 270.3h0M554.0 270.2h0M555.4 270.8h0M556.8 270.4h0M557.8 270.2h0M558.8 270.6h0M560.1 270.9h0M561.2 270.8h0M562.3 271.6h0M563.3 271.3h0M564.3 270.7h0M565.5 271.2h0M566.7 270.7h0M568.0 270.8h0M569.4 271.6h0M570.7 271.8h0M571.9 270.1h0M573.1 269.9h0M574.1 271.1h0" fill="none" stroke="#7CAE00" stroke-width="3.7" stroke-linecap="round"/>
<path d="M454.0 270.8h0M455.2 269.3h0M456.3 270.4h0M457.3 270.0h0M458.3 271.5h0M459.5 270.0h0M460.6 270.2h0M461.9 272.1h0M463.1 270.4h0M464.0 270.8h0M465.3 270.7h0M466.6 270.1h0M467.7 270.7h0M468.8 270.3h0M469.8 270.5h0M470.9 270.7h0M472.0 270.4h0M473.4 271.2h0M474.6 270.3h0M475.8 270.6h0M477.2 270.2h0M478.3 270.7h0M479.4 270.8h0M480.5 271.0h0M481.4 270.2h0M482.5 271.1h0M483.8 270.1h0M485.0 271.0h0M486.3 270.7h0M487.5 270.6h0M488.6 270.8h0M489.7 270.3h0M490.6 271.1h0M491.7 270.8h0M493.1 271.3h0M494.3 271.0h0M495.6 271.1h0M496.7 269.5h0M497.7 270.8h0M498.8 270.8h0M500.0 271.0h0M501.1 270.7h0M502.5 270.4h0M503.5 270.5h0M504.5 270.9h0M505.5 271.5h0M506.7 270.8h0M507.8 270.8h0M509.0 270.2h0M510.2 270.3h0M511.4 270.4h0M512.6 271.4h0M514.0 270.1h0M515.3 270.7h0M516.5 270.1h0M517.7 270.8h0M519.2 270.6h0M520.6 271.3h0M521.9 270.4h0M523.0 270.7h0M524.1 270.3h0M525.2 271.0h0M526.4 270.6h0M527.7 270.7h0M529.0 270.9h0M530.0 271.2h0M531.1 270.6h0M532.4 270.3h0M533.6 271.0h0M534.8 270.8h0M536.2 270.7h0M537.3 270.3h0M538.4 270.3h0M539.5 270.1h0M540.5 270.7h0M541.8 271.6h0M543.0 271.2h0M544.0 270.5h0M545.0 271.4h0M546.0 270.3h0M547.1 270.3h0M548.1 271.2h0M549.5 270.4h0M550.5 270.7h0M551.7 271.5h0M553.1 270.5h0M554.5 270.7h0M555.6 270.7h0M556.8 270.5h0M557.8 271.0h0M559.2 270.6h0M560.4 270.4h0M561.7 271.2h0M562.8 271.4h0M564.2 271.2h0M565.3 269.6h0M566.5 270.6h0M568.0 271.2h0M569.4 271.9h0M570.6 270.8h0M572.2 269.6h0M573.5 270.9h0M575.6 270.0h0" fill="none" stroke="#00BFC4" stroke-width="3.7" stroke-linecap="round"/>
<path d="M357.2 268.8h0M359.2 268.6h0M361.2 270.5h0M365.8 268.4h0M368.4 269.3h0M370.9 268.5h0M374.7 267.8h0M376.8 268.5h0M380.7 268.1h0M383.2 266.9h0M385.7 268.8h0M386.8 267.6h0M388.0 268.5h0M390.2 268.6h0M391.5 268.1h0M392.7 268.9h0M393.8 269.4h0M395.1 269.2h0M396.3 268.9h0M397.6 267.9h0M399.4 269.9h0M400.5 269.1h0M401.9 268.7h0M403.1 268.5h0M404.1 268.6h0M405.2 268.2h0M406.3 268.9h0M408.3 267.8h0M409.3 268.6h0M410.7 267.6h0M411.9 268.9h0M413.1 267.9h0M414.4 267.5h0M415.5 267.6h0M417.4 268.6h0M418.6 267.8h0M419.7 267.9h0M421.1 267.5h0M422.5 268.1h0M424.6 268.7h0M425.8 268.4h0M427.0 268.6h0M428.4 268.4h0M429.7 269.4h0M431.0 268.3h0M432.2 268.4h0M433.5 269.2h0M435.5 268.5h0M436.8 268.2h0M437.8 269.2h0M438.9 268.9h0M440.2 268.1h0M441.3 268.1h0M442.6 268.5h0M444.3 268.1h0M445.4 268.5h0M446.7 268.1h0M447.8 268.3h0M449.0 268.5h0M450.2 267.9h0M451.6 267.7h0M453.3 267.1h0M454.3 267.0h0M455.3 267.8h0M456.5 267.9h0M457.7 268.2h0M458.9 267.6h0M460.1 267.0h0M461.1 267.6h0M462.4 268.1h0M463.5 268.5h0M464.0 267.4h0M465.2 267.3h0M466.5 267.4h0M467.8 268.2h0M469.0 267.3h0M470.0 268.2h0M471.2 268.0h0M472.5 268.4h0M473.8 267.5h0M474.9 268.3h0M476.3 268.4h0M477.6 268.5h0M479.6 268.0h0M480.7 268.5h0M482.0 268.4h0M483.3 267.7h0M484.5 268.4h0M485.7 268.3h0M487.1 267.9h0M488.1 267.2h0M489.5 267.8h0M490.5 267.6h0M491.8 267.2h0M494.2 266.9h0M495.3 267.7h0M496.4 266.7h0M497.7 266.4h0M498.8 267.2h0M499.9 266.7h0M501.6 267.3h0M502.7 266.2h0M504.0 266.9h0M505.0 268.4h0M506.8 267.2h0M508.1 267.6h0M509.3 267.7h0M510.5 266.8h0M512.4 267.8h0M513.9 267.6h0M514.8 269.2h0M516.2 268.8h0M517.3 268.7h0M519.6 268.5h0M520.6 268.1h0M522.0 268.4h0M523.1 268.4h0M524.5 268.4h0M525.7 268.9h0M527.1 268.6h0M528.3 268.0h0M529.3 268.0h0M530.3 269.1h0M531.3 268.8h0M532.3 268.4h0M533.3 269.0h0M534.6 268.9h0M535.8 268.7h0M537.6 269.4h0M538.7 268.8h0M540.1 268.8h0M541.1 268.5h0M542.3 268.7h0M543.4 268.3h0M544.7 268.1h0M546.6 268.4h0M547.7 268.8h0M548.9 269.1h0M550.3 269.0h0M551.4 268.7h0M552.7 268.9h0M553.9 268.9h0M555.5 269.7h0M556.9 269.6h0M558.2 269.4h0M559.2 269.5h0M560.6 269.0h0M561.8 268.6h0M562.8 268.8h0M564.0 269.2h0M565.3 268.3h0M566.4 268.7h0M567.4 269.5h0M568.7 269.7h0M569.8 269.6h0M570.8 269.8h0M572.1 269.0h0M573.4 268.2h0M574.4 268.8h0" fill="none" stroke="#C77CFF" stroke-width="3.7" stroke-linecap="round"/></g>
<line x1="343.50" y1="227.50" x2="343.50" y2="270.60" stroke="#404040" stroke-width="1.2"/>
<line x1="384.68" y1="227.50" x2="384.68" y2="270.60" stroke="#404040" stroke-width="1.2"/>
<line x1="425.86" y1="227.50" x2="425.86" y2="270.60" stroke="#404040" stroke-width="1.2"/>
<line x1="467.04" y1="227.50" x2="467.04" y2="270.60" stroke="#404040" stroke-width="1.2"/>
<line x1="508.22" y1="227.50" x2="508.22" y2="270.60" stroke="#404040" stroke-width="1.2"/>
<line x1="549.40" y1="227.50" x2="549.40" y2="270.60" stroke="#404040" stroke-width="1.2"/>
<rect x="340.30" y="227.50" width="247.20" height="43.10" fill="none" stroke="#999" stroke-width="0.9"/>
<rect x="340.30" y="210.30" width="247.20" height="17.20" fill="#d9d9d9" stroke="#b0b0b0" stroke-width="1.4"/>
<line x1="340.30" y1="227.50" x2="587.50" y2="227.50" stroke="#444" stroke-width="1"/>
<text x="463.90" y="223.40" text-anchor="middle" font-size="11.5" fill="#1a1a1a" stroke="#1a1a1a" stroke-width="0.12" style="font-family:'Liberation Sans',sans-serif">Autumn cohort</text>
<line x1="337.70" y1="270.60" x2="340.30" y2="270.60" stroke="#444" stroke-width="0.8"/>
<text x="335.10" y="274.60" text-anchor="end" font-size="11.5" fill="#222" stroke="#222" stroke-width="0.12" style="font-family:'Liberation Sans',sans-serif">0</text>
<line x1="337.70" y1="261.05" x2="340.30" y2="261.05" stroke="#444" stroke-width="0.8"/>
<text x="335.10" y="265.05" text-anchor="end" font-size="11.5" fill="#222" stroke="#222" stroke-width="0.12" style="font-family:'Liberation Sans',sans-serif">10</text>
<line x1="337.70" y1="251.50" x2="340.30" y2="251.50" stroke="#444" stroke-width="0.8"/>
<text x="335.10" y="255.50" text-anchor="end" font-size="11.5" fill="#222" stroke="#222" stroke-width="0.12" style="font-family:'Liberation Sans',sans-serif">20</text>
<line x1="337.70" y1="241.95" x2="340.30" y2="241.95" stroke="#444" stroke-width="0.8"/>
<text x="335.10" y="245.95" text-anchor="end" font-size="11.5" fill="#222" stroke="#222" stroke-width="0.12" style="font-family:'Liberation Sans',sans-serif">30</text>
<line x1="337.70" y1="232.40" x2="340.30" y2="232.40" stroke="#444" stroke-width="0.8"/>
<text x="335.10" y="236.40" text-anchor="end" font-size="11.5" fill="#222" stroke="#222" stroke-width="0.12" style="font-family:'Liberation Sans',sans-serif">40</text>
<line x1="343.50" y1="293.30" x2="343.50" y2="336.30" stroke="#e3e3e3" stroke-width="0.9"/><line x1="353.80" y1="293.30" x2="353.80" y2="336.30" stroke="#e3e3e3" stroke-width="0.7"/><line x1="364.09" y1="293.30" x2="364.09" y2="336.30" stroke="#e3e3e3" stroke-width="0.9"/><line x1="374.38" y1="293.30" x2="374.38" y2="336.30" stroke="#e3e3e3" stroke-width="0.7"/><line x1="384.68" y1="293.30" x2="384.68" y2="336.30" stroke="#e3e3e3" stroke-width="0.9"/><line x1="394.98" y1="293.30" x2="394.98" y2="336.30" stroke="#e3e3e3" stroke-width="0.7"/><line x1="405.27" y1="293.30" x2="405.27" y2="336.30" stroke="#e3e3e3" stroke-width="0.9"/><line x1="415.56" y1="293.30" x2="415.56" y2="336.30" stroke="#e3e3e3" stroke-width="0.7"/><line x1="425.86" y1="293.30" x2="425.86" y2="336.30" stroke="#e3e3e3" stroke-width="0.9"/><line x1="436.15" y1="293.30" x2="436.15" y2="336.30" stroke="#e3e3e3" stroke-width="0.7"/><line x1="446.45" y1="293.30" x2="446.45" y2="336.30" stroke="#e3e3e3" stroke-width="0.9"/><line x1="456.75" y1="293.30" x2="456.75" y2="336.30" stroke="#e3e3e3" stroke-width="0.7"/><line x1="467.04" y1="293.30" x2="467.04" y2="336.30" stroke="#e3e3e3" stroke-width="0.9"/><line x1="477.34" y1="293.30" x2="477.34" y2="336.30" stroke="#e3e3e3" stroke-width="0.7"/><line x1="487.63" y1="293.30" x2="487.63" y2="336.30" stroke="#e3e3e3" stroke-width="0.9"/><line x1="497.93" y1="293.30" x2="497.93" y2="336.30" stroke="#e3e3e3" stroke-width="0.7"/><line x1="508.22" y1="293.30" x2="508.22" y2="336.30" stroke="#e3e3e3" stroke-width="0.9"/><line x1="518.51" y1="293.30" x2="518.51" y2="336.30" stroke="#e3e3e3" stroke-width="0.7"/><line x1="528.81" y1="293.30" x2="528.81" y2="336.30" stroke="#e3e3e3" stroke-width="0.9"/><line x1="539.11" y1="293.30" x2="539.11" y2="336.30" stroke="#e3e3e3" stroke-width="0.7"/><line x1="549.40" y1="293.30" x2="549.40" y2="336.30" stroke="#e3e3e3" stroke-width="0.9"/><line x1="559.69" y1="293.30" x2="559.69" y2="336.30" stroke="#e3e3e3" stroke-width="0.7"/><line x1="569.99" y1="293.30" x2="569.99" y2="336.30" stroke="#e3e3e3" stroke-width="0.9"/><line x1="580.28" y1="293.30" x2="580.28" y2="336.30" stroke="#e3e3e3" stroke-width="0.7"/><line x1="340.30" y1="331.53" x2="587.50" y2="331.53" stroke="#e3e3e3" stroke-width="0.7"/><line x1="340.30" y1="326.75" x2="587.50" y2="326.75" stroke="#e3e3e3" stroke-width="0.9"/><line x1="340.30" y1="321.98" x2="587.50" y2="321.98" stroke="#e3e3e3" stroke-width="0.7"/><line x1="340.30" y1="317.20" x2="587.50" y2="317.20" stroke="#e3e3e3" stroke-width="0.9"/><line x1="340.30" y1="312.43" x2="587.50" y2="312.43" stroke="#e3e3e3" stroke-width="0.7"/><line x1="340.30" y1="307.65" x2="587.50" y2="307.65" stroke="#e3e3e3" stroke-width="0.9"/><line x1="340.30" y1="302.88" x2="587.50" y2="302.88" stroke="#e3e3e3" stroke-width="0.7"/><line x1="340.30" y1="298.10" x2="587.50" y2="298.10" stroke="#e3e3e3" stroke-width="0.9"/><line x1="340.30" y1="293.32" x2="587.50" y2="293.32" stroke="#e3e3e3" stroke-width="0.7"/>
<clipPath id="cp14"><rect x="340.30" y="293.30" width="247.20" height="43.00"/></clipPath><g clip-path="url(#cp14)"><path d="M359.9 330.1h0M362.0 330.1h0M364.6 330.8h0M366.7 331.3h0M369.4 332.8h0M371.6 331.9h0M374.1 331.8h0M376.1 332.3h0M378.8 331.6h0M380.7 332.1h0M383.3 331.9h0M386.9 329.8h0M388.2 330.0h0M389.3 330.8h0M390.3 329.8h0M391.5 330.3h0M392.6 330.2h0M393.8 331.0h0M395.5 330.7h0M396.9 330.8h0M398.2 330.7h0M399.2 330.7h0M400.4 330.9h0M401.9 331.0h0M403.3 330.4h0M404.5 331.4h0M406.6 331.0h0M407.6 331.0h0M408.8 330.2h0M409.9 329.8h0M411.1 330.7h0M412.5 329.7h0M413.6 330.5h0M414.9 329.9h0M416.0 330.2h0M417.4 330.4h0M418.7 330.5h0M420.8 330.8h0M422.0 330.2h0M423.1 330.0h0M424.4 330.6h0M425.8 331.4h0M426.8 330.7h0M428.3 331.4h0M429.4 331.0h0M430.4 331.0h0M431.4 331.8h0M432.8 330.9h0M433.8 331.4h0M435.0 331.0h0M436.0 331.9h0M437.1 331.3h0M439.1 331.5h0M440.4 331.9h0M441.4 331.9h0M442.4 332.0h0M443.4 331.4h0M444.5 332.1h0M445.6 332.0h0M446.8 331.4h0M448.1 330.7h0M450.0 331.0h0M451.3 330.9h0M452.3 330.7h0M453.5 331.0h0M454.8 330.9h0M455.7 330.4h0M456.9 331.3h0M458.2 330.4h0M459.5 329.9h0M460.9 329.7h0M462.2 330.6h0M463.3 330.2h0M464.0 330.5h0M465.2 331.1h0M466.4 330.0h0M467.4 330.6h0M468.6 330.6h0M469.7 330.3h0M471.0 331.4h0M472.2 332.1h0M474.4 331.5h0M475.7 330.4h0M477.0 330.2h0M478.3 331.1h0M479.6 331.0h0M481.0 330.6h0M483.5 331.2h0M484.8 331.3h0M485.8 331.4h0M487.2 331.2h0M488.3 332.4h0M489.4 331.2h0M490.8 331.7h0M492.3 331.3h0M493.4 331.4h0M494.8 331.5h0M496.2 330.6h0M497.6 331.4h0M498.8 330.2h0M500.0 330.5h0M501.5 329.9h0M502.5 331.1h0M503.7 329.8h0M505.0 330.0h0M507.1 330.8h0M508.1 330.9h0M509.5 330.0h0M510.6 330.2h0M512.4 330.0h0M513.7 330.5h0M514.8 330.5h0M516.0 332.3h0M517.0 330.9h0M518.1 331.2h0M519.6 331.9h0M520.7 330.0h0M521.7 331.6h0M522.9 330.1h0M525.0 330.8h0M526.1 330.4h0M527.4 329.7h0M528.4 330.5h0M530.5 329.5h0M531.5 329.8h0M532.5 329.4h0M533.9 329.7h0M534.9 329.6h0M536.2 330.4h0M537.5 330.4h0M538.8 330.2h0M539.9 332.0h0M541.2 330.6h0M542.5 330.1h0M543.5 331.5h0M544.7 330.0h0M545.7 330.9h0M546.8 332.2h0M547.9 330.7h0M550.4 330.3h0M551.9 331.0h0M553.2 330.0h0M554.3 331.5h0M555.2 330.8h0M556.7 331.2h0M558.0 331.2h0M559.4 331.8h0M560.7 331.5h0M561.7 331.4h0M562.9 331.5h0M564.0 331.4h0M565.3 330.7h0M566.8 331.5h0M568.1 331.9h0M569.3 331.9h0M570.5 331.4h0M571.6 331.6h0M572.8 331.4h0M574.1 332.0h0M553.6 326.5h0" fill="none" stroke="#F8766D" stroke-width="3.7" stroke-linecap="round"/>
<path d="M350.9 331.6h0M356.3 331.6h0M359.9 331.9h0M361.9 331.8h0M364.5 331.8h0M367.1 331.6h0M369.5 332.7h0M371.8 332.3h0M373.9 332.4h0M376.2 331.9h0M378.2 331.9h0M380.1 331.6h0M382.1 331.4h0M386.1 331.1h0M387.4 332.0h0M388.6 330.8h0M389.8 331.9h0M390.8 332.0h0M391.8 331.3h0M393.1 331.9h0M395.4 332.3h0M396.4 330.9h0M397.7 331.5h0M398.8 331.6h0M399.8 331.5h0M401.2 331.3h0M402.5 331.4h0M403.5 331.1h0M404.9 330.9h0M406.4 331.6h0M407.5 331.4h0M408.8 331.5h0M410.2 331.7h0M411.4 331.5h0M412.5 330.8h0M413.6 331.5h0M414.6 330.7h0M415.6 332.0h0M417.4 331.1h0M418.8 331.3h0M420.1 331.8h0M421.3 331.4h0M422.5 331.7h0M423.7 330.7h0M424.9 331.6h0M425.9 330.9h0M428.0 332.3h0M429.2 331.9h0M430.5 330.5h0M431.6 331.2h0M433.0 330.5h0M434.3 331.2h0M435.7 331.5h0M436.8 330.8h0M438.9 331.0h0M440.0 331.4h0M441.1 331.0h0M442.4 330.5h0M443.5 331.7h0M444.8 331.6h0M446.1 330.9h0M447.3 330.9h0M449.9 330.6h0M451.0 330.8h0M452.0 331.2h0M453.1 331.0h0M454.2 330.8h0M455.6 330.3h0M457.0 330.9h0M458.0 331.3h0M459.1 332.0h0M460.4 331.7h0M461.6 331.9h0M462.6 331.2h0M464.0 330.9h0M464.0 331.2h0M465.2 331.6h0M466.3 330.6h0M467.4 331.0h0M468.4 330.9h0M469.6 331.4h0M470.7 331.6h0M472.0 331.7h0M473.3 331.3h0M474.5 330.9h0M475.6 332.2h0M476.7 331.4h0M477.8 330.7h0M479.0 332.8h0M480.3 332.3h0M481.4 332.4h0M483.2 331.3h0M484.4 332.3h0M485.7 332.4h0M486.9 332.6h0M488.2 331.5h0M489.6 332.0h0M490.9 331.6h0M492.2 331.1h0M493.6 331.6h0M494.7 330.3h0M495.9 332.3h0M497.2 331.0h0M498.4 330.5h0M499.5 332.2h0M501.2 331.4h0M502.4 332.1h0M503.6 332.1h0M504.8 331.7h0M505.8 330.6h0M507.0 331.8h0M508.4 332.1h0M509.4 331.3h0M510.4 330.9h0M511.5 331.3h0M512.6 331.8h0M513.7 331.2h0M514.8 331.2h0M516.1 331.7h0M517.5 332.7h0M519.5 332.3h0M520.6 332.1h0M521.6 331.3h0M522.8 331.9h0M523.8 331.9h0M524.9 331.8h0M525.9 331.8h0M527.3 330.4h0M528.5 331.3h0M530.0 331.5h0M530.9 331.2h0M532.0 331.8h0M533.1 330.9h0M534.1 330.9h0M535.2 330.7h0M537.6 331.7h0M538.9 332.0h0M540.3 331.8h0M541.4 332.1h0M542.4 331.9h0M543.5 332.3h0M544.8 331.9h0M546.5 332.4h0M547.5 332.2h0M548.8 332.3h0M550.3 332.8h0M551.4 331.9h0M552.5 332.0h0M553.5 332.6h0M554.6 332.6h0M555.7 332.7h0M556.7 332.2h0M557.9 332.3h0M559.2 331.7h0M560.5 332.6h0M561.7 332.7h0M562.9 332.8h0M564.0 332.9h0M565.4 332.8h0M566.6 333.2h0M567.6 331.8h0M568.7 332.9h0M570.0 332.4h0M571.4 332.1h0M572.8 332.7h0M574.2 333.3h0" fill="none" stroke="#7CAE00" stroke-width="3.7" stroke-linecap="round"/>
<path d="M455.9 335.9h0M456.8 335.5h0M457.8 336.4h0M459.2 335.6h0M460.6 336.0h0M461.7 337.2h0M462.7 335.7h0M464.0 335.9h0M465.1 337.5h0M466.3 336.3h0M467.7 335.1h0M468.8 336.0h0M470.3 336.5h0M471.5 336.1h0M472.7 335.7h0M474.1 335.1h0M475.5 335.5h0M476.6 335.6h0M477.8 335.2h0M479.0 336.3h0M480.4 334.9h0M481.6 335.6h0M483.0 335.3h0M484.0 335.5h0M485.4 336.0h0M486.7 336.1h0M487.7 335.9h0M488.9 336.0h0M489.9 335.4h0M491.2 335.5h0M492.3 335.5h0M493.4 336.0h0M494.5 336.8h0M495.8 335.6h0M496.9 335.8h0M498.2 336.6h0M499.3 335.0h0M500.3 336.2h0M501.5 336.1h0M502.8 336.5h0M503.8 335.6h0M505.0 336.1h0M506.2 336.2h0M507.4 336.1h0M508.8 336.2h0M510.1 335.5h0M511.2 335.6h0M512.5 336.6h0M513.9 336.0h0M515.2 336.0h0M516.5 335.9h0M517.5 335.3h0M518.8 336.2h0M519.9 335.4h0M521.1 334.9h0M522.3 335.5h0M523.6 335.0h0M525.0 336.1h0M526.0 334.7h0M527.3 336.0h0M528.4 336.1h0M529.9 335.8h0M531.3 336.3h0M532.7 335.9h0M534.1 335.4h0M535.0 336.1h0M536.2 335.9h0M537.2 336.2h0M538.6 335.5h0M539.8 335.6h0M540.8 336.2h0M542.0 337.2h0M543.4 335.5h0M544.4 335.0h0M545.4 336.2h0M546.4 336.0h0M547.7 336.1h0M549.0 336.1h0M550.3 335.9h0M551.7 336.0h0M553.1 336.1h0M554.4 336.2h0M555.7 336.0h0M556.7 335.6h0M557.8 336.0h0M558.9 335.0h0M559.9 335.6h0M561.0 336.5h0M562.1 336.2h0M563.2 336.6h0M564.5 335.8h0M565.7 336.1h0M567.2 336.6h0M568.2 336.1h0M569.2 335.5h0M570.5 336.1h0M571.5 335.7h0M573.7 334.2h0M574.6 335.4h0M575.8 335.3h0" fill="none" stroke="#00BFC4" stroke-width="3.7" stroke-linecap="round"/>
<path d="M357.2 333.7h0M359.9 334.3h0M362.2 333.6h0M366.3 334.2h0M368.4 335.1h0M373.4 335.5h0M375.4 334.4h0M377.4 334.0h0M379.3 333.8h0M382.5 334.3h0M384.8 333.3h0M386.3 333.5h0M387.3 333.8h0M388.6 334.7h0M389.9 333.4h0M391.0 334.1h0M392.1 334.7h0M393.2 334.0h0M395.5 334.0h0M396.7 334.6h0M398.1 334.5h0M399.2 333.9h0M400.3 334.5h0M401.5 334.1h0M402.5 333.7h0M403.4 334.4h0M404.5 333.7h0M405.6 334.3h0M406.6 334.1h0M407.6 334.8h0M408.8 334.5h0M410.1 335.0h0M411.1 333.7h0M413.7 334.5h0M415.1 334.3h0M416.4 334.1h0M417.7 333.3h0M418.7 334.5h0M420.1 334.1h0M421.5 334.9h0M422.5 334.4h0M423.5 334.4h0M424.9 334.5h0M425.9 335.0h0M427.3 333.5h0M428.4 334.4h0M429.6 334.5h0M431.7 335.1h0M433.0 333.9h0M434.0 335.5h0M435.0 333.7h0M436.4 333.2h0M437.4 334.8h0M438.7 334.1h0M439.9 333.5h0M441.3 333.5h0M442.4 334.5h0M443.7 333.9h0M444.8 333.9h0M446.2 333.8h0M447.5 333.1h0M448.5 334.9h0M449.9 334.6h0M450.9 334.1h0M452.3 334.6h0M453.6 334.4h0M454.6 334.5h0M455.8 333.7h0M456.9 334.1h0M457.9 334.2h0M459.0 333.3h0M460.3 333.8h0M461.3 334.0h0M462.6 334.3h0M463.7 333.8h0M464.0 334.1h0M465.1 334.4h0M466.5 334.2h0M467.8 334.7h0M468.9 335.5h0M470.3 334.6h0M471.4 334.2h0M472.4 334.9h0M473.8 335.0h0M476.2 333.9h0M477.6 334.7h0M478.7 335.1h0M480.1 334.6h0M481.4 334.0h0M483.1 334.2h0M484.3 334.4h0M485.6 334.0h0M486.7 334.1h0M487.9 333.2h0M489.0 334.2h0M490.2 333.7h0M491.2 334.3h0M492.4 333.8h0M494.2 334.0h0M495.6 333.7h0M496.6 334.2h0M497.8 334.1h0M499.0 334.4h0M500.2 333.8h0M501.5 334.9h0M502.5 334.9h0M503.7 334.5h0M504.9 334.4h0M506.3 334.8h0M507.4 334.1h0M508.7 334.4h0M510.2 334.4h0M511.7 333.4h0M513.1 334.1h0M514.2 333.6h0M515.4 333.7h0M516.5 334.2h0M517.7 333.7h0M518.7 333.0h0M519.8 333.6h0M521.2 333.5h0M522.6 333.4h0M523.8 333.3h0M525.2 333.1h0M526.4 334.0h0M528.7 333.2h0M530.1 333.1h0M531.3 333.7h0M532.3 333.6h0M533.6 334.3h0M534.6 335.5h0M536.0 334.2h0M537.5 334.7h0M539.0 334.3h0M540.1 334.3h0M541.1 333.8h0M542.2 334.5h0M543.5 333.6h0M544.8 334.8h0M545.8 334.5h0M546.9 334.3h0M548.7 333.6h0M550.1 334.3h0M551.1 334.7h0M552.4 334.6h0M553.8 333.9h0M555.1 335.4h0M556.3 334.7h0M557.3 335.1h0M559.3 335.0h0M560.3 335.4h0M561.4 334.7h0M562.7 334.6h0M563.7 335.1h0M565.1 334.6h0M566.5 335.2h0M567.8 334.7h0M568.8 335.6h0M569.7 334.7h0M570.8 335.2h0M572.2 335.1h0M573.5 334.4h0M471.2 330.1h0M491.2 329.4h0" fill="none" stroke="#C77CFF" stroke-width="3.7" stroke-linecap="round"/></g>
<line x1="343.50" y1="293.30" x2="343.50" y2="336.30" stroke="#404040" stroke-width="1.2"/>
<line x1="384.68" y1="293.30" x2="384.68" y2="336.30" stroke="#404040" stroke-width="1.2"/>
<line x1="425.86" y1="293.30" x2="425.86" y2="336.30" stroke="#404040" stroke-width="1.2"/>
<line x1="467.04" y1="293.30" x2="467.04" y2="336.30" stroke="#404040" stroke-width="1.2"/>
<line x1="508.22" y1="293.30" x2="508.22" y2="336.30" stroke="#404040" stroke-width="1.2"/>
<line x1="549.40" y1="293.30" x2="549.40" y2="336.30" stroke="#404040" stroke-width="1.2"/>
<rect x="340.30" y="293.30" width="247.20" height="43.00" fill="none" stroke="#999" stroke-width="0.9"/>
<rect x="340.30" y="275.80" width="247.20" height="17.50" fill="#d9d9d9" stroke="#b0b0b0" stroke-width="1.4"/>
<line x1="340.30" y1="293.30" x2="587.50" y2="293.30" stroke="#444" stroke-width="1"/>
<text x="463.90" y="288.90" text-anchor="middle" font-size="11.5" fill="#1a1a1a" stroke="#1a1a1a" stroke-width="0.12" style="font-family:'Liberation Sans',sans-serif">Non-significant</text>
<line x1="337.70" y1="336.30" x2="340.30" y2="336.30" stroke="#444" stroke-width="0.8"/>
<text x="335.10" y="340.30" text-anchor="end" font-size="11.5" fill="#222" stroke="#222" stroke-width="0.12" style="font-family:'Liberation Sans',sans-serif">0</text>
<line x1="337.70" y1="326.75" x2="340.30" y2="326.75" stroke="#444" stroke-width="0.8"/>
<text x="335.10" y="330.75" text-anchor="end" font-size="11.5" fill="#222" stroke="#222" stroke-width="0.12" style="font-family:'Liberation Sans',sans-serif">10</text>
<line x1="337.70" y1="317.20" x2="340.30" y2="317.20" stroke="#444" stroke-width="0.8"/>
<text x="335.10" y="321.20" text-anchor="end" font-size="11.5" fill="#222" stroke="#222" stroke-width="0.12" style="font-family:'Liberation Sans',sans-serif">20</text>
<line x1="337.70" y1="307.65" x2="340.30" y2="307.65" stroke="#444" stroke-width="0.8"/>
<text x="335.10" y="311.65" text-anchor="end" font-size="11.5" fill="#222" stroke="#222" stroke-width="0.12" style="font-family:'Liberation Sans',sans-serif">30</text>
<line x1="337.70" y1="298.10" x2="340.30" y2="298.10" stroke="#444" stroke-width="0.8"/>
<text x="335.10" y="302.10" text-anchor="end" font-size="11.5" fill="#222" stroke="#222" stroke-width="0.12" style="font-family:'Liberation Sans',sans-serif">40</text>
<line x1="343.50" y1="336.30" x2="343.50" y2="338.90" stroke="#444" stroke-width="0.8"/>
<text transform="translate(344.10,341.30) rotate(-45)" x="0" y="8" text-anchor="end" font-size="11.5" fill="#222" stroke="#222" stroke-width="0.12" style="font-family:'Liberation Sans',sans-serif">Jan 2015</text>
<line x1="364.09" y1="336.30" x2="364.09" y2="338.90" stroke="#444" stroke-width="0.8"/>
<text transform="translate(364.69,341.30) rotate(-45)" x="0" y="8" text-anchor="end" font-size="11.5" fill="#222" stroke="#222" stroke-width="0.12" style="font-family:'Liberation Sans',sans-serif">Jul 2015</text>
<line x1="384.68" y1="336.30" x2="384.68" y2="338.90" stroke="#444" stroke-width="0.8"/>
<text transform="translate(385.28,341.30) rotate(-45)" x="0" y="8" text-anchor="end" font-size="11.5" fill="#222" stroke="#222" stroke-width="0.12" style="font-family:'Liberation Sans',sans-serif">Jan 2016</text>
<line x1="405.27" y1="336.30" x2="405.27" y2="338.90" stroke="#444" stroke-width="0.8"/>
<text transform="translate(405.87,341.30) rotate(-45)" x="0" y="8" text-anchor="end" font-size="11.5" fill="#222" stroke="#222" stroke-width="0.12" style="font-family:'Liberation Sans',sans-serif">Jul 2016</text>
<line x1="425.86" y1="336.30" x2="425.86" y2="338.90" stroke="#444" stroke-width="0.8"/>
<text transform="translate(426.46,341.30) rotate(-45)" x="0" y="8" text-anchor="end" font-size="11.5" fill="#222" stroke="#222" stroke-width="0.12" style="font-family:'Liberation Sans',sans-serif">Jan 2017</text>
<line x1="446.45" y1="336.30" x2="446.45" y2="338.90" stroke="#444" stroke-width="0.8"/>
<text transform="translate(447.05,341.30) rotate(-45)" x="0" y="8" text-anchor="end" font-size="11.5" fill="#222" stroke="#222" stroke-width="0.12" style="font-family:'Liberation Sans',sans-serif">Jul 2017</text>
<line x1="467.04" y1="336.30" x2="467.04" y2="338.90" stroke="#444" stroke-width="0.8"/>
<text transform="translate(467.64,341.30) rotate(-45)" x="0" y="8" text-anchor="end" font-size="11.5" fill="#222" stroke="#222" stroke-width="0.12" style="font-family:'Liberation Sans',sans-serif">Jan 2018</text>
<line x1="487.63" y1="336.30" x2="487.63" y2="338.90" stroke="#444" stroke-width="0.8"/>
<text transform="translate(488.23,341.30) rotate(-45)" x="0" y="8" text-anchor="end" font-size="11.5" fill="#222" stroke="#222" stroke-width="0.12" style="font-family:'Liberation Sans',sans-serif">Jul 2018</text>
<line x1="508.22" y1="336.30" x2="508.22" y2="338.90" stroke="#444" stroke-width="0.8"/>
<text transform="translate(508.82,341.30) rotate(-45)" x="0" y="8" text-anchor="end" font-size="11.5" fill="#222" stroke="#222" stroke-width="0.12" style="font-family:'Liberation Sans',sans-serif">Jan 2019</text>
<line x1="528.81" y1="336.30" x2="528.81" y2="338.90" stroke="#444" stroke-width="0.8"/>
<text transform="translate(529.41,341.30) rotate(-45)" x="0" y="8" text-anchor="end" font-size="11.5" fill="#222" stroke="#222" stroke-width="0.12" style="font-family:'Liberation Sans',sans-serif">Jul 2019</text>
<line x1="549.40" y1="336.30" x2="549.40" y2="338.90" stroke="#444" stroke-width="0.8"/>
<text transform="translate(550.00,341.30) rotate(-45)" x="0" y="8" text-anchor="end" font-size="11.5" fill="#222" stroke="#222" stroke-width="0.12" style="font-family:'Liberation Sans',sans-serif">Jan 2020</text>
<line x1="569.99" y1="336.30" x2="569.99" y2="338.90" stroke="#444" stroke-width="0.8"/>
<text transform="translate(570.59,341.30) rotate(-45)" x="0" y="8" text-anchor="end" font-size="11.5" fill="#222" stroke="#222" stroke-width="0.12" style="font-family:'Liberation Sans',sans-serif">Jul 2020</text>
<text x="463.90" y="395.0" text-anchor="middle" font-size="11" font-weight="bold" fill="#000" style="font-family:'Liberation Sans',sans-serif">Date</text>
<text transform="translate(314.20,184.00) rotate(-90)" x="0" y="0" text-anchor="middle" font-size="11.45" font-weight="bold" fill="#000" style="font-family:'Liberation Sans',sans-serif">Relative abundance (%)</text>
<text x="-0.3" y="12.5" font-size="17.3" font-weight="bold" fill="#000" style="font-family:'Liberation Sans',sans-serif">A</text>
<text x="298.6" y="12.5" font-size="17.3" font-weight="bold" fill="#000" style="font-family:'Liberation Sans',sans-serif">B</text>
<text x="604" y="156.9" font-size="11.35" font-weight="bold" fill="#000" style="font-family:'Liberation Sans',sans-serif">Plant</text>
<circle cx="605.5" cy="170.70" r="0.75" fill="#F8766D" fill-opacity="0.6"/>
<line x1="612.6" y1="170.70" x2="614.8" y2="170.70" stroke="#F8766D" stroke-opacity="0.5" stroke-width="0.9"/>
<circle cx="610.3" cy="170.70" r="1.85" fill="#F8766D"/>
<text x="623.9" y="174.60" font-size="11.5" fill="#222" stroke="#222" stroke-width="0.12" style="font-family:'Liberation Sans',sans-serif">Aalborg E</text>
<circle cx="605.5" cy="184.85" r="0.75" fill="#7CAE00" fill-opacity="0.6"/>
<line x1="612.6" y1="184.85" x2="614.8" y2="184.85" stroke="#7CAE00" stroke-opacity="0.5" stroke-width="0.9"/>
<circle cx="610.3" cy="184.85" r="1.85" fill="#7CAE00"/>
<text x="623.9" y="188.75" font-size="11.5" fill="#222" stroke="#222" stroke-width="0.12" style="font-family:'Liberation Sans',sans-serif">Aalborg W</text>
<circle cx="605.5" cy="199.00" r="0.75" fill="#C77CFF" fill-opacity="0.6"/>
<line x1="612.6" y1="199.00" x2="614.8" y2="199.00" stroke="#C77CFF" stroke-opacity="0.5" stroke-width="0.9"/>
<circle cx="610.3" cy="199.00" r="1.85" fill="#C77CFF"/>
<text x="623.9" y="202.90" font-size="11.5" fill="#222" stroke="#222" stroke-width="0.12" style="font-family:'Liberation Sans',sans-serif">Randers</text>
<circle cx="605.5" cy="213.15" r="0.75" fill="#00BFC4" fill-opacity="0.6"/>
<line x1="612.6" y1="213.15" x2="614.8" y2="213.15" stroke="#00BFC4" stroke-opacity="0.5" stroke-width="0.9"/>
<circle cx="610.3" cy="213.15" r="1.85" fill="#00BFC4"/>
<text x="623.9" y="217.05" font-size="11.5" fill="#222" stroke="#222" stroke-width="0.12" style="font-family:'Liberation Sans',sans-serif">Damhusåen</text>
</svg></body></html>
